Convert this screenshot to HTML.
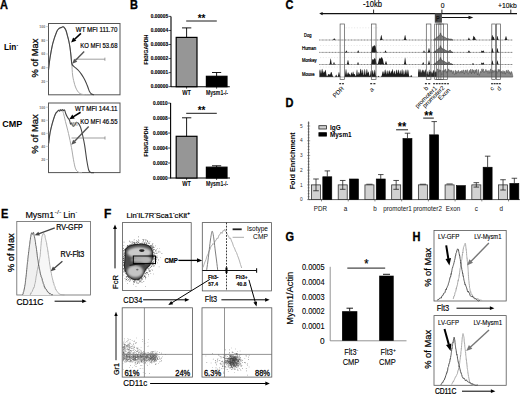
<!DOCTYPE html>
<html><head><meta charset="utf-8"><style>
html,body{margin:0;padding:0;background:#fff;width:520px;height:395px;overflow:hidden}
svg{display:block;font-family:"Liberation Sans",sans-serif}
</style></head><body>
<svg width="520" height="395" viewBox="0 0 520 395">
<rect width="520" height="395" fill="#fff"/>
<text x="0" y="9.3" font-size="11" font-weight="bold" text-anchor="start" fill="#000" transform="matrix(1,0,0,1.13,0,-1.21)" stroke="#000" stroke-width="0.3">A</text>
<rect x="48.5" y="23.5" width="71.5" height="71.3" fill="none" stroke="#555" stroke-width="1"/>
<rect x="48.5" y="103" width="71.5" height="69.6" fill="none" stroke="#555" stroke-width="1"/>
<text x="45.3" y="82.7" font-size="3.6" font-weight="bold" text-anchor="end" fill="#777" transform="matrix(1,0,0,1.13,0,-10.75)">20</text>
<line x1="46" y1="81.4" x2="48.5" y2="81.4" stroke="#999" stroke-width="0.5"/>
<text x="45.3" y="69" font-size="3.6" font-weight="bold" text-anchor="end" fill="#777" transform="matrix(1,0,0,1.13,0,-8.97)">40</text>
<line x1="46" y1="67.7" x2="48.5" y2="67.7" stroke="#999" stroke-width="0.5"/>
<text x="45.3" y="55.3" font-size="3.6" font-weight="bold" text-anchor="end" fill="#777" transform="matrix(1,0,0,1.13,0,-7.19)">60</text>
<line x1="46" y1="54" x2="48.5" y2="54" stroke="#999" stroke-width="0.5"/>
<text x="45.3" y="41.6" font-size="3.6" font-weight="bold" text-anchor="end" fill="#777" transform="matrix(1,0,0,1.13,0,-5.41)">80</text>
<line x1="46" y1="40.3" x2="48.5" y2="40.3" stroke="#999" stroke-width="0.5"/>
<text x="45.3" y="27.9" font-size="3.6" font-weight="bold" text-anchor="end" fill="#777" transform="matrix(1,0,0,1.13,0,-3.63)">100</text>
<line x1="46" y1="26.6" x2="48.5" y2="26.6" stroke="#999" stroke-width="0.5"/>
<text x="45.3" y="160.74" font-size="3.6" font-weight="bold" text-anchor="end" fill="#777" transform="matrix(1,0,0,1.13,0,-20.9)">20</text>
<line x1="46" y1="159.44" x2="48.5" y2="159.44" stroke="#999" stroke-width="0.5"/>
<text x="45.3" y="147.68" font-size="3.6" font-weight="bold" text-anchor="end" fill="#777" transform="matrix(1,0,0,1.13,0,-19.2)">40</text>
<line x1="46" y1="146.38" x2="48.5" y2="146.38" stroke="#999" stroke-width="0.5"/>
<text x="45.3" y="134.62" font-size="3.6" font-weight="bold" text-anchor="end" fill="#777" transform="matrix(1,0,0,1.13,0,-17.5)">60</text>
<line x1="46" y1="133.32" x2="48.5" y2="133.32" stroke="#999" stroke-width="0.5"/>
<text x="45.3" y="121.56" font-size="3.6" font-weight="bold" text-anchor="end" fill="#777" transform="matrix(1,0,0,1.13,0,-15.8)">80</text>
<line x1="46" y1="120.26" x2="48.5" y2="120.26" stroke="#999" stroke-width="0.5"/>
<text x="45.3" y="108.5" font-size="3.6" font-weight="bold" text-anchor="end" fill="#777" transform="matrix(1,0,0,1.13,0,-14.1)">100</text>
<line x1="46" y1="107.2" x2="48.5" y2="107.2" stroke="#999" stroke-width="0.5"/>
<text x="38.4" y="58" font-size="9.8" text-anchor="middle" fill="#000" transform="rotate(-90 38.4 58)" textLength="39" lengthAdjust="spacingAndGlyphs" stroke="#000" stroke-width="0.25">% of Max</text>
<text x="37.7" y="133.9" font-size="9.8" text-anchor="middle" fill="#000" transform="rotate(-90 37.7 133.9)" textLength="39.5" lengthAdjust="spacingAndGlyphs" stroke="#000" stroke-width="0.25">% of Max</text>
<text x="4" y="50.2" font-size="9.6" font-weight="bold" text-anchor="start" fill="#000" textLength="12.4" lengthAdjust="spacingAndGlyphs">Lin</text>
<text x="16.6" y="47" font-size="5" font-weight="bold" text-anchor="start" fill="#000" transform="matrix(1,0,0,1.13,0,-6.11)">-</text>
<text x="2.3" y="127.2" font-size="9.6" font-weight="bold" text-anchor="start" fill="#000" textLength="20" lengthAdjust="spacingAndGlyphs">CMP</text>
<path d="M48.5,70 C48.75,68 49.28,62.43 50,58 C50.72,53.57 51.68,47.78 52.8,43.4 C53.92,39.02 55.67,34.18 56.7,31.7 C57.73,29.22 58.18,29.22 59,28.5 C59.82,27.78 60.93,27.68 61.6,27.4 C62.27,27.12 62.52,26.73 63,26.8 C63.48,26.87 64,27.18 64.5,27.8 C65,28.42 65.52,29.2 66,30.5 C66.48,31.8 66.93,33.85 67.4,35.6 C67.87,37.35 68.37,39.02 68.8,41 C69.23,42.98 69.63,45 70,47.5 C70.37,50 70.7,53.25 71,56 C71.3,58.75 71.53,60.83 71.8,64 C72.07,67.17 72.23,72 72.6,75 C72.97,78 73.52,80 74,82 C74.48,84 74.92,85.5 75.5,87 C76.08,88.5 76.75,89.9 77.5,91 C78.25,92.1 78.92,93 80,93.6 C81.08,94.2 82.33,94.4 84,94.6 C85.67,94.8 89,94.77 90,94.8" fill="none" stroke="#aaa" stroke-width="1" stroke-linejoin="round"/>
<path d="M48.5,70 C48.75,68 49.28,62.43 50,58 C50.72,53.57 51.68,47.78 52.8,43.4 C53.92,39.02 55.67,34.18 56.7,31.7 C57.73,29.22 58.18,29.22 59,28.5 C59.82,27.78 60.93,27.68 61.6,27.4 C62.27,27.12 62.52,26.73 63,26.8 C63.48,26.87 64,27.18 64.5,27.8 C65,28.42 65.52,29.2 66,30.5 C66.48,31.8 66.93,33.85 67.4,35.6 C67.87,37.35 68.37,39.02 68.8,41 C69.23,42.98 69.63,45 70,47.5 C70.37,50 70.7,53.33 71,56 C71.3,58.67 71.38,61.8 71.8,63.5 C72.22,65.2 72.8,65.42 73.5,66.2 C74.2,66.98 75.17,67.48 76,68.2 C76.83,68.92 77.67,69.6 78.5,70.5 C79.33,71.4 80.17,72.43 81,73.6 C81.83,74.77 82.67,76.03 83.5,77.5 C84.33,78.97 85.25,80.73 86,82.4 C86.75,84.07 87.42,85.98 88,87.5 C88.58,89.02 88.92,90.42 89.5,91.5 C90.08,92.58 90.75,93.45 91.5,94 C92.25,94.55 93.58,94.67 94,94.8" fill="none" stroke="#444" stroke-width="1.1" stroke-linejoin="round"/>
<line x1="75.2" y1="59.2" x2="104.9" y2="59.2" stroke="#777" stroke-width="0.7"/>
<line x1="104.9" y1="57.6" x2="104.9" y2="60.8" stroke="#777" stroke-width="0.7"/>
<line x1="80.9" y1="33.3" x2="74.36" y2="39.5" stroke="#000" stroke-width="1.6"/>
<polygon points="71.1,42.6 73.14,37.49 76.31,40.83" fill="#000" stroke="none" stroke-width="0.5"/>
<line x1="84.2" y1="51.5" x2="75.34" y2="60.58" stroke="#555" stroke-width="1.4"/>
<polygon points="72.2,63.8 74.12,58.68 77.27,61.76" fill="#555" stroke="none" stroke-width="0.5"/>
<text x="75.8" y="31.8" font-size="6.6" text-anchor="start" fill="#000" transform="matrix(1,0,0,1.13,0,-4.13)" textLength="41.7" lengthAdjust="spacingAndGlyphs" stroke="#000" stroke-width="0.18">WT MFI 111.70</text>
<text x="80.2" y="48.4" font-size="6.6" text-anchor="start" fill="#000" transform="matrix(1,0,0,1.13,0,-6.29)" textLength="37.3" lengthAdjust="spacingAndGlyphs" stroke="#000" stroke-width="0.18">KO MFI 53.68</text>
<path d="M48.6,143.6 C48.92,141.5 49.77,134.77 50.5,131 C51.23,127.23 52.08,124 53,121 C53.92,118 55,114.83 56,113 C57,111.17 58,110.42 59,110 C60,109.58 61.25,109.92 62,110.5 C62.75,111.08 62.93,111.7 63.5,113.5 C64.07,115.3 64.57,117.97 65.4,121.3 C66.23,124.63 67.48,129.1 68.5,133.5 C69.52,137.9 70.67,143.32 71.5,147.7 C72.33,152.08 72.82,156.27 73.5,159.8 C74.18,163.33 74.75,166.83 75.6,168.9 C76.45,170.97 77.53,171.58 78.6,172.2 C79.67,172.82 81.43,172.53 82,172.6" fill="none" stroke="#aaa" stroke-width="1" stroke-linejoin="round"/>
<path d="M48.6,143.6 C48.83,141.83 49.38,136.37 50,133 C50.62,129.63 51.42,126.53 52.3,123.4 C53.18,120.27 54.43,116.18 55.3,114.2 C56.17,112.22 56.95,112.17 57.5,111.5 C58.05,110.83 58.25,110.23 58.6,110.2 C58.95,110.17 59.27,111.37 59.6,111.3 C59.93,111.23 60.27,109.92 60.6,109.8 C60.93,109.68 61.27,110.63 61.6,110.6 C61.93,110.57 62.27,109.6 62.6,109.6 C62.93,109.6 63.27,110.53 63.6,110.6 C63.93,110.67 64.27,109.57 64.6,110 C64.93,110.43 65.12,111.98 65.6,113.2 C66.08,114.42 66.85,116.12 67.5,117.3 C68.15,118.48 69,119.18 69.5,120.3 C70,121.42 70.17,123.52 70.5,124 C70.83,124.48 71.08,122.87 71.5,123.2 C71.92,123.53 72.48,125.63 73,126 C73.52,126.37 74.02,126.02 74.6,125.4 C75.18,124.78 75.83,122.6 76.5,122.3 C77.17,122 77.92,122.75 78.6,123.6 C79.28,124.45 79.92,125.42 80.6,127.4 C81.28,129.38 82.02,132.47 82.7,135.5 C83.38,138.53 84.03,141.55 84.7,145.6 C85.37,149.65 86.03,155.73 86.7,159.8 C87.37,163.87 88.02,167.9 88.7,170 C89.38,172.1 89.92,171.97 90.8,172.4 C91.68,172.83 93.47,172.57 94,172.6" fill="none" stroke="#444" stroke-width="1.1" stroke-linejoin="round"/>
<text x="71.3" y="125.6" font-size="4.6" font-weight="bold" text-anchor="start" fill="#888" transform="matrix(1,0,0,1.13,0,-16.33)">WT</text>
<line x1="71.5" y1="138" x2="105" y2="138" stroke="#777" stroke-width="0.7"/>
<line x1="105" y1="136.4" x2="105" y2="139.6" stroke="#777" stroke-width="0.7"/>
<line x1="80.6" y1="112.2" x2="73.13" y2="116.83" stroke="#000" stroke-width="1.6"/>
<polygon points="69.3,119.2 72.34,114.61 74.76,118.52" fill="#000" stroke="none" stroke-width="0.5"/>
<line x1="88.7" y1="126.4" x2="74.39" y2="141.53" stroke="#555" stroke-width="1.4"/>
<polygon points="71.3,144.8 73.14,139.66 76.33,142.68" fill="#555" stroke="none" stroke-width="0.5"/>
<text x="75" y="111.1" font-size="6.6" text-anchor="start" fill="#000" transform="matrix(1,0,0,1.13,0,-14.44)" textLength="42.5" lengthAdjust="spacingAndGlyphs" stroke="#000" stroke-width="0.18">WT MFI 144.11</text>
<text x="80.2" y="123.6" font-size="6.6" text-anchor="start" fill="#000" transform="matrix(1,0,0,1.13,0,-16.07)" textLength="37.3" lengthAdjust="spacingAndGlyphs" stroke="#000" stroke-width="0.18">KO MFI 46.55</text>
<text x="130" y="9" font-size="11" font-weight="bold" text-anchor="start" fill="#000" transform="matrix(1,0,0,1.13,0,-1.17)" stroke="#000" stroke-width="0.3">B</text>
<line x1="168.5" y1="86.7" x2="171" y2="86.7" stroke="#000" stroke-width="0.7"/>
<text x="168.1" y="88.4" font-size="4.8" font-weight="bold" text-anchor="end" fill="#000" transform="matrix(1,0,0,1.13,0,-11.49)" stroke="#000" stroke-width="0.12">0.00000</text>
<line x1="168.5" y1="72.64" x2="171" y2="72.64" stroke="#000" stroke-width="0.7"/>
<text x="168.1" y="74.34" font-size="4.8" font-weight="bold" text-anchor="end" fill="#000" transform="matrix(1,0,0,1.13,0,-9.66)" stroke="#000" stroke-width="0.12">0.00001</text>
<line x1="168.5" y1="58.58" x2="171" y2="58.58" stroke="#000" stroke-width="0.7"/>
<text x="168.1" y="60.28" font-size="4.8" font-weight="bold" text-anchor="end" fill="#000" transform="matrix(1,0,0,1.13,0,-7.84)" stroke="#000" stroke-width="0.12">0.00002</text>
<line x1="168.5" y1="44.52" x2="171" y2="44.52" stroke="#000" stroke-width="0.7"/>
<text x="168.1" y="46.22" font-size="4.8" font-weight="bold" text-anchor="end" fill="#000" transform="matrix(1,0,0,1.13,0,-6.01)" stroke="#000" stroke-width="0.12">0.00003</text>
<line x1="168.5" y1="30.46" x2="171" y2="30.46" stroke="#000" stroke-width="0.7"/>
<text x="168.1" y="32.16" font-size="4.8" font-weight="bold" text-anchor="end" fill="#000" transform="matrix(1,0,0,1.13,0,-4.18)" stroke="#000" stroke-width="0.12">0.00004</text>
<line x1="168.5" y1="16.4" x2="171" y2="16.4" stroke="#000" stroke-width="0.7"/>
<text x="168.1" y="18.1" font-size="4.8" font-weight="bold" text-anchor="end" fill="#000" transform="matrix(1,0,0,1.13,0,-2.35)" stroke="#000" stroke-width="0.12">0.00005</text>
<line x1="171" y1="16.4" x2="171" y2="87.1" stroke="#000" stroke-width="1.1"/>
<line x1="171" y1="86.7" x2="229.8" y2="86.7" stroke="#000" stroke-width="1.1"/>
<line x1="186.6" y1="86.7" x2="186.6" y2="88.7" stroke="#000" stroke-width="0.7"/>
<line x1="216.6" y1="86.7" x2="216.6" y2="88.7" stroke="#000" stroke-width="0.7"/>
<rect x="176.2" y="37.4" width="20.8" height="49.3" fill="#969696" stroke="#000" stroke-width="1.2"/>
<line x1="186.6" y1="37.4" x2="186.6" y2="27.9" stroke="#000" stroke-width="0.9"/>
<line x1="182" y1="27.9" x2="191.3" y2="27.9" stroke="#000" stroke-width="0.9"/>
<rect x="206.4" y="76.3" width="20.6" height="10.4" fill="#000" stroke="#000" stroke-width="1.2"/>
<line x1="216.6" y1="76.3" x2="216.6" y2="72.5" stroke="#000" stroke-width="0.9"/>
<line x1="212" y1="72.5" x2="221.2" y2="72.5" stroke="#000" stroke-width="0.9"/>
<line x1="186.2" y1="21" x2="216.8" y2="21" stroke="#000" stroke-width="0.9"/>
<text x="201.6" y="21.7" font-size="10" font-weight="bold" text-anchor="middle" fill="#000" transform="matrix(1,0,0,1.13,0,-2.82)">**</text>
<text x="186.6" y="95.1" font-size="5.6" font-weight="bold" text-anchor="middle" fill="#000" transform="matrix(1,0,0,1.13,0,-12.36)">WT</text>
<text x="217" y="95.1" font-size="5.6" font-weight="bold" text-anchor="middle" fill="#000" transform="matrix(1,0,0,1.13,0,-12.36)" textLength="22" lengthAdjust="spacingAndGlyphs">Mysm1-/-</text>
<text x="147.6" y="49.6" font-size="5.3" font-weight="bold" text-anchor="middle" fill="#000" transform="rotate(-90 147.6 49.6)" textLength="30" lengthAdjust="spacingAndGlyphs" stroke="#000" stroke-width="0.1">Flt3/GAPDH</text>
<line x1="168.1" y1="178" x2="170.6" y2="178" stroke="#000" stroke-width="0.7"/>
<text x="167.7" y="179.7" font-size="4.8" font-weight="bold" text-anchor="end" fill="#000" transform="matrix(1,0,0,1.13,0,-23.36)" stroke="#000" stroke-width="0.12">0.0000</text>
<line x1="168.1" y1="163.02" x2="170.6" y2="163.02" stroke="#000" stroke-width="0.7"/>
<text x="167.7" y="164.72" font-size="4.8" font-weight="bold" text-anchor="end" fill="#000" transform="matrix(1,0,0,1.13,0,-21.41)" stroke="#000" stroke-width="0.12">0.0002</text>
<line x1="168.1" y1="148.04" x2="170.6" y2="148.04" stroke="#000" stroke-width="0.7"/>
<text x="167.7" y="149.74" font-size="4.8" font-weight="bold" text-anchor="end" fill="#000" transform="matrix(1,0,0,1.13,0,-19.47)" stroke="#000" stroke-width="0.12">0.0004</text>
<line x1="168.1" y1="133.06" x2="170.6" y2="133.06" stroke="#000" stroke-width="0.7"/>
<text x="167.7" y="134.76" font-size="4.8" font-weight="bold" text-anchor="end" fill="#000" transform="matrix(1,0,0,1.13,0,-17.52)" stroke="#000" stroke-width="0.12">0.0006</text>
<line x1="168.1" y1="118.08" x2="170.6" y2="118.08" stroke="#000" stroke-width="0.7"/>
<text x="167.7" y="119.78" font-size="4.8" font-weight="bold" text-anchor="end" fill="#000" transform="matrix(1,0,0,1.13,0,-15.57)" stroke="#000" stroke-width="0.12">0.0008</text>
<line x1="168.1" y1="103.1" x2="170.6" y2="103.1" stroke="#000" stroke-width="0.7"/>
<text x="167.7" y="104.8" font-size="4.8" font-weight="bold" text-anchor="end" fill="#000" transform="matrix(1,0,0,1.13,0,-13.62)" stroke="#000" stroke-width="0.12">0.0010</text>
<line x1="170.6" y1="103.1" x2="170.6" y2="178.4" stroke="#000" stroke-width="1.1"/>
<line x1="170.6" y1="178" x2="230" y2="178" stroke="#000" stroke-width="1.1"/>
<line x1="186.6" y1="178" x2="186.6" y2="180" stroke="#000" stroke-width="0.7"/>
<line x1="216.6" y1="178" x2="216.6" y2="180" stroke="#000" stroke-width="0.7"/>
<rect x="176.2" y="136.3" width="20.8" height="41.7" fill="#969696" stroke="#000" stroke-width="1.2"/>
<line x1="186.6" y1="136.3" x2="186.6" y2="117.8" stroke="#000" stroke-width="0.9"/>
<line x1="182" y1="117.8" x2="191.3" y2="117.8" stroke="#000" stroke-width="0.9"/>
<rect x="206.4" y="167.2" width="20.6" height="10.8" fill="#000" stroke="#000" stroke-width="1.2"/>
<line x1="216.6" y1="167.2" x2="216.6" y2="165.8" stroke="#000" stroke-width="0.9"/>
<line x1="212" y1="165.8" x2="221.2" y2="165.8" stroke="#000" stroke-width="0.9"/>
<line x1="186.2" y1="113.3" x2="216.8" y2="113.3" stroke="#000" stroke-width="0.9"/>
<text x="201.6" y="114" font-size="10" font-weight="bold" text-anchor="middle" fill="#000" transform="matrix(1,0,0,1.13,0,-14.82)">**</text>
<text x="186.6" y="186.4" font-size="5.6" font-weight="bold" text-anchor="middle" fill="#000" transform="matrix(1,0,0,1.13,0,-24.23)">WT</text>
<text x="217" y="186.4" font-size="5.6" font-weight="bold" text-anchor="middle" fill="#000" transform="matrix(1,0,0,1.13,0,-24.23)" textLength="22" lengthAdjust="spacingAndGlyphs">Mysm1-/-</text>
<text x="147.6" y="141.5" font-size="5.3" font-weight="bold" text-anchor="middle" fill="#000" transform="rotate(-90 147.6 141.5)" textLength="30" lengthAdjust="spacingAndGlyphs" stroke="#000" stroke-width="0.1">Flt3/GAPDH</text>
<text x="285.6" y="9.2" font-size="11" font-weight="bold" text-anchor="start" fill="#000" transform="matrix(1,0,0,1.13,0,-1.2)" stroke="#000" stroke-width="0.3">C</text>
<line x1="321" y1="13.6" x2="517" y2="13.6" stroke="#111" stroke-width="1.1"/>
<polygon points="319.2,13.6 322.6,11.9 322.6,15.3" fill="#111" stroke="none" stroke-width="0.5"/>
<line x1="373.6" y1="9.6" x2="373.6" y2="13.6" stroke="#111" stroke-width="0.9"/>
<line x1="441.9" y1="9.6" x2="441.9" y2="13.6" stroke="#111" stroke-width="0.9"/>
<line x1="510.8" y1="9.6" x2="510.8" y2="13.6" stroke="#111" stroke-width="0.9"/>
<text x="372.6" y="7.3" font-size="7.4" text-anchor="middle" fill="#000" transform="matrix(1,0,0,1.13,0,-0.95)" textLength="19" lengthAdjust="spacingAndGlyphs" stroke="#000" stroke-width="0.12">-10kb</text>
<text x="442.7" y="7.9" font-size="6.8" text-anchor="middle" fill="#000" transform="matrix(1,0,0,1.13,0,-1.03)" stroke="#000" stroke-width="0.12">0</text>
<text x="507.4" y="7.9" font-size="7" text-anchor="middle" fill="#000" transform="matrix(1,0,0,1.13,0,-1.03)" textLength="18.6" lengthAdjust="spacingAndGlyphs" stroke="#000" stroke-width="0.12">+10kb</text>
<rect x="434.8" y="13.3" width="7.1" height="9.4" fill="#4a4a4a" stroke="none" stroke-width="1"/>
<text x="436" y="20.6" font-size="5.6" font-weight="bold" text-anchor="start" fill="#111" transform="matrix(1,0,0,1.13,0,-2.68)">P</text>
<line x1="441.9" y1="17.5" x2="469.5" y2="17.5" stroke="#111" stroke-width="1"/>
<polygon points="473.3,17.5 468.5,15.7 468.5,19.3" fill="#111" stroke="none" stroke-width="0.5"/>
<text x="304.1" y="37.4" font-size="4.6" text-anchor="start" fill="#000" transform="matrix(1,0,0,1.13,0,-4.86)" textLength="7.4" lengthAdjust="spacingAndGlyphs" stroke="#000" stroke-width="0.2">Dog</text>
<text x="302" y="49.8" font-size="4.6" text-anchor="start" fill="#000" transform="matrix(1,0,0,1.13,0,-6.47)" textLength="14.2" lengthAdjust="spacingAndGlyphs" stroke="#000" stroke-width="0.2">Human</text>
<text x="302" y="62.3" font-size="4.6" text-anchor="start" fill="#000" transform="matrix(1,0,0,1.13,0,-8.1)" textLength="14.6" lengthAdjust="spacingAndGlyphs" stroke="#000" stroke-width="0.2">Monkey</text>
<text x="302" y="75.6" font-size="4.6" text-anchor="start" fill="#000" transform="matrix(1,0,0,1.13,0,-9.83)" textLength="12.5" lengthAdjust="spacingAndGlyphs" stroke="#000" stroke-width="0.2">Mouse</text>
<line x1="345.6" y1="27.8" x2="378" y2="27.8" stroke="#d4d4d4" stroke-width="0.5" stroke-dasharray="1.2,1.6"/>
<line x1="320" y1="45.5" x2="512" y2="45.5" stroke="#d4d4d4" stroke-width="0.5" stroke-dasharray="1.2,1.6"/>
<line x1="320" y1="57.6" x2="512" y2="57.6" stroke="#d4d4d4" stroke-width="0.5" stroke-dasharray="1.2,1.6"/>
<line x1="320" y1="67" x2="512" y2="67" stroke="#d4d4d4" stroke-width="0.5" stroke-dasharray="1.2,1.6"/>
<line x1="319.4" y1="40" x2="512.6" y2="40" stroke="#777" stroke-width="0.5"/>
<line x1="319.4" y1="40" x2="512.6" y2="40" stroke="#333" stroke-width="0.6" stroke-dasharray="0.6,2.6"/>
<polygon points="433.5,40 433.5,39.98 433.8,39.92 434.1,39.7 434.4,39.27 434.7,38.75 435,38.48 435.3,38.65 435.6,38.89 435.9,38.65 436.2,37.88 436.5,37.2 436.8,37.22 437.1,37.61 437.4,37.51 437.7,36.78 438,36.21 438.3,36.24 438.6,36.25 438.9,35.77 439.2,35.42 439.5,35.57 439.8,35.26 440.1,33.87 440.4,32.86 440.7,33.5 441,34.59 441.3,34.92 441.6,35.19 441.9,35.96 442.2,36.46 442.5,36.21 442.8,35.99 443.1,36.53 443.4,37.31 443.7,37.41 444,36.95 444.3,36.81 444.6,37.27 444.9,37.76 445.2,37.83 445.5,37.71 445.8,37.81 446.1,38.13 446.4,38.32 446.7,38.25 447,38.22 447.3,38.5 447.6,38.89 447.9,39.02 448.2,38.87 448.5,38.68 448.8,38.7 449.1,38.9 449.4,39.05 449.7,39.05 450,38.96 450.3,38.97 450.6,39.1 450.9,39.23 451.2,39.24 451.5,39.22 451.8,39.33 452.1,39.57 452.4,39.8 452.7,39.94 453,40" fill="#888" stroke="#222" stroke-width="0.5"/>
<polygon points="319.4,40 319.4,40 319.7,40 320,40 320.3,40 320.6,40 320.9,40 321.2,40 321.5,40 321.8,40 322.1,40 322.4,40 322.7,40 323,40 323.3,40 323.6,40 323.9,40 324.2,40 324.5,40 324.8,40 325.1,40 325.4,40 325.7,40 326,40 326.3,40 326.6,40 326.9,40 327.2,40 327.5,40 327.8,40 328.1,40 328.4,40 328.7,40 329,40 329.3,40 329.6,40 329.9,40 330.2,40 330.5,40 330.8,40 331.1,40 331.4,40 331.7,40 332,40 332.3,40 332.6,39.99 332.9,39.94 333.2,39.76 333.5,39.32 333.8,38.69 334.1,38.24 334.4,38.34 334.7,38.91 335,39.5 335.3,39.84 335.6,39.96 335.9,39.99 336.2,40 336.5,40 336.8,40 337.1,40 337.4,40 337.7,40 338,40 338.3,40 338.6,40 338.9,40 339.2,40 339.5,40 339.8,40 340.1,40 340.4,40 340.7,40 341,40 341.3,40 341.6,40 341.9,40 342.2,40 342.5,40 342.8,40 343.1,40 343.4,40 343.7,40 344,40 344.3,40 344.6,40 344.9,40 345.2,40 345.5,40 345.8,40 346.1,40 346.4,40 346.7,40 347,40 347.3,40 347.6,40 347.9,40 348.2,40 348.5,40 348.8,40 349.1,40 349.4,40 349.7,40 350,40 350.3,40 350.6,40 350.9,40 351.2,40 351.5,40 351.8,40 352.1,40 352.4,40 352.7,40 353,40 353.3,40 353.6,40 353.9,40 354.2,40 354.5,40 354.8,40 355.1,40 355.4,40 355.7,40 356,40 356.3,40 356.6,40 356.9,40 357.2,40 357.5,40 357.8,40 358.1,40 358.4,40 358.7,40 359,40 359.3,40 359.6,40 359.9,40 360.2,40 360.5,40 360.8,40 361.1,40 361.4,40 361.7,40 362,40 362.3,40 362.6,40 362.9,40 363.2,40 363.5,40 363.8,40 364.1,40 364.4,40 364.7,40 365,40 365.3,40 365.6,40 365.9,40 366.2,40 366.5,40 366.8,40 367.1,40 367.4,40 367.7,40 368,40 368.3,40 368.6,40 368.9,40 369.2,40 369.5,40 369.8,40 370.1,40 370.4,40 370.7,40 371,40 371.3,40 371.6,40 371.9,40 372.2,40 372.5,40 372.8,40 373.1,40 373.4,40 373.7,40 374,40 374.3,40 374.6,40 374.9,40 375.2,40 375.5,40 375.8,40 376.1,40 376.4,40 376.7,40 377,40 377.3,40 377.6,40 377.9,40 378.2,40 378.5,40 378.8,40 379.1,40 379.4,39.99 379.7,39.92 380,39.68 380.3,39 380.6,37.69 380.9,36.01 381.2,34.89 381.5,35.13 381.8,36.56 382.1,38.19 382.4,39.3 382.7,39.8 383,39.96 383.3,39.99 383.6,40 383.9,40 384.2,40 384.5,40 384.8,40 385.1,40 385.4,40 385.7,40 386,40 386.3,40 386.6,40 386.9,40 387.2,40 387.5,40 387.8,40 388.1,40 388.4,40 388.7,40 389,40 389.3,40 389.6,40 389.9,40 390.2,40 390.5,40 390.8,40 391.1,40 391.4,40 391.7,40 392,40 392.3,40 392.6,40 392.9,40 393.2,40 393.5,40 393.8,40 394.1,40 394.4,40 394.7,40 395,40 395.3,40 395.6,40 395.9,40 396.2,40 396.5,40 396.8,40 397.1,40 397.4,40 397.7,40 398,40 398.3,40 398.6,40 398.9,40 399.2,40 399.5,40 399.8,40 400.1,40 400.4,40 400.7,40 401,40 401.3,40 401.6,40 401.9,40 402.2,40 402.5,40 402.8,40 403.1,39.99 403.4,39.96 403.7,39.8 404,39.3 404.3,38.19 404.6,36.56 404.9,35.13 405.2,34.89 405.5,36.01 405.8,37.69 406.1,39 406.4,39.68 406.7,39.92 407,39.99 407.3,40 407.6,40 407.9,40 408.2,40 408.5,40 408.8,40 409.1,40 409.4,40 409.7,40 410,40 410.3,40 410.6,40 410.9,40 411.2,40 411.5,40 411.8,40 412.1,40 412.4,40 412.7,40 413,40 413.3,40 413.6,40 413.9,40 414.2,40 414.5,40 414.8,40 415.1,40 415.4,40 415.7,40 416,40 416.3,40 416.6,40 416.9,40 417.2,40 417.5,40 417.8,40 418.1,40 418.4,40 418.7,40 419,40 419.3,40 419.6,40 419.9,40 420.2,40 420.5,40 420.8,40 421.1,40 421.4,40 421.7,40 422,40 422.3,40 422.6,40 422.9,40 423.2,40 423.5,40 423.8,40 424.1,40 424.4,40 424.7,40 425,40 425.3,40 425.6,40 425.9,40 426.2,40 426.5,40 426.8,40 427.1,40 427.4,40 427.7,40 428,40 428.3,40 428.6,40 428.9,40 429.2,40 429.5,40 429.8,40 430.1,40 430.4,40 430.7,40 431,40 431.3,40 431.6,40 431.9,40 432.2,40 432.5,40 432.8,40 433.1,40 433.4,40 433.7,40 434,40 434.3,40 434.6,40 434.9,40 435.2,40 435.5,40 435.8,40 436.1,40 436.4,40 436.7,40 437,40 437.3,40 437.6,40 437.9,40 438.2,40 438.5,40 438.8,40 439.1,40 439.4,40 439.7,40 440,40 440.3,40 440.6,40 440.9,40 441.2,40 441.5,40 441.8,40 442.1,40 442.4,40 442.7,40 443,40 443.3,40 443.6,40 443.9,40 444.2,40 444.5,40 444.8,40 445.1,40 445.4,40 445.7,40 446,40 446.3,40 446.6,40 446.9,40 447.2,40 447.5,40 447.8,40 448.1,40 448.4,40 448.7,40 449,40 449.3,40 449.6,40 449.9,40 450.2,40 450.5,40 450.8,40 451.1,40 451.4,40 451.7,40 452,40 452.3,40 452.6,40 452.9,40 453.2,40 453.5,40 453.8,40 454.1,40 454.4,40 454.7,40 455,40 455.3,40 455.6,40 455.9,40 456.2,40 456.5,40 456.8,40 457.1,40 457.4,40 457.7,40 458,40 458.3,40 458.6,40 458.9,40 459.2,40 459.5,40 459.8,40 460.1,40 460.4,40 460.7,40 461,40 461.3,40 461.6,40 461.9,40 462.2,40 462.5,40 462.8,40 463.1,40 463.4,40 463.7,40 464,40 464.3,40 464.6,40 464.9,40 465.2,40 465.5,40 465.8,40 466.1,40 466.4,40 466.7,40 467,40 467.3,39.99 467.6,39.91 467.9,39.66 468.2,39.06 468.5,38.18 468.8,37.55 469.1,37.69 469.4,38.48 469.7,39.3 470,39.78 470.3,39.95 470.6,39.99 470.9,40 471.2,40 471.5,40 471.8,39.99 472.1,39.95 472.4,39.76 472.7,39.17 473,37.95 473.3,36.46 473.6,35.66 473.9,36 474.2,36.74 474.5,37.08 474.8,37.26 475.1,37.87 475.4,38.78 475.7,39.51 476,39.86 476.3,39.97 476.6,40 476.9,40 477.2,40 477.5,40 477.8,40 478.1,40 478.4,40 478.7,40 479,40 479.3,40 479.6,40 479.9,40 480.2,40 480.5,40 480.8,40 481.1,40 481.4,40 481.7,40 482,40 482.3,40 482.6,40 482.9,40 483.2,40 483.5,40 483.8,40 484.1,40 484.4,40 484.7,40 485,40 485.3,40 485.6,40 485.9,40 486.2,40 486.5,40 486.8,40 487.1,40 487.4,40 487.7,40 488,40 488.3,40 488.6,40 488.9,40 489.2,40 489.5,40 489.8,40 490.1,40 490.4,40 490.7,39.97 491,39.83 491.3,39.32 491.6,38.12 491.9,36.36 492.2,35.04 492.5,35.12 492.8,36.13 493.1,36.79 493.4,36.79 493.7,36.96 494,37.81 494.3,38.87 494.6,39.59 494.9,39.9 495.2,39.98 495.5,39.99 495.8,39.97 496.1,39.86 496.4,39.43 496.7,38.42 497,36.95 497.3,35.88 497.6,36.12 497.9,37.45 498.2,38.83 498.5,39.63 498.8,39.92 499.1,39.99 499.4,40 499.7,40 500,40 500.3,40 500.6,40 500.9,40 501.2,40 501.5,40 501.8,40 502.1,40 502.4,40 502.7,40 503,40 503.3,40 503.6,40 503.9,39.99 504.2,39.96 504.5,39.82 504.8,39.46 505.1,38.7 505.4,37.57 505.7,36.47 506,36 506.3,36.47 506.6,37.57 506.9,38.7 507.2,39.46 507.5,39.82 507.8,39.96 508.1,39.99 508.4,40 508.7,40 509,40 509.3,40 509.6,40 509.9,40 510.2,40 510.5,40 510.8,40 511.1,40 511.4,40 511.7,40 512,40 512.3,40 512.6,40" fill="#222" stroke="none" stroke-width="0.4"/>
<line x1="319.4" y1="52.4" x2="512.6" y2="52.4" stroke="#777" stroke-width="0.5"/>
<line x1="319.4" y1="52.4" x2="512.6" y2="52.4" stroke="#333" stroke-width="0.6" stroke-dasharray="0.6,2.6"/>
<polygon points="433.5,52.4 433.5,52.38 433.8,52.32 434.1,52.12 434.4,51.71 434.7,51.21 435,50.96 435.3,51.12 435.6,51.35 435.9,51.12 436.2,50.38 436.5,49.74 436.8,49.76 437.1,50.13 437.4,50.04 437.7,49.34 438,48.8 438.3,48.82 438.6,48.84 438.9,48.39 439.2,48.05 439.5,48.19 439.8,47.9 440.1,46.58 440.4,45.62 440.7,46.22 441,47.26 441.3,47.58 441.6,47.83 441.9,48.56 442.2,49.04 442.5,48.8 442.8,48.59 443.1,49.11 443.4,49.84 443.7,49.94 444,49.51 444.3,49.37 444.6,49.8 444.9,50.27 445.2,50.34 445.5,50.22 445.8,50.32 446.1,50.62 446.4,50.8 446.7,50.73 447,50.71 447.3,50.97 447.6,51.34 447.9,51.47 448.2,51.32 448.5,51.13 448.8,51.08 449.1,51.05 449.4,50.77 449.7,50.25 450,49.92 450.3,50.17 450.6,50.81 450.9,51.37 451.2,51.6 451.5,51.64 451.8,51.76 452.1,51.99 452.4,52.21 452.7,52.34 453,52.4" fill="#777" stroke="#1a1a1a" stroke-width="0.5"/>
<polygon points="319.4,52.4 319.4,52.4 319.7,52.4 320,52.4 320.3,52.4 320.6,52.4 320.9,52.4 321.2,52.4 321.5,52.4 321.8,52.4 322.1,52.4 322.4,52.4 322.7,52.4 323,52.4 323.3,52.4 323.6,52.4 323.9,52.4 324.2,52.4 324.5,52.4 324.8,52.4 325.1,52.4 325.4,52.4 325.7,52.4 326,52.4 326.3,52.4 326.6,52.4 326.9,52.4 327.2,52.4 327.5,52.4 327.8,52.4 328.1,52.4 328.4,52.4 328.7,52.4 329,52.4 329.3,52.4 329.6,52.4 329.9,52.4 330.2,52.4 330.5,52.4 330.8,52.4 331.1,52.4 331.4,52.4 331.7,52.4 332,52.4 332.3,52.4 332.6,52.4 332.9,52.4 333.2,52.4 333.5,52.4 333.8,52.4 334.1,52.4 334.4,52.4 334.7,52.4 335,52.4 335.3,52.4 335.6,52.4 335.9,52.4 336.2,52.4 336.5,52.4 336.8,52.4 337.1,52.4 337.4,52.4 337.7,52.4 338,52.4 338.3,52.4 338.6,52.4 338.9,52.4 339.2,52.4 339.5,52.4 339.8,52.4 340.1,52.4 340.4,52.4 340.7,52.4 341,52.4 341.3,52.4 341.6,52.4 341.9,52.4 342.2,52.4 342.5,52.4 342.8,52.4 343.1,52.4 343.4,52.4 343.7,52.4 344,52.4 344.3,52.4 344.6,52.4 344.9,52.38 345.2,52.29 345.5,52 345.8,51.43 346.1,50.73 346.4,50.4 346.7,50.73 347,51.43 347.3,52 347.6,52.29 347.9,52.38 348.2,52.4 348.5,52.4 348.8,52.4 349.1,52.4 349.4,52.4 349.7,52.4 350,52.4 350.3,52.4 350.6,52.4 350.9,52.4 351.2,52.4 351.5,52.4 351.8,52.4 352.1,52.4 352.4,52.4 352.7,52.4 353,52.4 353.3,52.4 353.6,52.4 353.9,52.4 354.2,52.4 354.5,52.4 354.8,52.4 355.1,52.4 355.4,52.4 355.7,52.4 356,52.4 356.3,52.4 356.6,52.4 356.9,52.37 357.2,52.21 357.5,51.74 357.8,50.92 358.1,50.25 358.4,50.41 358.7,51.21 359,51.95 359.3,52.29 359.6,52.38 359.9,52.4 360.2,52.4 360.5,52.4 360.8,52.4 361.1,52.4 361.4,52.4 361.7,52.4 362,52.4 362.3,52.4 362.6,52.4 362.9,52.4 363.2,52.4 363.5,52.4 363.8,52.4 364.1,52.4 364.4,52.4 364.7,52.4 365,52.4 365.3,52.4 365.6,52.4 365.9,52.4 366.2,52.4 366.5,52.4 366.8,52.4 367.1,52.4 367.4,52.4 367.7,52.4 368,52.4 368.3,52.4 368.6,52.4 368.9,52.4 369.2,52.4 369.5,52.4 369.8,52.4 370.1,52.39 370.4,52.36 370.7,52.26 371,51.99 371.3,51.4 371.6,50.38 371.9,48.98 372.2,47.54 372.5,46.53 372.8,46.18 373.1,46.26 373.4,46.25 373.7,45.91 374,45.47 374.3,45.29 374.6,45.42 374.9,45.58 375.2,45.75 375.5,46.29 375.8,47.53 376.1,49.21 376.4,50.73 376.7,51.71 377,52.18 377.3,52.34 377.6,52.39 377.9,52.4 378.2,52.4 378.5,52.4 378.8,52.4 379.1,52.4 379.4,52.4 379.7,52.4 380,52.4 380.3,52.4 380.6,52.4 380.9,52.4 381.2,52.4 381.5,52.4 381.8,52.4 382.1,52.4 382.4,52.4 382.7,52.4 383,52.4 383.3,52.4 383.6,52.4 383.9,52.4 384.2,52.37 384.5,52.23 384.8,51.8 385.1,51.05 385.4,50.45 385.7,50.59 386,51.32 386.3,51.99 386.6,52.3 386.9,52.38 387.2,52.4 387.5,52.4 387.8,52.4 388.1,52.4 388.4,52.4 388.7,52.4 389,52.4 389.3,52.4 389.6,52.4 389.9,52.4 390.2,52.4 390.5,52.4 390.8,52.4 391.1,52.4 391.4,52.4 391.7,52.4 392,52.4 392.3,52.4 392.6,52.4 392.9,52.4 393.2,52.4 393.5,52.4 393.8,52.4 394.1,52.4 394.4,52.4 394.7,52.4 395,52.4 395.3,52.4 395.6,52.4 395.9,52.4 396.2,52.4 396.5,52.4 396.8,52.4 397.1,52.4 397.4,52.4 397.7,52.4 398,52.4 398.3,52.4 398.6,52.4 398.9,52.4 399.2,52.4 399.5,52.4 399.8,52.4 400.1,52.4 400.4,52.4 400.7,52.4 401,52.4 401.3,52.4 401.6,52.4 401.9,52.4 402.2,52.4 402.5,52.4 402.8,52.4 403.1,52.4 403.4,52.4 403.7,52.4 404,52.4 404.3,52.4 404.6,52.4 404.9,52.4 405.2,52.4 405.5,52.4 405.8,52.4 406.1,52.4 406.4,52.4 406.7,52.4 407,52.4 407.3,52.4 407.6,52.4 407.9,52.4 408.2,52.4 408.5,52.4 408.8,52.4 409.1,52.4 409.4,52.4 409.7,52.4 410,52.4 410.3,52.4 410.6,52.4 410.9,52.4 411.2,52.4 411.5,52.4 411.8,52.4 412.1,52.4 412.4,52.4 412.7,52.4 413,52.4 413.3,52.4 413.6,52.4 413.9,52.4 414.2,52.4 414.5,52.4 414.8,52.4 415.1,52.4 415.4,52.4 415.7,52.4 416,52.4 416.3,52.4 416.6,52.4 416.9,52.4 417.2,52.4 417.5,52.4 417.8,52.4 418.1,52.4 418.4,52.4 418.7,52.4 419,52.4 419.3,52.4 419.6,52.4 419.9,52.4 420.2,52.4 420.5,52.4 420.8,52.4 421.1,52.4 421.4,52.4 421.7,52.4 422,52.4 422.3,52.4 422.6,52.38 422.9,52.3 423.2,51.99 423.5,51.32 423.8,50.59 424.1,50.45 424.4,51.05 424.7,51.8 425,52.23 425.3,52.37 425.6,52.4 425.9,52.4 426.2,52.4 426.5,52.4 426.8,52.4 427.1,52.39 427.4,52.33 427.7,52.12 428,51.54 428.3,50.4 428.6,48.95 428.9,47.97 429.2,48.19 429.5,49.42 429.8,50.84 430.1,51.79 430.4,52.22 430.7,52.36 431,52.39 431.3,52.4 431.6,52.4 431.9,52.4 432.2,52.4 432.5,52.4 432.8,52.4 433.1,52.4 433.4,52.4 433.7,52.4 434,52.4 434.3,52.4 434.6,52.4 434.9,52.4 435.2,52.4 435.5,52.4 435.8,52.4 436.1,52.4 436.4,52.4 436.7,52.4 437,52.4 437.3,52.4 437.6,52.4 437.9,52.4 438.2,52.4 438.5,52.4 438.8,52.4 439.1,52.4 439.4,52.4 439.7,52.4 440,52.4 440.3,52.4 440.6,52.4 440.9,52.4 441.2,52.4 441.5,52.4 441.8,52.4 442.1,52.4 442.4,52.4 442.7,52.4 443,52.4 443.3,52.4 443.6,52.4 443.9,52.4 444.2,52.4 444.5,52.4 444.8,52.4 445.1,52.4 445.4,52.4 445.7,52.4 446,52.4 446.3,52.4 446.6,52.4 446.9,52.4 447.2,52.4 447.5,52.4 447.8,52.4 448.1,52.4 448.4,52.4 448.7,52.4 449,52.4 449.3,52.4 449.6,52.4 449.9,52.4 450.2,52.4 450.5,52.4 450.8,52.4 451.1,52.4 451.4,52.4 451.7,52.4 452,52.4 452.3,52.4 452.6,52.4 452.9,52.4 453.2,52.4 453.5,52.4 453.8,52.4 454.1,52.4 454.4,52.4 454.7,52.4 455,52.4 455.3,52.4 455.6,52.4 455.9,52.4 456.2,52.4 456.5,52.4 456.8,52.4 457.1,52.4 457.4,52.4 457.7,52.4 458,52.4 458.3,52.4 458.6,52.4 458.9,52.4 459.2,52.4 459.5,52.4 459.8,52.4 460.1,52.4 460.4,52.4 460.7,52.4 461,52.4 461.3,52.4 461.6,52.4 461.9,52.4 462.2,52.4 462.5,52.4 462.8,52.4 463.1,52.4 463.4,52.4 463.7,52.4 464,52.4 464.3,52.4 464.6,52.4 464.9,52.4 465.2,52.4 465.5,52.4 465.8,52.4 466.1,52.4 466.4,52.4 466.7,52.4 467,52.39 467.3,52.34 467.6,52.21 467.9,51.9 468.2,51.39 468.5,50.8 468.8,50.43 469.1,50.51 469.4,50.99 469.7,51.58 470,52.03 470.3,52.27 470.6,52.36 470.9,52.39 471.2,52.4 471.5,52.4 471.8,52.4 472.1,52.4 472.4,52.4 472.7,52.4 473,52.4 473.3,52.4 473.6,52.4 473.9,52.4 474.2,52.4 474.5,52.4 474.8,52.4 475.1,52.4 475.4,52.4 475.7,52.4 476,52.4 476.3,52.4 476.6,52.4 476.9,52.4 477.2,52.4 477.5,52.4 477.8,52.4 478.1,52.4 478.4,52.4 478.7,52.4 479,52.4 479.3,52.4 479.6,52.4 479.9,52.4 480.2,52.39 480.5,52.33 480.8,52.13 481.1,51.65 481.4,50.95 481.7,50.43 482,50.51 482.3,51.01 482.6,51.29 482.9,51.01 483.2,50.51 483.5,50.43 483.8,50.95 484.1,51.65 484.4,52.13 484.7,52.33 485,52.39 485.3,52.4 485.6,52.4 485.9,52.4 486.2,52.4 486.5,52.4 486.8,52.4 487.1,52.4 487.4,52.4 487.7,52.4 488,52.4 488.3,52.4 488.6,52.4 488.9,52.4 489.2,52.4 489.5,52.4 489.8,52.4 490.1,52.4 490.4,52.4 490.7,52.39 491,52.31 491.3,52 491.6,51.15 491.9,49.67 492.2,48.25 492.5,47.99 492.8,49.13 493.1,50.71 493.4,51.79 493.7,52.25 494,52.37 494.3,52.4 494.6,52.4 494.9,52.4 495.2,52.4 495.5,52.4 495.8,52.37 496.1,52.25 496.4,51.79 496.7,50.71 497,49.13 497.3,47.99 497.6,48.25 497.9,49.67 498.2,51.15 498.5,52 498.8,52.31 499.1,52.39 499.4,52.4 499.7,52.4 500,52.4 500.3,52.4 500.6,52.4 500.9,52.4 501.2,52.4 501.5,52.4 501.8,52.4 502.1,52.4 502.4,52.4 502.7,52.4 503,52.4 503.3,52.4 503.6,52.4 503.9,52.4 504.2,52.4 504.5,52.4 504.8,52.4 505.1,52.4 505.4,52.4 505.7,52.4 506,52.4 506.3,52.4 506.6,52.4 506.9,52.4 507.2,52.4 507.5,52.4 507.8,52.4 508.1,52.4 508.4,52.4 508.7,52.4 509,52.4 509.3,52.4 509.6,52.4 509.9,52.4 510.2,52.4 510.5,52.4 510.8,52.4 511.1,52.4 511.4,52.4 511.7,52.4 512,52.4 512.3,52.4 512.6,52.4" fill="#1a1a1a" stroke="none" stroke-width="0.4"/>
<line x1="319.4" y1="64.5" x2="512.6" y2="64.5" stroke="#777" stroke-width="0.5"/>
<line x1="319.4" y1="64.5" x2="512.6" y2="64.5" stroke="#333" stroke-width="0.6" stroke-dasharray="0.6,2.6"/>
<polygon points="433.5,64.5 433.5,64.48 433.8,64.42 434.1,64.2 434.4,63.77 434.7,63.25 435,62.98 435.3,63.15 435.6,63.39 435.9,63.15 436.2,62.38 436.5,61.7 436.8,61.72 437.1,62.11 437.4,62.01 437.7,61.28 438,60.71 438.3,60.74 438.6,60.75 438.9,60.27 439.2,59.92 439.5,60.07 439.8,59.76 440.1,58.37 440.4,57.36 440.7,58 441,59.09 441.3,59.42 441.6,59.69 441.9,60.46 442.2,60.96 442.5,60.71 442.8,60.49 443.1,61.03 443.4,61.81 443.7,61.91 444,61.45 444.3,61.31 444.6,61.77 444.9,62.26 445.2,62.33 445.5,62.21 445.8,62.31 446.1,62.63 446.4,62.82 446.7,62.75 447,62.72 447.3,62.99 447.6,63.36 447.9,63.39 448.2,62.95 448.5,62.27 448.8,61.82 449.1,61.92 449.4,62.47 449.7,62.99 450,63.26 450.3,63.42 450.6,63.59 450.9,63.73 451.2,63.74 451.5,63.72 451.8,63.83 452.1,64.07 452.4,64.3 452.7,64.44 453,64.5" fill="#777" stroke="#1a1a1a" stroke-width="0.5"/>
<polygon points="319.4,64.5 319.4,64.5 319.7,64.5 320,64.5 320.3,64.5 320.6,64.5 320.9,64.5 321.2,64.5 321.5,64.5 321.8,64.5 322.1,64.5 322.4,64.5 322.7,64.5 323,64.5 323.3,64.5 323.6,64.5 323.9,64.5 324.2,64.5 324.5,64.5 324.8,64.5 325.1,64.5 325.4,64.5 325.7,64.5 326,64.5 326.3,64.5 326.6,64.5 326.9,64.5 327.2,64.5 327.5,64.5 327.8,64.5 328.1,64.5 328.4,64.5 328.7,64.5 329,64.48 329.3,64.38 329.6,63.95 329.9,62.78 330.2,60.74 330.5,58.78 330.8,58.42 331.1,60 331.4,62.17 331.7,63.66 332,64.29 332.3,64.46 332.6,64.47 332.9,64.37 333.2,63.96 333.5,63.1 333.8,62.14 334.1,61.96 334.4,62.75 334.7,63.72 335,64.28 335.3,64.46 335.6,64.5 335.9,64.5 336.2,64.5 336.5,64.5 336.8,64.5 337.1,64.5 337.4,64.5 337.7,64.5 338,64.5 338.3,64.5 338.6,64.5 338.9,64.5 339.2,64.5 339.5,64.5 339.8,64.5 340.1,64.5 340.4,64.5 340.7,64.5 341,64.5 341.3,64.5 341.6,64.5 341.9,64.5 342.2,64.5 342.5,64.5 342.8,64.5 343.1,64.5 343.4,64.5 343.7,64.5 344,64.5 344.3,64.5 344.6,64.5 344.9,64.5 345.2,64.5 345.5,64.5 345.8,64.5 346.1,64.49 346.4,64.43 346.7,64.22 347,63.62 347.3,62.45 347.6,60.97 347.9,59.98 348.2,60.19 348.5,61.46 348.8,62.9 349.1,63.88 349.4,64.32 349.7,64.46 350,64.49 350.3,64.5 350.6,64.5 350.9,64.5 351.2,64.5 351.5,64.5 351.8,64.5 352.1,64.5 352.4,64.5 352.7,64.5 353,64.5 353.3,64.5 353.6,64.5 353.9,64.5 354.2,64.5 354.5,64.5 354.8,64.5 355.1,64.5 355.4,64.5 355.7,64.5 356,64.5 356.3,64.5 356.6,64.48 356.9,64.37 357.2,63.99 357.5,63.15 357.8,62.24 358.1,62.06 358.4,62.82 358.7,63.75 359,64.29 359.3,64.46 359.6,64.5 359.9,64.5 360.2,64.5 360.5,64.5 360.8,64.5 361.1,64.5 361.4,64.5 361.7,64.5 362,64.5 362.3,64.5 362.6,64.5 362.9,64.5 363.2,64.5 363.5,64.5 363.8,64.5 364.1,64.5 364.4,64.5 364.7,64.5 365,64.5 365.3,64.5 365.6,64.5 365.9,64.5 366.2,64.5 366.5,64.5 366.8,64.5 367.1,64.5 367.4,64.5 367.7,64.5 368,64.5 368.3,64.5 368.6,64.5 368.9,64.5 369.2,64.5 369.5,64.5 369.8,64.5 370.1,64.49 370.4,64.46 370.7,64.37 371,64.12 371.3,63.57 371.6,62.62 371.9,61.34 372.2,60.04 372.5,59.21 372.8,59.08 373.1,59.44 373.4,59.7 373.7,59.47 374,58.85 374.3,58.35 374.6,58.3 374.9,58.48 375.2,58.57 375.5,58.89 375.8,60.02 376.1,61.77 376.4,63.28 376.7,64.1 377,64.35 377.3,64.3 377.6,64.02 377.9,63.47 378.2,62.55 378.5,61.3 378.8,59.94 379.1,58.8 379.4,58.2 379.7,58.2 380,58.5 380.3,58.67 380.6,58.42 380.9,57.85 381.2,57.32 381.5,57.18 381.8,57.43 382.1,57.82 382.4,58.18 382.7,58.74 383,59.8 383.3,61.27 383.6,62.7 383.9,63.7 384.2,64.21 384.5,64.34 384.8,64.16 385.1,63.58 385.4,62.57 385.7,61.48 386,61 386.3,61.48 386.6,62.57 386.9,63.58 387.2,64.18 387.5,64.42 387.8,64.48 388.1,64.5 388.4,64.5 388.7,64.5 389,64.5 389.3,64.5 389.6,64.5 389.9,64.5 390.2,64.5 390.5,64.5 390.8,64.5 391.1,64.5 391.4,64.5 391.7,64.5 392,64.5 392.3,64.5 392.6,64.5 392.9,64.5 393.2,64.5 393.5,64.5 393.8,64.5 394.1,64.5 394.4,64.5 394.7,64.5 395,64.5 395.3,64.5 395.6,64.5 395.9,64.5 396.2,64.5 396.5,64.5 396.8,64.5 397.1,64.5 397.4,64.5 397.7,64.5 398,64.5 398.3,64.5 398.6,64.5 398.9,64.5 399.2,64.5 399.5,64.5 399.8,64.5 400.1,64.5 400.4,64.5 400.7,64.5 401,64.5 401.3,64.5 401.6,64.5 401.9,64.5 402.2,64.5 402.5,64.5 402.8,64.5 403.1,64.5 403.4,64.48 403.7,64.36 404,63.86 404.3,62.5 404.6,60.13 404.9,57.85 405.2,57.44 405.5,59.27 405.8,61.8 406.1,63.53 406.4,64.25 406.7,64.46 407,64.49 407.3,64.5 407.6,64.5 407.9,64.5 408.2,64.5 408.5,64.5 408.8,64.5 409.1,64.5 409.4,64.5 409.7,64.5 410,64.5 410.3,64.5 410.6,64.5 410.9,64.5 411.2,64.5 411.5,64.5 411.8,64.5 412.1,64.5 412.4,64.5 412.7,64.5 413,64.5 413.3,64.5 413.6,64.5 413.9,64.5 414.2,64.5 414.5,64.5 414.8,64.5 415.1,64.5 415.4,64.5 415.7,64.5 416,64.5 416.3,64.5 416.6,64.5 416.9,64.5 417.2,64.5 417.5,64.5 417.8,64.5 418.1,64.5 418.4,64.5 418.7,64.5 419,64.5 419.3,64.5 419.6,64.5 419.9,64.5 420.2,64.5 420.5,64.5 420.8,64.5 421.1,64.5 421.4,64.5 421.7,64.47 422,64.36 422.3,64.01 422.6,63.28 422.9,62.41 423.2,62 423.5,62.41 423.8,63.28 424.1,64.01 424.4,64.36 424.7,64.47 425,64.5 425.3,64.5 425.6,64.5 425.9,64.5 426.2,64.5 426.5,64.5 426.8,64.5 427.1,64.5 427.4,64.47 427.7,64.36 428,63.93 428.3,62.92 428.6,61.45 428.9,60.38 429.2,60.62 429.5,61.95 429.8,63.33 430.1,64.13 430.4,64.42 430.7,64.49 431,64.5 431.3,64.5 431.6,64.5 431.9,64.5 432.2,64.5 432.5,64.5 432.8,64.5 433.1,64.5 433.4,64.5 433.7,64.5 434,64.5 434.3,64.5 434.6,64.5 434.9,64.5 435.2,64.5 435.5,64.5 435.8,64.5 436.1,64.5 436.4,64.5 436.7,64.5 437,64.5 437.3,64.5 437.6,64.5 437.9,64.5 438.2,64.5 438.5,64.5 438.8,64.5 439.1,64.5 439.4,64.5 439.7,64.5 440,64.5 440.3,64.5 440.6,64.5 440.9,64.5 441.2,64.5 441.5,64.5 441.8,64.5 442.1,64.5 442.4,64.5 442.7,64.5 443,64.5 443.3,64.5 443.6,64.5 443.9,64.5 444.2,64.5 444.5,64.5 444.8,64.5 445.1,64.5 445.4,64.5 445.7,64.5 446,64.5 446.3,64.5 446.6,64.5 446.9,64.5 447.2,64.5 447.5,64.5 447.8,64.5 448.1,64.5 448.4,64.5 448.7,64.5 449,64.5 449.3,64.5 449.6,64.5 449.9,64.5 450.2,64.5 450.5,64.5 450.8,64.5 451.1,64.5 451.4,64.5 451.7,64.5 452,64.5 452.3,64.5 452.6,64.5 452.9,64.5 453.2,64.5 453.5,64.5 453.8,64.5 454.1,64.5 454.4,64.5 454.7,64.5 455,64.5 455.3,64.5 455.6,64.5 455.9,64.5 456.2,64.5 456.5,64.5 456.8,64.5 457.1,64.5 457.4,64.5 457.7,64.5 458,64.5 458.3,64.5 458.6,64.5 458.9,64.5 459.2,64.5 459.5,64.5 459.8,64.5 460.1,64.5 460.4,64.5 460.7,64.5 461,64.5 461.3,64.5 461.6,64.5 461.9,64.5 462.2,64.5 462.5,64.5 462.8,64.5 463.1,64.5 463.4,64.5 463.7,64.5 464,64.5 464.3,64.5 464.6,64.5 464.9,64.5 465.2,64.5 465.5,64.5 465.8,64.5 466.1,64.5 466.4,64.5 466.7,64.5 467,64.5 467.3,64.5 467.6,64.5 467.9,64.5 468.2,64.5 468.5,64.5 468.8,64.5 469.1,64.5 469.4,64.5 469.7,64.5 470,64.5 470.3,64.5 470.6,64.5 470.9,64.5 471.2,64.5 471.5,64.48 471.8,64.42 472.1,64.2 472.4,63.77 472.7,63.25 473,63 473.3,63.25 473.6,63.77 473.9,64.2 474.2,64.42 474.5,64.48 474.8,64.5 475.1,64.5 475.4,64.5 475.7,64.5 476,64.5 476.3,64.5 476.6,64.5 476.9,64.5 477.2,64.5 477.5,64.5 477.8,64.5 478.1,64.5 478.4,64.5 478.7,64.5 479,64.5 479.3,64.5 479.6,64.5 479.9,64.5 480.2,64.49 480.5,64.43 480.8,64.23 481.1,63.75 481.4,63.05 481.7,62.53 482,62.61 482.3,63.11 482.6,63.39 482.9,63.11 483.2,62.61 483.5,62.53 483.8,63.05 484.1,63.75 484.4,64.23 484.7,64.43 485,64.49 485.3,64.5 485.6,64.5 485.9,64.5 486.2,64.5 486.5,64.5 486.8,64.5 487.1,64.5 487.4,64.5 487.7,64.5 488,64.5 488.3,64.5 488.6,64.5 488.9,64.5 489.2,64.5 489.5,64.5 489.8,64.5 490.1,64.5 490.4,64.5 490.7,64.49 491,64.42 491.3,64.13 491.6,63.33 491.9,61.95 492.2,60.62 492.5,60.38 492.8,61.45 493.1,62.92 493.4,63.93 493.7,64.36 494,64.47 494.3,64.5 494.6,64.5 494.9,64.5 495.2,64.5 495.5,64.5 495.8,64.47 496.1,64.36 496.4,63.93 496.7,62.92 497,61.45 497.3,60.38 497.6,60.62 497.9,61.95 498.2,63.33 498.5,64.13 498.8,64.42 499.1,64.49 499.4,64.5 499.7,64.5 500,64.5 500.3,64.5 500.6,64.5 500.9,64.5 501.2,64.5 501.5,64.5 501.8,64.5 502.1,64.5 502.4,64.5 502.7,64.5 503,64.5 503.3,64.5 503.6,64.5 503.9,64.5 504.2,64.5 504.5,64.5 504.8,64.5 505.1,64.5 505.4,64.5 505.7,64.5 506,64.5 506.3,64.5 506.6,64.5 506.9,64.5 507.2,64.5 507.5,64.5 507.8,64.5 508.1,64.5 508.4,64.5 508.7,64.5 509,64.5 509.3,64.5 509.6,64.5 509.9,64.5 510.2,64.5 510.5,64.5 510.8,64.5 511.1,64.5 511.4,64.5 511.7,64.5 512,64.5 512.3,64.5 512.6,64.5" fill="#1a1a1a" stroke="none" stroke-width="0.4"/>
<polygon points="319.4,77 319.4,71.55 319.7,69.92 320,69.27 320.3,69.92 320.6,71.55 320.9,73.48 321.2,73.18 321.5,71.22 321.8,69.53 322.1,68.75 322.4,69.2 322.7,70.69 323,72.63 323.3,72.92 323.6,71.8 323.9,71.2 324.2,71.35 324.5,72.19 324.8,72.29 325.1,70.59 325.4,69.79 325.7,70.28 326,71.82 326.3,73.69 326.6,75.25 326.9,76.23 327.2,76.29 327.5,75.72 327.8,75.03 328.1,74.4 328.4,74.05 328.7,74.12 329,74.59 329.3,74.83 329.6,74.28 329.9,74.13 330.2,74.46 330.5,73.57 330.8,72.57 331.1,71.97 331.4,71.96 331.7,72.55 332,73.54 332.3,74.63 332.6,75.4 332.9,76.13 333.2,76.64 333.5,76.85 333.8,76.95 334.1,76.98 334.4,77 334.7,76.97 335,76.86 335.3,76.51 335.6,75.78 335.9,74.91 336.2,74.5 336.5,74.91 336.8,75.78 337.1,76.51 337.4,76.86 337.7,76.52 338,75.75 338.3,74.47 338.6,73 338.9,72.07 339.2,72.27 339.5,73.47 339.8,74.94 340.1,76.07 340.4,76.67 340.7,76.91 341,76.98 341.3,77 341.6,77 341.9,77 342.2,77 342.5,77 342.8,77 343.1,77 343.4,77 343.7,77 344,76.98 344.3,76.9 344.6,76.59 344.9,75.72 345.2,73.93 345.5,71.42 345.8,69.31 346.1,68.95 346.4,70.6 346.7,73.14 347,75.23 347.3,74.37 347.6,73.36 347.9,72.6 348.2,72.36 348.5,72.73 348.8,73.57 349.1,74.53 349.4,73.74 349.7,73.79 350,74.66 350.3,75.73 350.6,75.01 350.9,73.65 351.2,72.56 351.5,72.34 351.8,73.14 352.1,74.47 352.4,74.03 352.7,72.4 353,71.42 353.3,71.67 353.6,73.01 353.9,74.29 354.2,73.92 354.5,73.92 354.8,74.29 355.1,74.9 355.4,75.57 355.7,76.14 356,75.9 356.3,74.02 356.6,71.32 356.9,69.39 357.2,69.83 357.5,72.24 357.8,74.77 358.1,74.92 358.4,73.11 358.7,71.9 359,72.31 359.3,73.98 359.6,73.77 359.9,72.02 360.2,70.27 360.5,69.03 360.8,68.73 361.1,69.48 361.4,71.01 361.7,72.82 362,73.81 362.3,71.3 362.6,69.54 362.9,69.84 363.2,71.97 363.5,74.41 363.8,75.61 364.1,73.46 364.4,70.59 364.7,68.77 365,69.49 365.3,72.13 365.6,74.76 365.9,74.69 366.2,72.56 366.5,70.23 366.8,68.85 367.1,69.24 367.4,71.15 367.7,73.52 368,72.46 368.3,71.45 368.6,71.67 368.9,72.98 369.2,74.61 369.5,75.39 369.8,76.21 370.1,75.22 370.4,73.31 370.7,71.29 371,70.4 371.3,71.29 371.6,73.31 371.9,74 372.2,72.06 372.5,70.47 372.8,70.06 373.1,71.07 373.4,72.93 373.7,74.75 374,73.22 374.3,71.24 374.6,69.87 374.9,69.82 375.2,71.12 375.5,73.09 375.8,74.88 376.1,76.07 376.4,76.57 376.7,76.84 377,76.96 377.3,76.93 377.6,76.76 377.9,76.42 378.2,76 378.5,75.8 378.8,76 379.1,76.42 379.4,76.76 379.7,76.93 380,76.99 380.3,76.98 380.6,76.94 380.9,76.82 381.2,76.55 381.5,76.02 381.8,75.14 382.1,73.92 382.4,72.6 382.7,71.55 383,71.15 383.3,71.55 383.6,72.6 383.9,73.92 384.2,73.8 384.5,71.92 384.8,70.22 385.1,69.39 385.4,69.82 385.7,71.3 386,73.2 386.3,74.76 386.6,72.86 386.9,71.03 387.2,70.28 387.5,71.09 387.8,72.94 388.1,74.34 388.4,72.95 388.7,71.55 389,70.56 389.3,70.29 389.6,70.84 389.9,72.02 390.2,73.46 390.5,73.24 390.8,71.64 391.1,70.76 391.4,71.06 391.7,72.38 392,71.2 392.3,69.32 392.6,68.89 392.9,70.16 393.2,72.4 393.5,74.1 393.8,72.4 394.1,71.01 394.4,70.6 394.7,71.39 395,72.97 395.3,74.62 395.6,73.74 395.9,71.58 396.2,69.82 396.5,69.44 396.8,70.68 397.1,72.79 397.4,73.52 397.7,71.67 398,70.1 398.3,69.45 398.6,70.01 398.9,71.53 399.2,73.38 399.5,73.67 399.8,71.65 400.1,70.32 400.4,70.5 400.7,72.09 401,74.11 401.3,73.71 401.6,71.35 401.9,69.41 402.2,69.04 402.5,70.49 402.8,72.84 403.1,74.93 403.4,72.63 403.7,70.49 404,70.19 404.3,72.01 404.6,74.43 404.9,74.06 405.2,72.22 405.5,70.44 405.8,69.43 406.1,69.62 406.4,70.93 406.7,72.8 407,74.47 407.3,72.36 407.6,70.26 407.9,69.23 408.2,69.91 408.5,71.87 408.8,74.05 409.1,75.66 409.4,76.52 409.7,76.86 410,76.89 410.3,76.6 410.6,76.03 410.9,75.33 411.2,75 411.5,75.33 411.8,76.03 412.1,76.6 412.4,76.89 412.7,76.98 413,77 413.3,77 413.6,77 413.9,77 414.2,77 414.5,77 414.8,77 415.1,77 415.4,77 415.7,77 416,77 416.3,77 416.6,77 416.9,77 417.2,77 417.5,77 417.8,77 418,77" fill="#1c1c1c" stroke="none" stroke-width="0.4"/>
<polygon points="418,77 418,72.92 418.3,71.15 418.6,69.61 418.9,68.78 419.2,68.96 419.5,70.06 419.8,71.73 420.1,72.8 420.4,70.34 420.7,69.08 421,69.95 421.3,72.3 421.6,72.8 421.9,70.99 422.2,69.7 422.5,69.47 422.8,70.41 423.1,72.1 423.4,70.63 423.7,69.85 424,70.1 424.3,71.28 424.6,72.83 424.9,70.92 425.2,69.55 425.5,69.33 425.8,70.37 426.1,72.19 426.4,74.07 426.7,74.15 427,72.1 427.3,71.04 427.6,71.87 427.9,73.88 428.2,75.18 428.5,73.18 428.8,70.9 429.1,69.57 429.4,70.08 429.7,72.09 430,71.92 430.3,70.93 430.6,71.09 430.9,72.3 431.2,73.75 431.5,72.1 431.8,71.4 432.1,72.16 432.4,73.84 432.7,72.38 433,70.71 433.3,69.83 433.6,70.14 433.9,71.51 434.2,73.31 434.5,72.15 434.8,70.6 435.1,70.45 435.4,71.78 435.7,72.54 436,71.48 436.3,71.27 436.6,72.01 436.9,73.35 437,77" fill="#2a2a2a" stroke="none" stroke-width="0.4"/>
<polygon points="437,77 437,72.34 437.3,70.28 437.6,68.92 437.9,68.9 438.2,70.23 438.5,72.28 438.8,71.36 439.1,70.07 439.4,69.64 439.7,70.25 440,71.65 440.3,70.99 440.6,69.96 440.9,70.1 441.2,71.35 441.5,73.13 441.8,74.79 442.1,73.44 442.4,71.82 442.7,70.69 443,70.57 443.3,71.5 443.6,72.24 443.9,70.27 444.2,70.02 444.5,71.7 444.8,71.45 445.1,69.7 445.4,68.92 445.7,69.48 446,71.12 446.3,73.13 446.6,72.35 446.9,70.88 447.2,70.85 447.5,72.27 447.8,72.06 448.1,70.37 448.4,69.17 448.7,68.87 449,69.58 449.3,71.05 449.6,71.16 449.9,70.25 450.2,70.11 450.5,70.81 450.8,72.1 451.1,71.25 451.4,70.3 451.7,70.11 452,70.76 452.3,72.01 452.6,73.49 452.9,72.46 453.2,71.05 453.5,70.68 453.8,71.55 454.1,73.19 454.4,74.84 454.7,74.76 455,72.38 455.3,70.32 455.6,70.21 455.9,72.15 456.2,74.09 456.5,72.31 456.8,71.15 457.1,71.35 457.4,72.77 457.7,72.77 458,71.14 458.3,70.19 458.6,70.38 458.9,71.61 459.2,73.32 459.5,73.21 459.8,71.94 460.1,71.21 460.4,71.34 460.7,72.27 461,73.19 461.3,71.57 461.6,70.6 461.9,70.77 462.2,71.99 462.5,72.67 462.8,71.03 463.1,69.96 463.4,69.89 463.7,70.86 464,72.46 464.3,74.11 464.6,72.57 464.9,71.08 465.2,70.1 465.5,69.99 465.8,70.79 466.1,72.2 466.4,72.63 466.7,70.93 467,69.83 467.3,69.79 467.6,70.83 467.9,72.5 468.2,74.21 468.5,73.83 468.8,71.97 469.1,70.6 469.4,70.5 469.7,71.71 470,72.72 470.3,70.44 470.6,69.14 470.9,69.65 471.2,71.63 471.5,73.82 471.8,71.52 472.1,69.66 472.4,69.34 472.7,70.77 473,72.55 473.3,70.79 473.6,69.92 473.9,70.41 474.2,71.98 474.5,73.58 474.8,71.28 475.1,69.87 475.4,70.37 475.7,72.41 476,71.12 476.3,69.36 476.6,69.4 476.9,71.22 477.2,73.63 477.5,74.84 477.8,72.38 478.1,70.01 478.4,69.53 478.7,71.36 479,73.99 479.3,75.47 479.6,74.3 479.9,72.94 480.2,71.81 480.5,71.36 480.8,71.78 481.1,72.67 481.4,70.64 481.7,69.12 482,68.78 482.3,69.77 482.6,71.64 482.9,70.17 483.2,68.88 483.5,69.46 483.8,71.54 484.1,72.67 484.4,71.63 484.7,71.41 485,72.11 485.3,71.55 485.6,69.93 485.9,69.35 486.2,70.11 486.5,71.84 486.8,71.75 487.1,70.68 487.4,70.85 487.7,72.16 488,73.36 488.3,71.94 488.6,70.84 488.9,70.41 489.2,70.83 489.5,71.93 489.8,73.34 490.1,71.74 490.4,69.79 490.7,68.87 491,69.47 491.3,71.27 491.6,73.41 491.9,73.14 492.2,71.06 492.5,69.93 492.8,70.49 493.1,72.36 493.4,72.37 493.7,70.76 494,70.54 494.3,71.88 494.6,72.02 494.9,70.44 495.2,69.63 495.5,69.95 495.8,71.25 496.1,72.14 496.4,71.03 496.7,70.88 497,71.76 497.3,73.24 497.6,72.72 497.9,70.51 498.2,69.24 498.5,69.71 498.8,71.61 499.1,70.86 499.4,69.79 499.7,69.56 500,70.25 500.3,71.62 500.6,73.24 500.9,72.53 501.2,71.48 501.5,71.1 501.8,71.54 502.1,72.63 502.4,73.48 502.7,71.56 503,70.55 503.3,71.13 503.6,72.91 503.9,73.74 504.2,72.12 504.5,71.17 504.8,71.41 505.1,72.72 505.4,74.21 505.7,72.68 506,71.23 506.3,70.35 506.6,70.38 506.9,71.32 507.2,72.79 507.5,72.35 507.8,70.69 508.1,69.86 508.4,70.25 508.7,71.67 509,73.48 509.3,73.09 509.6,71.63 509.9,71.61 510.2,73.06 510.5,74.32 510.8,73.09 511.1,72 511.4,71.5 511.7,71.82 512,72.82 512.3,74.1 512.6,75.27 512.8,77" fill="#8a8a8a" stroke="#444" stroke-width="0.5"/>
<line x1="319.4" y1="77" x2="512.6" y2="77" stroke="#777" stroke-width="0.5"/>
<rect x="340.1" y="24" width="4.3" height="55.5" fill="none" stroke="#555" stroke-width="0.7"/>
<rect x="371.5" y="24" width="4.5" height="55.5" fill="none" stroke="#555" stroke-width="0.7"/>
<rect x="426.3" y="24" width="4.6" height="55.5" fill="none" stroke="#555" stroke-width="0.7"/>
<rect x="434.7" y="24" width="6.2" height="55.5" fill="none" stroke="#555" stroke-width="0.7"/>
<rect x="438.8" y="24" width="4.7" height="55.5" fill="none" stroke="#555" stroke-width="0.7"/>
<rect x="436.4" y="24" width="11.2" height="55.5" fill="none" stroke="#555" stroke-width="0.7"/>
<rect x="491.8" y="24" width="3.8" height="55.5" fill="none" stroke="#555" stroke-width="0.7"/>
<rect x="496.6" y="24" width="4" height="55.5" fill="none" stroke="#555" stroke-width="0.7"/>
<line x1="339.2" y1="83.7" x2="341.2" y2="83.7" stroke="#111" stroke-width="1.1"/>
<line x1="342" y1="83.7" x2="344" y2="83.7" stroke="#111" stroke-width="1.1"/>
<line x1="370.2" y1="83.7" x2="372.2" y2="83.7" stroke="#111" stroke-width="1.1"/>
<line x1="373.4" y1="83.7" x2="375.4" y2="83.7" stroke="#111" stroke-width="1.1"/>
<line x1="424.9" y1="83.7" x2="426.9" y2="83.7" stroke="#111" stroke-width="1.1"/>
<line x1="428.2" y1="83.7" x2="430.2" y2="83.7" stroke="#111" stroke-width="1.1"/>
<line x1="433" y1="83.7" x2="435" y2="83.7" stroke="#111" stroke-width="1.1"/>
<line x1="435.8" y1="83.7" x2="437.8" y2="83.7" stroke="#111" stroke-width="1.1"/>
<line x1="438.6" y1="83.7" x2="440.6" y2="83.7" stroke="#111" stroke-width="1.1"/>
<line x1="441.4" y1="83.7" x2="443.4" y2="83.7" stroke="#111" stroke-width="1.1"/>
<line x1="444.2" y1="83.7" x2="446.2" y2="83.7" stroke="#111" stroke-width="1.1"/>
<line x1="447" y1="83.7" x2="449" y2="83.7" stroke="#111" stroke-width="1.1"/>
<line x1="491" y1="83.7" x2="493" y2="83.7" stroke="#111" stroke-width="1.1"/>
<line x1="493.6" y1="83.7" x2="495.6" y2="83.7" stroke="#111" stroke-width="1.1"/>
<line x1="496.2" y1="83.7" x2="498.2" y2="83.7" stroke="#111" stroke-width="1.1"/>
<line x1="498.8" y1="83.7" x2="500.8" y2="83.7" stroke="#111" stroke-width="1.1"/>
<text x="344.4" y="88.8" font-size="6.2" text-anchor="end" fill="#000" transform="rotate(-45 344.4 88.8)">PDR</text>
<text x="374.2" y="89.8" font-size="6.2" text-anchor="end" fill="#000" transform="rotate(-45 374.2 89.8)">a</text>
<text x="428.6" y="88.6" font-size="6.2" text-anchor="end" fill="#000" transform="rotate(-45 428.6 88.6)">b</text>
<text x="437.4" y="88.6" font-size="6.2" text-anchor="end" fill="#000" transform="rotate(-45 437.4 88.6)">promoter1</text>
<text x="445" y="88.2" font-size="6.2" text-anchor="end" fill="#000" transform="rotate(-45 445 88.2)">promoter2</text>
<text x="450.6" y="90.6" font-size="6.2" text-anchor="end" fill="#000" transform="rotate(-45 450.6 90.6)">Exon</text>
<text x="494.4" y="88.8" font-size="6.2" text-anchor="end" fill="#000" transform="rotate(-45 494.4 88.8)">c</text>
<text x="501.6" y="88.8" font-size="6.2" text-anchor="end" fill="#000" transform="rotate(-45 501.6 88.8)">d</text>
<text x="285.6" y="107.3" font-size="11" font-weight="bold" text-anchor="start" fill="#000" transform="matrix(1,0,0,1.13,0,-13.95)" stroke="#000" stroke-width="0.3">D</text>
<line x1="308.6" y1="121.5" x2="308.6" y2="199.6" stroke="#333" stroke-width="0.8"/>
<line x1="307" y1="199.6" x2="310.2" y2="199.6" stroke="#444" stroke-width="0.5"/>
<line x1="307.6" y1="196.66" x2="309.6" y2="196.66" stroke="#444" stroke-width="0.5"/>
<line x1="307.6" y1="193.71" x2="309.6" y2="193.71" stroke="#444" stroke-width="0.5"/>
<line x1="307.6" y1="190.77" x2="309.6" y2="190.77" stroke="#444" stroke-width="0.5"/>
<line x1="307.6" y1="187.82" x2="309.6" y2="187.82" stroke="#444" stroke-width="0.5"/>
<line x1="307" y1="184.88" x2="310.2" y2="184.88" stroke="#444" stroke-width="0.5"/>
<line x1="307.6" y1="181.94" x2="309.6" y2="181.94" stroke="#444" stroke-width="0.5"/>
<line x1="307.6" y1="178.99" x2="309.6" y2="178.99" stroke="#444" stroke-width="0.5"/>
<line x1="307.6" y1="176.05" x2="309.6" y2="176.05" stroke="#444" stroke-width="0.5"/>
<line x1="307.6" y1="173.1" x2="309.6" y2="173.1" stroke="#444" stroke-width="0.5"/>
<line x1="307" y1="170.16" x2="310.2" y2="170.16" stroke="#444" stroke-width="0.5"/>
<line x1="307.6" y1="167.22" x2="309.6" y2="167.22" stroke="#444" stroke-width="0.5"/>
<line x1="307.6" y1="164.27" x2="309.6" y2="164.27" stroke="#444" stroke-width="0.5"/>
<line x1="307.6" y1="161.33" x2="309.6" y2="161.33" stroke="#444" stroke-width="0.5"/>
<line x1="307.6" y1="158.38" x2="309.6" y2="158.38" stroke="#444" stroke-width="0.5"/>
<line x1="307" y1="155.44" x2="310.2" y2="155.44" stroke="#444" stroke-width="0.5"/>
<line x1="307.6" y1="152.5" x2="309.6" y2="152.5" stroke="#444" stroke-width="0.5"/>
<line x1="307.6" y1="149.55" x2="309.6" y2="149.55" stroke="#444" stroke-width="0.5"/>
<line x1="307.6" y1="146.61" x2="309.6" y2="146.61" stroke="#444" stroke-width="0.5"/>
<line x1="307.6" y1="143.66" x2="309.6" y2="143.66" stroke="#444" stroke-width="0.5"/>
<line x1="307" y1="140.72" x2="310.2" y2="140.72" stroke="#444" stroke-width="0.5"/>
<line x1="307.6" y1="137.78" x2="309.6" y2="137.78" stroke="#444" stroke-width="0.5"/>
<line x1="307.6" y1="134.83" x2="309.6" y2="134.83" stroke="#444" stroke-width="0.5"/>
<line x1="307.6" y1="131.89" x2="309.6" y2="131.89" stroke="#444" stroke-width="0.5"/>
<line x1="307.6" y1="128.94" x2="309.6" y2="128.94" stroke="#444" stroke-width="0.5"/>
<line x1="307" y1="126" x2="310.2" y2="126" stroke="#444" stroke-width="0.5"/>
<line x1="307.6" y1="123.06" x2="309.6" y2="123.06" stroke="#444" stroke-width="0.5"/>
<text x="301.3" y="201.3" font-size="4.8" text-anchor="middle" fill="#333" transform="matrix(1,0,0,1.13,0,-26.17)">0</text>
<text x="301.3" y="186.58" font-size="4.8" text-anchor="middle" fill="#333" transform="matrix(1,0,0,1.13,0,-24.26)">1</text>
<text x="301.3" y="171.86" font-size="4.8" text-anchor="middle" fill="#333" transform="matrix(1,0,0,1.13,0,-22.34)">2</text>
<text x="301.3" y="157.14" font-size="4.8" text-anchor="middle" fill="#333" transform="matrix(1,0,0,1.13,0,-20.43)">3</text>
<text x="301.3" y="142.42" font-size="4.8" text-anchor="middle" fill="#333" transform="matrix(1,0,0,1.13,0,-18.51)">4</text>
<text x="301.3" y="127.7" font-size="4.8" text-anchor="middle" fill="#333" transform="matrix(1,0,0,1.13,0,-16.6)">5</text>
<line x1="308.6" y1="199.6" x2="520" y2="199.6" stroke="#333" stroke-width="0.8"/>
<text x="294.6" y="160.8" font-size="7.7" font-weight="bold" text-anchor="middle" fill="#000" transform="rotate(-90 294.6 160.8)" textLength="57" lengthAdjust="spacingAndGlyphs">Fold Enrichment</text>
<rect x="318.9" y="125.7" width="7.6" height="3.3" fill="#d0d0d0" stroke="#222" stroke-width="0.8"/>
<rect x="318.9" y="132.7" width="7.6" height="3.4" fill="#000" stroke="#000" stroke-width="0.8"/>
<text x="330" y="129.5" font-size="6.2" font-weight="bold" text-anchor="start" fill="#000" transform="matrix(1,0,0,1.13,0,-16.83)" textLength="10.8" lengthAdjust="spacingAndGlyphs">IgG</text>
<text x="330" y="136.8" font-size="6.2" font-weight="bold" text-anchor="start" fill="#000" transform="matrix(1,0,0,1.13,0,-17.78)" textLength="21.6" lengthAdjust="spacingAndGlyphs">Mysm1</text>
<rect x="311.5" y="184.88" width="9" height="14.72" fill="#d2d2d2" stroke="#333" stroke-width="0.8"/>
<line x1="316" y1="178.99" x2="316" y2="190.77" stroke="#222" stroke-width="0.8"/>
<line x1="313.2" y1="178.99" x2="318.8" y2="178.99" stroke="#222" stroke-width="0.8"/>
<line x1="313.2" y1="190.77" x2="318.8" y2="190.77" stroke="#222" stroke-width="0.8"/>
<rect x="322.8" y="176.78" width="9" height="22.82" fill="#000" stroke="#000" stroke-width="0.6"/>
<line x1="327.3" y1="176.78" x2="327.3" y2="170.9" stroke="#222" stroke-width="0.8"/>
<line x1="324.6" y1="170.9" x2="330.1" y2="170.9" stroke="#222" stroke-width="0.8"/>
<line x1="321.5" y1="199.6" x2="321.5" y2="201.4" stroke="#333" stroke-width="0.6"/>
<rect x="338.22" y="184.88" width="9" height="14.72" fill="#d2d2d2" stroke="#333" stroke-width="0.8"/>
<line x1="342.72" y1="180.46" x2="342.72" y2="189.3" stroke="#222" stroke-width="0.8"/>
<line x1="339.92" y1="180.46" x2="345.52" y2="180.46" stroke="#222" stroke-width="0.8"/>
<line x1="339.92" y1="189.3" x2="345.52" y2="189.3" stroke="#222" stroke-width="0.8"/>
<rect x="349.52" y="178.99" width="9" height="20.61" fill="#000" stroke="#000" stroke-width="0.6"/>
<line x1="348.22" y1="199.6" x2="348.22" y2="201.4" stroke="#333" stroke-width="0.6"/>
<rect x="364.94" y="184.88" width="9" height="14.72" fill="#d2d2d2" stroke="#333" stroke-width="0.8"/>
<line x1="366.34" y1="184.24" x2="372.54" y2="184.24" stroke="#222" stroke-width="0.8"/>
<rect x="376.24" y="178.99" width="9" height="20.61" fill="#000" stroke="#000" stroke-width="0.6"/>
<line x1="380.74" y1="178.99" x2="380.74" y2="174.58" stroke="#222" stroke-width="0.8"/>
<line x1="378.04" y1="174.58" x2="383.54" y2="174.58" stroke="#222" stroke-width="0.8"/>
<line x1="374.94" y1="199.6" x2="374.94" y2="201.4" stroke="#333" stroke-width="0.6"/>
<rect x="391.66" y="184.88" width="9" height="14.72" fill="#d2d2d2" stroke="#333" stroke-width="0.8"/>
<line x1="396.16" y1="180.46" x2="396.16" y2="189.3" stroke="#222" stroke-width="0.8"/>
<line x1="393.36" y1="180.46" x2="398.96" y2="180.46" stroke="#222" stroke-width="0.8"/>
<line x1="393.36" y1="189.3" x2="398.96" y2="189.3" stroke="#222" stroke-width="0.8"/>
<rect x="402.96" y="138.51" width="9" height="61.09" fill="#000" stroke="#000" stroke-width="0.6"/>
<line x1="407.46" y1="138.51" x2="407.46" y2="133.21" stroke="#222" stroke-width="0.8"/>
<line x1="404.76" y1="133.21" x2="410.26" y2="133.21" stroke="#222" stroke-width="0.8"/>
<line x1="401.66" y1="199.6" x2="401.66" y2="201.4" stroke="#333" stroke-width="0.6"/>
<rect x="418.38" y="184.88" width="9" height="14.72" fill="#d2d2d2" stroke="#333" stroke-width="0.8"/>
<line x1="419.78" y1="184.24" x2="425.98" y2="184.24" stroke="#222" stroke-width="0.8"/>
<rect x="429.68" y="134.83" width="9" height="64.77" fill="#000" stroke="#000" stroke-width="0.6"/>
<line x1="434.18" y1="134.83" x2="434.18" y2="121.58" stroke="#222" stroke-width="0.8"/>
<line x1="431.48" y1="121.58" x2="436.98" y2="121.58" stroke="#222" stroke-width="0.8"/>
<line x1="428.38" y1="199.6" x2="428.38" y2="201.4" stroke="#333" stroke-width="0.6"/>
<rect x="445.1" y="184.88" width="9" height="14.72" fill="#d2d2d2" stroke="#333" stroke-width="0.8"/>
<line x1="446.5" y1="183.94" x2="452.7" y2="183.94" stroke="#222" stroke-width="0.8"/>
<rect x="456.4" y="185.62" width="9" height="13.98" fill="#000" stroke="#000" stroke-width="0.6"/>
<line x1="455.1" y1="199.6" x2="455.1" y2="201.4" stroke="#333" stroke-width="0.6"/>
<rect x="471.82" y="184.88" width="9" height="14.72" fill="#d2d2d2" stroke="#333" stroke-width="0.8"/>
<line x1="476.32" y1="182.67" x2="476.32" y2="187.09" stroke="#222" stroke-width="0.8"/>
<line x1="473.52" y1="182.67" x2="479.12" y2="182.67" stroke="#222" stroke-width="0.8"/>
<line x1="473.52" y1="187.09" x2="479.12" y2="187.09" stroke="#222" stroke-width="0.8"/>
<rect x="483.12" y="167.22" width="9" height="32.38" fill="#000" stroke="#000" stroke-width="0.6"/>
<line x1="487.62" y1="167.22" x2="487.62" y2="156.18" stroke="#222" stroke-width="0.8"/>
<line x1="484.92" y1="156.18" x2="490.42" y2="156.18" stroke="#222" stroke-width="0.8"/>
<line x1="481.82" y1="199.6" x2="481.82" y2="201.4" stroke="#333" stroke-width="0.6"/>
<rect x="498.54" y="184.88" width="9" height="14.72" fill="#d2d2d2" stroke="#333" stroke-width="0.8"/>
<line x1="503.04" y1="179.73" x2="503.04" y2="190.03" stroke="#222" stroke-width="0.8"/>
<line x1="500.24" y1="179.73" x2="505.84" y2="179.73" stroke="#222" stroke-width="0.8"/>
<line x1="500.24" y1="190.03" x2="505.84" y2="190.03" stroke="#222" stroke-width="0.8"/>
<rect x="509.84" y="183.41" width="9" height="16.19" fill="#000" stroke="#000" stroke-width="0.6"/>
<line x1="514.34" y1="183.41" x2="514.34" y2="178.26" stroke="#222" stroke-width="0.8"/>
<line x1="511.64" y1="178.26" x2="517.14" y2="178.26" stroke="#222" stroke-width="0.8"/>
<line x1="508.54" y1="199.6" x2="508.54" y2="201.4" stroke="#333" stroke-width="0.6"/>
<line x1="396.1" y1="129.8" x2="408" y2="129.8" stroke="#000" stroke-width="0.9"/>
<text x="402" y="131.2" font-size="11" font-weight="bold" text-anchor="middle" fill="#000" transform="matrix(1,0,0,1.13,0,-17.06)">**</text>
<line x1="423.2" y1="118.1" x2="433.8" y2="118.1" stroke="#000" stroke-width="0.9"/>
<text x="428.5" y="119.5" font-size="11" font-weight="bold" text-anchor="middle" fill="#000" transform="matrix(1,0,0,1.13,0,-15.53)">**</text>
<text x="320.5" y="211.2" font-size="6.3" text-anchor="middle" fill="#111" transform="matrix(1,0,0,1.13,0,-27.46)">PDR</text>
<text x="345.6" y="211.2" font-size="6.3" text-anchor="middle" fill="#111" transform="matrix(1,0,0,1.13,0,-27.46)">a</text>
<text x="374.9" y="211.2" font-size="6.3" text-anchor="middle" fill="#111" transform="matrix(1,0,0,1.13,0,-27.46)">b</text>
<text x="397.5" y="211.2" font-size="6.3" text-anchor="middle" fill="#111" transform="matrix(1,0,0,1.13,0,-27.46)">promoter1</text>
<text x="427.6" y="211.2" font-size="6.3" text-anchor="middle" fill="#111" transform="matrix(1,0,0,1.13,0,-27.46)">promoter2</text>
<text x="453" y="211.2" font-size="6.3" text-anchor="middle" fill="#111" transform="matrix(1,0,0,1.13,0,-27.46)">Exon</text>
<text x="476.4" y="211.2" font-size="6.3" text-anchor="middle" fill="#111" transform="matrix(1,0,0,1.13,0,-27.46)">c</text>
<text x="501.2" y="211.2" font-size="6.3" text-anchor="middle" fill="#111" transform="matrix(1,0,0,1.13,0,-27.46)">d</text>
<text x="1" y="217.6" font-size="11" font-weight="bold" text-anchor="start" fill="#000" transform="matrix(1,0,0,1.13,0,-28.29)" stroke="#000" stroke-width="0.3">E</text>
<text x="25.4" y="217.8" font-size="9" text-anchor="start" fill="#000" textLength="28.9" lengthAdjust="spacingAndGlyphs" stroke="#000" stroke-width="0.15">Mysm1</text>
<text x="54.6" y="214" font-size="5.2" text-anchor="start" fill="#000" textLength="6.8" lengthAdjust="spacingAndGlyphs">-/-</text>
<text x="63.3" y="217.8" font-size="9" text-anchor="start" fill="#000" textLength="11.9" lengthAdjust="spacingAndGlyphs" stroke="#000" stroke-width="0.15">Lin</text>
<text x="75.4" y="214" font-size="5.2" text-anchor="start" fill="#000">-</text>
<rect x="16.8" y="221.4" width="73.7" height="73.6" fill="none" stroke="#666" stroke-width="0.8"/>
<text x="13.7" y="252.7" font-size="9.4" text-anchor="middle" fill="#000" transform="rotate(-90 13.7 252.7)" textLength="38.8" lengthAdjust="spacingAndGlyphs" stroke="#000" stroke-width="0.25">% of Max</text>
<polyline points="22.6,295 22.73,294.52 22.88,294.1 23.07,293.89 23.27,292.56 23.49,291.84 23.73,291.53 23.98,290.29 24.24,289.03 24.49,287.86 24.75,286.35 25,284.53 25.09,284.54 25.18,284.22 25.28,283.21 25.38,282.36 25.48,281.14 25.58,280.44 25.68,279.16 25.78,279.08 25.88,277.56 25.99,276.6 26.09,276.61 26.2,274.73 26.31,274.63 26.41,273.12 26.52,272.32 26.62,271.12 26.73,269.47 26.84,269.21 26.94,267.57 27.04,266.77 27.15,265.4 27.25,264.32 27.35,263.8 27.45,262.36 27.55,261.97 27.64,261.73 27.73,261.08 27.82,259.44 27.91,258.21 28,257.78 28.13,256.24 28.26,255.32 28.39,254.79 28.52,253.7 28.65,251.83 28.77,251.44 28.89,250.35 29.01,249.34 29.12,248.03 29.24,247.47 29.35,246.18 29.45,246.14 29.56,245.26 29.66,244.44 29.75,243.37 29.85,243.41 29.93,241.9 30.02,241.01 30.1,240.62 30.32,239.71 30.49,237.42 30.63,237.36 30.75,236.89 30.87,236.14 31,234.95 31.27,233.64 31.54,233.3 31.8,232.69 32.21,234.03 32.6,234.35 32.93,233.53 33.3,232.53 33.54,232.3 33.79,233.18 34.08,235.38 34.4,236.6 34.54,237.1 34.69,238.01 34.84,238.55 35,239.45 35.17,240.22 35.34,241.63 35.5,242.31 35.67,244.41 35.84,245.56 36,246.13 36.12,246.28 36.25,247.88 36.37,248.18 36.5,249.43 36.62,250.05 36.75,251.54 36.87,251.92 37,253.18 37.12,254.07 37.24,255.34 37.36,256.9 37.48,257.28 37.6,258.4 37.75,259.34 37.88,260.05 38.02,260.34 38.15,261.24 38.28,262.23 38.41,263.62 38.55,264.23 38.69,265.9 38.84,265.73 39,266.48 39.19,268.15 39.38,269.05 39.59,269.22 39.8,270.56 40.01,271.62 40.23,273.05 40.45,273.88 40.68,274.88 40.9,275.25 41.19,276.86 41.48,277.22 41.78,277.95 42.08,278.7 42.39,280.61 42.69,281.29 43,282.16 43.29,283.58 43.56,284 43.83,284.43 44.1,285.84 44.42,287.02 44.77,286.82 45.2,288.72 45.71,288.82 46.3,289.27 46.94,290.68 47.6,291.89 48.27,292.25 48.91,292.62 49.5,293.87 50.51,293.63 51.52,294.83 52.39,294.63 53,295" fill="#f0f0f0" stroke="none" stroke-width="0" stroke-linejoin="round"/>
<polyline points="30,295 30.24,295 30.56,293.52 30.93,293.99 31.35,292.23 31.8,291.75 32.27,291.49 32.75,289.82 33.21,289.07 33.65,287.59 34.05,287.69 34.4,286.68 34.63,284.75 34.84,283.86 35.03,283.48 35.22,282.65 35.39,282.09 35.56,280.54 35.72,279.92 35.88,278.35 36.03,277.44 36.19,276.26 36.34,275.93 36.5,274.97 36.66,274.07 36.82,273.55 37,271.73 37.18,270.84 37.38,270.07 37.57,269.81 37.77,267.97 37.98,267 38.18,266.25 38.39,265.67 38.59,264.16 38.79,263.07 38.98,262.92 39.16,261.77 39.34,260.85 39.51,259.14 39.66,258.55 39.8,257.44 39.94,256.84 40.06,256.62 40.17,255.75 40.27,254.57 40.35,252.92 40.44,252.21 40.51,251.71 40.58,249.98 40.65,249.13 40.72,248.66 40.78,247.25 40.85,246.58 40.92,245.59 41,245.45 41.12,243.85 41.24,242.12 41.35,240.92 41.46,240.76 41.57,239.05 41.67,238.93 41.78,237.48 41.89,237.18 42,236.28 42.49,235.17 43,233.89 44.1,233.67 44.48,234.38 45,235.66 45.14,237.28 45.29,237.93 45.46,238.6 45.63,239.32 45.81,240.16 46.01,240.54 46.21,241.88 46.41,242.31 46.63,242.94 46.85,245.32 47.07,246.56 47.3,246.96 47.42,247.83 47.53,248.38 47.66,249.84 47.78,249.9 47.91,251.66 48.03,251.46 48.16,252.88 48.3,254.35 48.43,254.88 48.56,255.36 48.7,256.18 48.84,258.07 48.98,258.21 49.11,259.48 49.25,260.91 49.39,261.47 49.53,262.05 49.67,264.06 49.81,264.88 49.95,265.63 50.09,265.79 50.23,267.18 50.36,268.67 50.5,268.82 50.69,269.52 50.88,271.51 51.06,271.7 51.25,272.94 51.44,273.41 51.62,275.34 51.81,276.01 51.99,276.71 52.18,277.54 52.37,278.18 52.56,279.18 52.76,280.07 52.96,280.18 53.16,281.92 53.37,282.72 53.58,282.43 53.8,283.29 54.17,285.24 54.55,285.81 54.92,286.54 55.3,288.27 55.7,289.55 56.11,289.49 56.54,290.59 57,291.24 57.48,291.89 58,292.53 58.86,293.69 59.88,294.16 60.97,294.61 62.05,294.65 63.05,294.99 63.89,295 64.5,295" fill="#f4f4f4" stroke="none" stroke-width="0" stroke-linejoin="round" fill-opacity="0.7"/>
<polyline points="30,295 30.24,295 30.56,293.52 30.93,293.99 31.35,292.23 31.8,291.75 32.27,291.49 32.75,289.82 33.21,289.07 33.65,287.59 34.05,287.69 34.4,286.68 34.63,284.75 34.84,283.86 35.03,283.48 35.22,282.65 35.39,282.09 35.56,280.54 35.72,279.92 35.88,278.35 36.03,277.44 36.19,276.26 36.34,275.93 36.5,274.97 36.66,274.07 36.82,273.55 37,271.73 37.18,270.84 37.38,270.07 37.57,269.81 37.77,267.97 37.98,267 38.18,266.25 38.39,265.67 38.59,264.16 38.79,263.07 38.98,262.92 39.16,261.77 39.34,260.85 39.51,259.14 39.66,258.55 39.8,257.44 39.94,256.84 40.06,256.62 40.17,255.75 40.27,254.57 40.35,252.92 40.44,252.21 40.51,251.71 40.58,249.98 40.65,249.13 40.72,248.66 40.78,247.25 40.85,246.58 40.92,245.59 41,245.45 41.12,243.85 41.24,242.12 41.35,240.92 41.46,240.76 41.57,239.05 41.67,238.93 41.78,237.48 41.89,237.18 42,236.28 42.49,235.17 43,233.89 44.1,233.67 44.48,234.38 45,235.66 45.14,237.28 45.29,237.93 45.46,238.6 45.63,239.32 45.81,240.16 46.01,240.54 46.21,241.88 46.41,242.31 46.63,242.94 46.85,245.32 47.07,246.56 47.3,246.96 47.42,247.83 47.53,248.38 47.66,249.84 47.78,249.9 47.91,251.66 48.03,251.46 48.16,252.88 48.3,254.35 48.43,254.88 48.56,255.36 48.7,256.18 48.84,258.07 48.98,258.21 49.11,259.48 49.25,260.91 49.39,261.47 49.53,262.05 49.67,264.06 49.81,264.88 49.95,265.63 50.09,265.79 50.23,267.18 50.36,268.67 50.5,268.82 50.69,269.52 50.88,271.51 51.06,271.7 51.25,272.94 51.44,273.41 51.62,275.34 51.81,276.01 51.99,276.71 52.18,277.54 52.37,278.18 52.56,279.18 52.76,280.07 52.96,280.18 53.16,281.92 53.37,282.72 53.58,282.43 53.8,283.29 54.17,285.24 54.55,285.81 54.92,286.54 55.3,288.27 55.7,289.55 56.11,289.49 56.54,290.59 57,291.24 57.48,291.89 58,292.53 58.86,293.69 59.88,294.16 60.97,294.61 62.05,294.65 63.05,294.99 63.89,295 64.5,295" fill="none" stroke="#a8a8a8" stroke-width="0.9" stroke-linejoin="round"/>
<polyline points="22.6,295 22.73,294.52 22.88,294.1 23.07,293.89 23.27,292.56 23.49,291.84 23.73,291.53 23.98,290.29 24.24,289.03 24.49,287.86 24.75,286.35 25,284.53 25.09,284.54 25.18,284.22 25.28,283.21 25.38,282.36 25.48,281.14 25.58,280.44 25.68,279.16 25.78,279.08 25.88,277.56 25.99,276.6 26.09,276.61 26.2,274.73 26.31,274.63 26.41,273.12 26.52,272.32 26.62,271.12 26.73,269.47 26.84,269.21 26.94,267.57 27.04,266.77 27.15,265.4 27.25,264.32 27.35,263.8 27.45,262.36 27.55,261.97 27.64,261.73 27.73,261.08 27.82,259.44 27.91,258.21 28,257.78 28.13,256.24 28.26,255.32 28.39,254.79 28.52,253.7 28.65,251.83 28.77,251.44 28.89,250.35 29.01,249.34 29.12,248.03 29.24,247.47 29.35,246.18 29.45,246.14 29.56,245.26 29.66,244.44 29.75,243.37 29.85,243.41 29.93,241.9 30.02,241.01 30.1,240.62 30.32,239.71 30.49,237.42 30.63,237.36 30.75,236.89 30.87,236.14 31,234.95 31.27,233.64 31.54,233.3 31.8,232.69 32.21,234.03 32.6,234.35 32.93,233.53 33.3,232.53 33.54,232.3 33.79,233.18 34.08,235.38 34.4,236.6 34.54,237.1 34.69,238.01 34.84,238.55 35,239.45 35.17,240.22 35.34,241.63 35.5,242.31 35.67,244.41 35.84,245.56 36,246.13 36.12,246.28 36.25,247.88 36.37,248.18 36.5,249.43 36.62,250.05 36.75,251.54 36.87,251.92 37,253.18 37.12,254.07 37.24,255.34 37.36,256.9 37.48,257.28 37.6,258.4 37.75,259.34 37.88,260.05 38.02,260.34 38.15,261.24 38.28,262.23 38.41,263.62 38.55,264.23 38.69,265.9 38.84,265.73 39,266.48 39.19,268.15 39.38,269.05 39.59,269.22 39.8,270.56 40.01,271.62 40.23,273.05 40.45,273.88 40.68,274.88 40.9,275.25 41.19,276.86 41.48,277.22 41.78,277.95 42.08,278.7 42.39,280.61 42.69,281.29 43,282.16 43.29,283.58 43.56,284 43.83,284.43 44.1,285.84 44.42,287.02 44.77,286.82 45.2,288.72 45.71,288.82 46.3,289.27 46.94,290.68 47.6,291.89 48.27,292.25 48.91,292.62 49.5,293.87 50.51,293.63 51.52,294.83 52.39,294.63 53,295" fill="none" stroke="#555" stroke-width="0.9" stroke-linejoin="round"/>
<line x1="54.8" y1="227.9" x2="38.64" y2="233.82" stroke="#444" stroke-width="1.3"/>
<polygon points="34.6,235.3 38.38,231.68 39.83,235.62" fill="#444" stroke="none" stroke-width="0.5"/>
<line x1="62.4" y1="261.2" x2="53.97" y2="268.41" stroke="#444" stroke-width="1.3"/>
<polygon points="50.7,271.2 52.98,266.48 55.71,269.68" fill="#444" stroke="none" stroke-width="0.5"/>
<text x="56.3" y="230" font-size="7.4" text-anchor="start" fill="#000" transform="matrix(1,0,0,1.13,0,-29.9)" textLength="26.5" lengthAdjust="spacingAndGlyphs" stroke="#000" stroke-width="0.2">RV-GFP</text>
<text x="60.6" y="257.5" font-size="7.4" text-anchor="start" fill="#000" transform="matrix(1,0,0,1.13,0,-33.47)" textLength="23.7" lengthAdjust="spacingAndGlyphs" stroke="#000" stroke-width="0.2">RV-Flt3</text>
<text x="16.5" y="304.7" font-size="8.2" text-anchor="start" fill="#000" transform="matrix(1,0,0,1.13,0,-39.61)" textLength="26.9" lengthAdjust="spacingAndGlyphs" stroke="#000" stroke-width="0.2">CD11C</text>
<line x1="54.6" y1="301.2" x2="82.6" y2="301.2" stroke="#000" stroke-width="1"/>
<polygon points="86.6,301.2 82.1,303.1 82.1,299.3" fill="#000" stroke="none" stroke-width="0.5"/>
<text x="103.9" y="217.8" font-size="12" font-weight="bold" text-anchor="start" fill="#000" transform="matrix(1,0,0,1.13,0,-28.31)" stroke="#000" stroke-width="0.3">F</text>
<text x="126.5" y="217.6" font-size="7.2" fill="#000" stroke="#000" stroke-width="0.2" textLength="63.5" lengthAdjust="spacingAndGlyphs">Lin<tspan dy="-2.2" font-size="4.5">-</tspan><tspan dy="2.2">IL7R</tspan><tspan dy="-2.2" font-size="4.5">-</tspan><tspan dy="2.2">Sca1</tspan><tspan dy="-2.2" font-size="4.5">-</tspan><tspan dy="2.2">cKit</tspan><tspan dy="-2.2" font-size="4.5">+</tspan></text>
<rect x="122.5" y="222.6" width="68.7" height="67.9" fill="none" stroke="#555" stroke-width="0.8"/>
<line x1="115" y1="268.4" x2="115" y2="228.6" stroke="#000" stroke-width="1"/>
<polygon points="115,224.6 116.9,229.1 113.1,229.1" fill="#000" stroke="none" stroke-width="0.5"/>
<text x="117.6" y="282" font-size="7.4" text-anchor="middle" fill="#000" transform="rotate(-90 117.6 282)" textLength="13.9" lengthAdjust="spacingAndGlyphs" stroke="#000" stroke-width="0.25">FcR</text>
<defs><filter id="b1" x="-20%" y="-20%" width="140%" height="140%"><feGaussianBlur stdDeviation="0.9"/></filter><filter id="b2" x="-20%" y="-20%" width="140%" height="140%"><feGaussianBlur stdDeviation="0.6"/></filter><clipPath id="cf1"><rect x="122.9" y="223" width="67.9" height="67"/></clipPath></defs>
<g clip-path="url(#cf1)">
<path d="M146.53 262.56h.6v.6h-.6zM142.51 243.52h.6v.6h-.6zM133.77 244.72h.6v.6h-.6zM125.08 250.87h.6v.6h-.6zM140.22 244.26h.6v.6h-.6zM128.73 247.92h.6v.6h-.6zM145.82 269.26h.6v.6h-.6zM121.15 249.79h.6v.6h-.6zM151.6 249.71h.6v.6h-.6zM126.79 253.77h.6v.6h-.6zM129.96 259.69h.6v.6h-.6zM124.9 272.7h.6v.6h-.6zM123.91 253.34h.6v.6h-.6zM124.51 270.92h.6v.6h-.6zM137.56 241.32h.6v.6h-.6zM146.77 244.89h.6v.6h-.6zM146.81 240.43h.6v.6h-.6zM133.8 243.11h.6v.6h-.6zM155.91 249.57h.6v.6h-.6zM155.79 258.19h.6v.6h-.6zM144.17 276.11h.6v.6h-.6zM151.06 245.6h.6v.6h-.6zM119.76 261.37h.6v.6h-.6zM127 245.36h.6v.6h-.6zM143.52 281.36h.6v.6h-.6zM131.44 244.59h.6v.6h-.6zM122.51 257.53h.6v.6h-.6zM142.05 243.42h.6v.6h-.6zM156.29 257.32h.6v.6h-.6zM138.12 236.53h.6v.6h-.6zM129.08 251.15h.6v.6h-.6zM153.55 252.24h.6v.6h-.6zM131.03 272.06h.6v.6h-.6zM150.63 255.17h.6v.6h-.6zM122.26 263.07h.6v.6h-.6zM141.6 277.27h.6v.6h-.6zM128.74 275.86h.6v.6h-.6zM150.77 265.5h.6v.6h-.6zM147.61 267.85h.6v.6h-.6zM151.38 245.9h.6v.6h-.6zM122.61 259.26h.6v.6h-.6zM152.12 253.69h.6v.6h-.6zM127.95 261.76h.6v.6h-.6zM138.1 247.27h.6v.6h-.6zM153.08 246.89h.6v.6h-.6zM139.55 281.98h.6v.6h-.6zM125.15 251.28h.6v.6h-.6zM131 277.01h.6v.6h-.6zM149.67 266.68h.6v.6h-.6zM138.3 279.89h.6v.6h-.6zM123.72 269.62h.6v.6h-.6zM125.54 248.41h.6v.6h-.6zM132.7 276.22h.6v.6h-.6zM119.76 258.84h.6v.6h-.6zM139.27 281.32h.6v.6h-.6zM122.06 261.59h.6v.6h-.6zM129.46 275.68h.6v.6h-.6zM146.19 239.68h.6v.6h-.6zM152.31 252.46h.6v.6h-.6zM133.16 246.86h.6v.6h-.6zM124.34 268.81h.6v.6h-.6zM138.06 239.22h.6v.6h-.6zM127.54 255.21h.6v.6h-.6zM146.31 245.95h.6v.6h-.6zM125.72 265.94h.6v.6h-.6zM122.9 265.73h.6v.6h-.6zM145.61 277.45h.6v.6h-.6zM124.62 253.07h.6v.6h-.6zM142.55 274.71h.6v.6h-.6zM123.5 254.3h.6v.6h-.6zM122.69 269.06h.6v.6h-.6zM144.78 239.33h.6v.6h-.6zM144.67 243.39h.6v.6h-.6zM134.42 242.53h.6v.6h-.6zM150.69 245.32h.6v.6h-.6zM146.13 272.05h.6v.6h-.6zM126.1 264.57h.6v.6h-.6zM125.89 276.37h.6v.6h-.6zM147.42 240.69h.6v.6h-.6zM149.17 242.77h.6v.6h-.6zM124.32 271.73h.6v.6h-.6zM132.79 279.59h.6v.6h-.6zM145.73 269.98h.6v.6h-.6zM133.72 240.7h.6v.6h-.6zM143.12 239.08h.6v.6h-.6zM129.78 245.85h.6v.6h-.6zM150.87 253.62h.6v.6h-.6zM131.02 278.68h.6v.6h-.6zM127.3 276.22h.6v.6h-.6zM122.84 260.07h.6v.6h-.6zM140.75 276.94h.6v.6h-.6zM151.84 245.13h.6v.6h-.6zM125.94 259.51h.6v.6h-.6zM123.55 274.63h.6v.6h-.6zM127.37 249.69h.6v.6h-.6zM133.39 283.78h.6v.6h-.6zM140.4 268.98h.6v.6h-.6zM120.76 251.7h.6v.6h-.6zM129.19 245.11h.6v.6h-.6zM147.97 275.69h.6v.6h-.6zM120.01 249.81h.6v.6h-.6zM127.69 245.44h.6v.6h-.6zM141.47 280.6h.6v.6h-.6zM152.15 256.9h.6v.6h-.6zM153.58 247.32h.6v.6h-.6zM139.61 243.73h.6v.6h-.6zM126.23 251.04h.6v.6h-.6zM150.68 263.89h.6v.6h-.6zM132.84 272.96h.6v.6h-.6zM138.53 279.32h.6v.6h-.6zM146.52 272.29h.6v.6h-.6zM142.69 276.41h.6v.6h-.6zM124.38 250.36h.6v.6h-.6zM126.43 270.91h.6v.6h-.6zM140.19 275.59h.6v.6h-.6zM152.62 243.39h.6v.6h-.6zM151.01 247.46h.6v.6h-.6zM144.96 272.89h.6v.6h-.6zM152.02 258.4h.6v.6h-.6zM127.24 275.23h.6v.6h-.6zM126.02 273.35h.6v.6h-.6zM135.54 278.65h.6v.6h-.6zM125.92 277.2h.6v.6h-.6zM131.02 241.76h.6v.6h-.6zM125.84 272.89h.6v.6h-.6zM128.32 277.52h.6v.6h-.6zM155.51 256.4h.6v.6h-.6zM120.43 257.46h.6v.6h-.6zM152.07 252.27h.6v.6h-.6zM148.9 246.38h.6v.6h-.6zM144.46 242.56h.6v.6h-.6zM125.05 266.52h.6v.6h-.6zM126.91 248.18h.6v.6h-.6zM119.73 252.95h.6v.6h-.6zM132.17 242.63h.6v.6h-.6zM138.47 242.24h.6v.6h-.6zM146.18 244.23h.6v.6h-.6zM123.37 252.84h.6v.6h-.6zM129.11 276.48h.6v.6h-.6zM127.07 263.88h.6v.6h-.6zM126.07 253.93h.6v.6h-.6zM150.05 262.72h.6v.6h-.6zM144.91 244.6h.6v.6h-.6zM130.34 245.77h.6v.6h-.6zM129.92 246.02h.6v.6h-.6zM127.31 246.6h.6v.6h-.6zM141.64 278.32h.6v.6h-.6zM155.64 250.78h.6v.6h-.6zM152.17 243.84h.6v.6h-.6zM152.95 273.63h.6v.6h-.6zM143.26 272.12h.6v.6h-.6zM135.2 279.36h.6v.6h-.6zM128.24 279.53h.6v.6h-.6zM153.46 251.96h.6v.6h-.6zM147.67 250.86h.6v.6h-.6zM123.35 248.04h.6v.6h-.6zM127.34 280.24h.6v.6h-.6zM124.97 263.71h.6v.6h-.6zM121.22 257.51h.6v.6h-.6zM139.77 243.28h.6v.6h-.6zM148.7 268.04h.6v.6h-.6zM135.39 246.08h.6v.6h-.6zM127.49 249.74h.6v.6h-.6zM142.93 275.02h.6v.6h-.6zM138.42 278.51h.6v.6h-.6zM151.78 250.54h.6v.6h-.6zM128.05 277.02h.6v.6h-.6zM125.62 280.67h.6v.6h-.6zM132.89 279.53h.6v.6h-.6zM133.21 244.09h.6v.6h-.6zM123.68 257.48h.6v.6h-.6zM124.99 273.45h.6v.6h-.6zM152.9 261h.6v.6h-.6zM134.86 279.19h.6v.6h-.6zM133.46 241.9h.6v.6h-.6zM124.72 267.72h.6v.6h-.6zM152.06 256.37h.6v.6h-.6zM127.79 251.07h.6v.6h-.6zM139.75 280.62h.6v.6h-.6zM151.4 254.09h.6v.6h-.6zM136.59 242.44h.6v.6h-.6zM143.81 273.74h.6v.6h-.6zM124.95 267.87h.6v.6h-.6zM149.65 241.14h.6v.6h-.6zM144.73 273.44h.6v.6h-.6zM135.75 278.43h.6v.6h-.6zM124.66 270.12h.6v.6h-.6zM144.7 276.25h.6v.6h-.6zM136.52 280.9h.6v.6h-.6zM147.48 266.33h.6v.6h-.6zM125.94 274.51h.6v.6h-.6zM147.98 260.28h.6v.6h-.6zM143.27 270.61h.6v.6h-.6zM128.41 276.57h.6v.6h-.6zM124.59 277.93h.6v.6h-.6zM145.91 269.05h.6v.6h-.6zM152.36 251.37h.6v.6h-.6zM121.7 257.58h.6v.6h-.6zM146.32 242.82h.6v.6h-.6zM133.72 244.14h.6v.6h-.6zM149.13 245.73h.6v.6h-.6zM123.26 260.05h.6v.6h-.6zM127.42 247.59h.6v.6h-.6zM124.59 257.08h.6v.6h-.6zM123.9 259.72h.6v.6h-.6zM124.27 262.31h.6v.6h-.6zM143.7 243.57h.6v.6h-.6zM120.7 258.37h.6v.6h-.6zM151.16 266.24h.6v.6h-.6zM142.62 240.93h.6v.6h-.6zM122.37 261.52h.6v.6h-.6zM125.21 257.98h.6v.6h-.6zM153.11 265.85h.6v.6h-.6zM140.97 278.18h.6v.6h-.6zM126.81 274.71h.6v.6h-.6zM119.95 250.3h.6v.6h-.6zM149.78 271.04h.6v.6h-.6zM122.75 272.38h.6v.6h-.6zM132.4 279.73h.6v.6h-.6zM140.71 278.97h.6v.6h-.6zM147.53 248.8h.6v.6h-.6zM148.73 269.79h.6v.6h-.6zM143.39 240.03h.6v.6h-.6zM151.89 246.92h.6v.6h-.6zM144.05 276.29h.6v.6h-.6zM129.45 246.89h.6v.6h-.6zM132.48 242.47h.6v.6h-.6zM139.7 245.46h.6v.6h-.6zM153.26 256.63h.6v.6h-.6zM120.09 251.43h.6v.6h-.6zM122.87 260.48h.6v.6h-.6zM127.46 245.81h.6v.6h-.6zM147.5 241.43h.6v.6h-.6zM151.08 257.27h.6v.6h-.6zM136.13 282.65h.6v.6h-.6zM125.65 261.68h.6v.6h-.6zM152.65 259.19h.6v.6h-.6zM141.18 243.33h.6v.6h-.6zM123.08 250.08h.6v.6h-.6zM155.51 259.44h.6v.6h-.6zM142.14 244.07h.6v.6h-.6zM128.15 279.23h.6v.6h-.6zM119.47 276.06h.6v.6h-.6zM131.9 243.44h.6v.6h-.6zM153.6 260.79h.6v.6h-.6zM152.21 251.78h.6v.6h-.6zM131.07 278.04h.6v.6h-.6zM152.09 247.98h.6v.6h-.6zM124.32 263.2h.6v.6h-.6zM125.86 246.69h.6v.6h-.6zM126.31 252.12h.6v.6h-.6zM134.04 282.31h.6v.6h-.6zM137.69 282.22h.6v.6h-.6zM153.63 253.49h.6v.6h-.6zM150.96 260.77h.6v.6h-.6zM154.29 255.48h.6v.6h-.6zM129.58 279.49h.6v.6h-.6zM130.65 245.43h.6v.6h-.6zM152.23 253.38h.6v.6h-.6zM125.6 260.79h.6v.6h-.6zM140.41 281.08h.6v.6h-.6zM123.99 254.95h.6v.6h-.6zM152.44 247.15h.6v.6h-.6zM123.6 258.44h.6v.6h-.6zM124.87 251.77h.6v.6h-.6zM125.68 250.11h.6v.6h-.6zM145.24 267.21h.6v.6h-.6zM125.79 253.35h.6v.6h-.6zM151.5 252.74h.6v.6h-.6zM139.83 244.6h.6v.6h-.6zM152.76 257.72h.6v.6h-.6zM154.11 252.98h.6v.6h-.6zM134.61 244.3h.6v.6h-.6zM127.01 272.43h.6v.6h-.6zM149.64 246.28h.6v.6h-.6zM130.25 277h.6v.6h-.6zM120.95 265.25h.6v.6h-.6zM131.5 276.4h.6v.6h-.6zM134.05 278.49h.6v.6h-.6zM123.74 252.32h.6v.6h-.6zM126.8 256.6h.6v.6h-.6zM136.11 242.67h.6v.6h-.6zM156.13 252.72h.6v.6h-.6zM123.75 270.77h.6v.6h-.6zM138.56 279.5h.6v.6h-.6zM124.97 270.35h.6v.6h-.6zM146.89 268.13h.6v.6h-.6zM138.56 279.83h.6v.6h-.6zM153.65 257.25h.6v.6h-.6zM132.17 244.27h.6v.6h-.6zM150 270.49h.6v.6h-.6zM130.4 247.83h.6v.6h-.6zM119.09 263.35h.6v.6h-.6zM128.94 276.93h.6v.6h-.6zM152.63 256.97h.6v.6h-.6zM119.16 254.1h.6v.6h-.6zM149.64 259.17h.6v.6h-.6zM121.69 251.03h.6v.6h-.6zM122.79 258.21h.6v.6h-.6zM134.67 281.43h.6v.6h-.6zM153.11 256.41h.6v.6h-.6zM127.45 275.15h.6v.6h-.6zM134.64 243.12h.6v.6h-.6zM151.1 261.09h.6v.6h-.6zM145.06 244.1h.6v.6h-.6zM154.28 265.54h.6v.6h-.6zM130.16 278.88h.6v.6h-.6zM143.01 244.4h.6v.6h-.6zM136.46 282.45h.6v.6h-.6zM125.38 264.83h.6v.6h-.6zM129.7 280.57h.6v.6h-.6zM153.48 259.25h.6v.6h-.6zM138.11 279.51h.6v.6h-.6zM123.92 256.28h.6v.6h-.6zM128.5 275.17h.6v.6h-.6zM137.27 243.79h.6v.6h-.6zM122.61 255.79h.6v.6h-.6zM124.27 263.49h.6v.6h-.6zM150.12 267.36h.6v.6h-.6zM132.05 248.11h.6v.6h-.6zM119.94 263.86h.6v.6h-.6zM123.43 271.15h.6v.6h-.6zM122.71 263.75h.6v.6h-.6zM139.7 279.84h.6v.6h-.6zM121.9 262.52h.6v.6h-.6zM152.53 264.3h.6v.6h-.6zM140 277.65h.6v.6h-.6zM131.91 278.57h.6v.6h-.6zM156.21 256.76h.6v.6h-.6zM151.24 252.37h.6v.6h-.6zM151.52 262.66h.6v.6h-.6zM152.96 255.92h.6v.6h-.6zM152.54 247.88h.6v.6h-.6zM126.65 255.89h.6v.6h-.6zM151.39 266.07h.6v.6h-.6zM153.86 249.25h.6v.6h-.6zM154.78 262.74h.6v.6h-.6zM123.03 268.06h.6v.6h-.6zM133.8 243.27h.6v.6h-.6zM134.45 281.23h.6v.6h-.6zM127.4 248.2h.6v.6h-.6zM134.82 279.81h.6v.6h-.6zM128.11 249.75h.6v.6h-.6zM131.92 251.64h.6v.6h-.6zM146.64 243.66h.6v.6h-.6zM126.84 276.48h.6v.6h-.6zM148.1 247.06h.6v.6h-.6zM136.26 245.1h.6v.6h-.6zM127.29 248.32h.6v.6h-.6zM134.81 244.04h.6v.6h-.6zM137.12 241.66h.6v.6h-.6zM152.13 261.93h.6v.6h-.6zM123.36 265.2h.6v.6h-.6zM152.1 260.63h.6v.6h-.6zM152.59 262.57h.6v.6h-.6zM140.34 246.81h.6v.6h-.6zM154.96 250.52h.6v.6h-.6zM132.51 244.94h.6v.6h-.6zM150.34 254.46h.6v.6h-.6zM145.38 269.24h.6v.6h-.6zM128.29 275.28h.6v.6h-.6zM151.87 264.19h.6v.6h-.6zM130.83 247.65h.6v.6h-.6zM153.34 258.15h.6v.6h-.6zM127.26 274.87h.6v.6h-.6zM141 278.13h.6v.6h-.6zM152.52 257.43h.6v.6h-.6zM147.5 271.88h.6v.6h-.6zM150.13 246.75h.6v.6h-.6zM151.87 250.41h.6v.6h-.6zM125.12 266.9h.6v.6h-.6zM131.03 248.19h.6v.6h-.6zM145.76 274.49h.6v.6h-.6zM145.11 277.49h.6v.6h-.6zM124.06 257.95h.6v.6h-.6zM148.98 264.54h.6v.6h-.6zM127.69 276.41h.6v.6h-.6zM136.37 240.56h.6v.6h-.6zM144.58 245.89h.6v.6h-.6zM136.15 241.89h.6v.6h-.6zM132.96 281.05h.6v.6h-.6zM134.37 242.6h.6v.6h-.6zM144.83 244.54h.6v.6h-.6zM151.55 259.08h.6v.6h-.6zM137.67 274.19h.6v.6h-.6zM149.1 247.65h.6v.6h-.6zM130 243.95h.6v.6h-.6zM144.69 274.94h.6v.6h-.6zM150.49 272.9h.6v.6h-.6zM127.72 247.13h.6v.6h-.6zM124.12 254.21h.6v.6h-.6zM125.54 271.5h.6v.6h-.6zM127.49 272.68h.6v.6h-.6zM134.43 276.8h.6v.6h-.6zM126.29 279.32h.6v.6h-.6zM144.79 272.96h.6v.6h-.6zM152.27 247.25h.6v.6h-.6zM122.93 261.89h.6v.6h-.6zM128.8 274.24h.6v.6h-.6zM125.99 271.95h.6v.6h-.6zM148.03 243.02h.6v.6h-.6zM127.34 255.59h.6v.6h-.6zM133.89 239.48h.6v.6h-.6zM122.71 259.24h.6v.6h-.6zM123.42 262.58h.6v.6h-.6zM125.63 251.07h.6v.6h-.6zM147.22 272.81h.6v.6h-.6zM130.24 278.15h.6v.6h-.6zM143.42 265.25h.6v.6h-.6zM155.34 253.5h.6v.6h-.6zM121.3 254.67h.6v.6h-.6zM141.35 277.46h.6v.6h-.6zM123.1 256.25h.6v.6h-.6zM124.16 262.88h.6v.6h-.6zM124.44 266.98h.6v.6h-.6zM122.67 247.71h.6v.6h-.6zM152.17 254.51h.6v.6h-.6zM148.67 248.12h.6v.6h-.6zM147.7 247.07h.6v.6h-.6zM147.43 248.52h.6v.6h-.6zM152.37 245.88h.6v.6h-.6zM143.39 243.65h.6v.6h-.6zM128.53 270.33h.6v.6h-.6zM149.95 245.11h.6v.6h-.6zM123.1 258.54h.6v.6h-.6zM124.63 270.91h.6v.6h-.6zM141.3 278.73h.6v.6h-.6zM126.64 248.43h.6v.6h-.6zM145.19 240.49h.6v.6h-.6zM138.57 240.1h.6v.6h-.6zM137.2 246.02h.6v.6h-.6zM154.3 258.36h.6v.6h-.6zM153.5 255.91h.6v.6h-.6zM145.77 273.27h.6v.6h-.6zM124.1 255.42h.6v.6h-.6zM125.81 257.02h.6v.6h-.6zM125.3 270.64h.6v.6h-.6zM125.37 265.39h.6v.6h-.6zM126.54 273.69h.6v.6h-.6zM141.75 242.61h.6v.6h-.6zM149.04 270.62h.6v.6h-.6zM128.86 245.8h.6v.6h-.6zM153.62 251.83h.6v.6h-.6zM149.41 262.06h.6v.6h-.6zM125.72 255.92h.6v.6h-.6zM145.62 269.7h.6v.6h-.6zM145.21 278.54h.6v.6h-.6zM153.83 255.7h.6v.6h-.6zM145.62 270.52h.6v.6h-.6zM137.82 282.88h.6v.6h-.6zM144.46 265.64h.6v.6h-.6zM122.08 270.82h.6v.6h-.6zM148.84 271.43h.6v.6h-.6zM145.85 267.17h.6v.6h-.6zM144.16 242.55h.6v.6h-.6zM132.24 278.18h.6v.6h-.6zM124.1 270.47h.6v.6h-.6zM123.53 244.9h.6v.6h-.6zM141.71 282.36h.6v.6h-.6zM135.01 242.77h.6v.6h-.6zM142.28 244.87h.6v.6h-.6zM125.93 279.29h.6v.6h-.6zM139.3 273.35h.6v.6h-.6zM152.71 259.02h.6v.6h-.6zM134.87 280.22h.6v.6h-.6zM143.23 241.75h.6v.6h-.6zM156.34 253.45h.6v.6h-.6zM125.58 253.62h.6v.6h-.6zM144.81 270.67h.6v.6h-.6zM127.37 275.99h.6v.6h-.6zM131.01 243.7h.6v.6h-.6zM150.76 262.46h.6v.6h-.6zM123.81 253.82h.6v.6h-.6zM137.39 277.49h.6v.6h-.6zM143.84 272.62h.6v.6h-.6zM139.33 245.21h.6v.6h-.6zM127.54 272.24h.6v.6h-.6zM152.68 264.78h.6v.6h-.6zM131.2 245.09h.6v.6h-.6zM137.4 245.66h.6v.6h-.6zM133.12 281.25h.6v.6h-.6zM137.46 243.36h.6v.6h-.6zM151.67 269.26h.6v.6h-.6zM153.21 252.31h.6v.6h-.6zM146.64 242.6h.6v.6h-.6zM151.79 244.69h.6v.6h-.6zM151.12 256.87h.6v.6h-.6zM150.74 251.3h.6v.6h-.6zM126.18 262.59h.6v.6h-.6zM151.53 260.57h.6v.6h-.6zM127 278.18h.6v.6h-.6zM146.33 243.52h.6v.6h-.6zM153 254.96h.6v.6h-.6zM145.45 285.98h.6v.6h-.6zM129.45 240.86h.6v.6h-.6zM149.71 259.16h.6v.6h-.6zM147.36 247.62h.6v.6h-.6zM123.22 250.79h.6v.6h-.6zM147.29 250.88h.6v.6h-.6zM140.61 246.4h.6v.6h-.6zM153.31 262.56h.6v.6h-.6zM141.52 275.56h.6v.6h-.6zM132.49 246.04h.6v.6h-.6zM149.86 248.95h.6v.6h-.6zM151.97 258.86h.6v.6h-.6zM150.09 245.9h.6v.6h-.6zM148.27 249.04h.6v.6h-.6zM123.3 268.38h.6v.6h-.6zM121.96 261.1h.6v.6h-.6zM144.23 276.17h.6v.6h-.6zM146.51 245.32h.6v.6h-.6zM152.99 264.25h.6v.6h-.6zM141.96 239.45h.6v.6h-.6zM147.24 246.34h.6v.6h-.6zM129.69 244.34h.6v.6h-.6zM133.32 242.17h.6v.6h-.6zM129.29 240.85h.6v.6h-.6zM133.8 281.45h.6v.6h-.6zM150.48 249.76h.6v.6h-.6zM151.71 246.15h.6v.6h-.6zM122.84 265.16h.6v.6h-.6zM123.72 260.85h.6v.6h-.6zM149.17 261.41h.6v.6h-.6zM141.93 270.3h.6v.6h-.6zM152.72 250.44h.6v.6h-.6zM122.79 262.29h.6v.6h-.6zM128.82 274.92h.6v.6h-.6zM128.87 258.5h.6v.6h-.6zM126.99 252.72h.6v.6h-.6zM124.86 250.75h.6v.6h-.6zM135.67 286.45h.6v.6h-.6zM142.47 279.09h.6v.6h-.6zM124.79 259.35h.6v.6h-.6zM142.34 276.1h.6v.6h-.6zM135.36 279.5h.6v.6h-.6zM144.21 275.41h.6v.6h-.6zM121.38 276.1h.6v.6h-.6zM122.09 240.83h.6v.6h-.6zM121 267.05h.6v.6h-.6zM143.13 274.6h.6v.6h-.6zM129.49 278.09h.6v.6h-.6zM123.34 257.82h.6v.6h-.6zM148.83 246.59h.6v.6h-.6zM138.23 279.13h.6v.6h-.6zM130.53 247.31h.6v.6h-.6zM124.63 251.49h.6v.6h-.6zM141.94 277.85h.6v.6h-.6zM144.99 276.57h.6v.6h-.6zM123.73 241.79h.6v.6h-.6zM129.04 273.3h.6v.6h-.6zM139.37 243.33h.6v.6h-.6zM132.11 241.38h.6v.6h-.6zM135.58 244.44h.6v.6h-.6zM144.47 243.18h.6v.6h-.6zM139.19 245.77h.6v.6h-.6zM139.43 279.21h.6v.6h-.6zM151.04 259.52h.6v.6h-.6zM151.79 259.23h.6v.6h-.6zM151.69 248.25h.6v.6h-.6zM129.97 279.72h.6v.6h-.6zM135.58 245.78h.6v.6h-.6zM148.53 255.82h.6v.6h-.6zM126.1 248.71h.6v.6h-.6zM138.63 241.75h.6v.6h-.6zM138.63 279.83h.6v.6h-.6zM122.22 264.36h.6v.6h-.6zM126.99 282.97h.6v.6h-.6zM125.01 248.69h.6v.6h-.6zM136.89 279.41h.6v.6h-.6zM123.51 264.29h.6v.6h-.6zM151.66 260.17h.6v.6h-.6zM126.66 271.88h.6v.6h-.6zM140.5 243.05h.6v.6h-.6zM133.9 279.34h.6v.6h-.6zM124.54 267.2h.6v.6h-.6zM136.93 279.64h.6v.6h-.6zM148.31 274.35h.6v.6h-.6zM134.03 280.1h.6v.6h-.6zM143.44 277.42h.6v.6h-.6zM137.69 283.37h.6v.6h-.6zM148.84 248.49h.6v.6h-.6zM141.19 278.84h.6v.6h-.6zM150.26 249.24h.6v.6h-.6zM148.8 270.17h.6v.6h-.6zM124.29 249.37h.6v.6h-.6zM139.6 245.8h.6v.6h-.6zM153.38 257.73h.6v.6h-.6zM125.25 260.75h.6v.6h-.6zM130.49 245.74h.6v.6h-.6zM125.63 256.63h.6v.6h-.6zM134.48 242.08h.6v.6h-.6zM145.5 241.65h.6v.6h-.6zM147.12 240.94h.6v.6h-.6zM125.96 255.41h.6v.6h-.6zM129.73 248.1h.6v.6h-.6zM123.82 254.36h.6v.6h-.6zM126.57 276.53h.6v.6h-.6zM129.01 281.25h.6v.6h-.6zM126.74 267.23h.6v.6h-.6zM124.47 252.61h.6v.6h-.6zM139.09 276.81h.6v.6h-.6zM148.25 260.57h.6v.6h-.6zM151.5 257.71h.6v.6h-.6zM133.19 277.18h.6v.6h-.6zM149.6 246.68h.6v.6h-.6zM155.66 259.1h.6v.6h-.6zM149.67 247.56h.6v.6h-.6zM151.81 255.63h.6v.6h-.6zM125.69 278.84h.6v.6h-.6zM135.69 243.76h.6v.6h-.6zM141.47 278.34h.6v.6h-.6zM154.7 256.71h.6v.6h-.6zM137.39 246.04h.6v.6h-.6zM134.03 243.05h.6v.6h-.6zM121.14 259.14h.6v.6h-.6zM133.47 281.96h.6v.6h-.6zM132.16 278.38h.6v.6h-.6zM133.63 244.2h.6v.6h-.6zM148.47 263.84h.6v.6h-.6zM126.29 265.37h.6v.6h-.6zM133.2 244.06h.6v.6h-.6zM134.26 277.17h.6v.6h-.6zM152.34 270.22h.6v.6h-.6zM144.58 272.42h.6v.6h-.6zM140.56 245.34h.6v.6h-.6zM120.18 276.79h.6v.6h-.6zM147.93 241.95h.6v.6h-.6zM148.84 243.28h.6v.6h-.6zM148.87 263.13h.6v.6h-.6zM129.18 278.18h.6v.6h-.6zM127.81 245.01h.6v.6h-.6zM124.57 255.09h.6v.6h-.6zM138.16 242.35h.6v.6h-.6zM142.3 243.55h.6v.6h-.6zM125.09 271.18h.6v.6h-.6zM149.2 251.77h.6v.6h-.6zM126.14 269.75h.6v.6h-.6zM123.11 255.67h.6v.6h-.6zM151.93 250.48h.6v.6h-.6zM145.14 241.69h.6v.6h-.6zM153.29 249.5h.6v.6h-.6zM123.19 268.42h.6v.6h-.6zM129.92 241.84h.6v.6h-.6zM152.79 249.08h.6v.6h-.6zM151.46 247.53h.6v.6h-.6zM148.57 268.83h.6v.6h-.6zM126.1 246.76h.6v.6h-.6zM127.1 274.2h.6v.6h-.6zM124.22 259.84h.6v.6h-.6zM144.73 271.24h.6v.6h-.6z" fill="#3c3c3c"/>
<path d="M154.05 249.08h0.55v0.55h-0.55zM148.66 249.67h0.55v0.55h-0.55zM157.24 257.74h0.55v0.55h-0.55zM148.82 264.59h0.55v0.55h-0.55zM155.97 261.53h0.55v0.55h-0.55zM157.1 262.59h0.55v0.55h-0.55zM149.12 256.56h0.55v0.55h-0.55zM151.82 265.71h0.55v0.55h-0.55zM156.14 256.16h0.55v0.55h-0.55zM153.36 245.78h0.55v0.55h-0.55zM154.41 252.05h0.55v0.55h-0.55zM158.12 259.83h0.55v0.55h-0.55zM153.88 254.24h0.55v0.55h-0.55zM157.37 253.56h0.55v0.55h-0.55zM157.35 257.19h0.55v0.55h-0.55zM153.26 258h0.55v0.55h-0.55zM159.27 248.3h0.55v0.55h-0.55zM156.32 259.82h0.55v0.55h-0.55zM153.34 263.39h0.55v0.55h-0.55zM156.08 258.87h0.55v0.55h-0.55zM151.13 259.02h0.55v0.55h-0.55zM150.29 258.67h0.55v0.55h-0.55zM160.46 251.75h0.55v0.55h-0.55zM158.71 250.84h0.55v0.55h-0.55zM154.3 259.71h0.55v0.55h-0.55zM149.83 257.8h0.55v0.55h-0.55zM151.82 253.13h0.55v0.55h-0.55zM156.59 255.78h0.55v0.55h-0.55zM155.3 256.27h0.55v0.55h-0.55zM155.23 263.84h0.55v0.55h-0.55zM154.47 254.77h0.55v0.55h-0.55zM154.18 259.71h0.55v0.55h-0.55zM155.46 245.6h0.55v0.55h-0.55zM153.88 258.32h0.55v0.55h-0.55zM161.83 253.24h0.55v0.55h-0.55zM153.29 250.47h0.55v0.55h-0.55zM153.9 247.46h0.55v0.55h-0.55zM151.62 255.77h0.55v0.55h-0.55zM149.63 254.84h0.55v0.55h-0.55zM152.07 262.38h0.55v0.55h-0.55zM158.82 266.59h0.55v0.55h-0.55zM154.52 259.48h0.55v0.55h-0.55zM161.12 252.98h0.55v0.55h-0.55zM159.13 251.66h0.55v0.55h-0.55zM157.23 248.45h0.55v0.55h-0.55zM152.92 255.2h0.55v0.55h-0.55zM153.35 246.56h0.55v0.55h-0.55zM154.47 254.73h0.55v0.55h-0.55zM158.5 259.04h0.55v0.55h-0.55zM147.67 256.8h0.55v0.55h-0.55zM157.26 255.68h0.55v0.55h-0.55zM152 249.4h0.55v0.55h-0.55zM153 251.51h0.55v0.55h-0.55zM153.28 254.56h0.55v0.55h-0.55zM157.89 251.29h0.55v0.55h-0.55zM155.08 250.73h0.55v0.55h-0.55zM154.91 261.26h0.55v0.55h-0.55zM152.4 250.29h0.55v0.55h-0.55zM154.2 256.27h0.55v0.55h-0.55zM152.2 258.24h0.55v0.55h-0.55zM154.31 259.5h0.55v0.55h-0.55zM150.01 259.89h0.55v0.55h-0.55zM157.85 252.1h0.55v0.55h-0.55zM159.98 257.3h0.55v0.55h-0.55zM150.23 250.87h0.55v0.55h-0.55zM151.88 252.94h0.55v0.55h-0.55zM153.39 257.63h0.55v0.55h-0.55zM153.49 254.57h0.55v0.55h-0.55zM151.23 246.02h0.55v0.55h-0.55zM151.98 250.06h0.55v0.55h-0.55z" fill="#666"/>
<path d="M125.4,249.5 C126,248.97 127.32,247.12 129,246.3 C130.68,245.48 133.33,244.93 135.5,244.6 C137.67,244.27 139.82,244.1 142,244.3 C144.18,244.5 147,244.97 148.6,245.8 C150.2,246.63 150.93,247.85 151.6,249.3 C152.27,250.75 152.53,252.8 152.6,254.5 C152.67,256.2 152.47,257.75 152,259.5 C151.53,261.25 150.77,263.5 149.8,265 C148.83,266.5 147.23,267.17 146.2,268.5 C145.17,269.83 144.4,271.58 143.6,273 C142.8,274.42 142.35,275.9 141.4,277 C140.45,278.1 139.47,279.3 137.9,279.6 C136.33,279.9 133.8,279.7 132,278.8 C130.2,277.9 128.33,276.12 127.1,274.2 C125.87,272.28 124.95,269.67 124.6,267.3 C124.25,264.93 124.83,262.13 125,260 C125.17,257.87 125.53,256.25 125.6,254.5 C125.67,252.75 125.43,250.33 125.4,249.5 Z" fill="#4a4a4a" stroke="#262626" stroke-width="1.1" filter="url(#b2)"/>
<ellipse cx="139.2" cy="252.6" rx="12.0" ry="5.6" fill="#cacaca" filter="url(#b1)"/>
<ellipse cx="141" cy="259.8" rx="10" ry="3.0" fill="#b0b0b0" filter="url(#b1)"/>
<ellipse cx="135.2" cy="271.4" rx="8.0" ry="6.2" fill="#c4c4c4" filter="url(#b1)"/>
<ellipse cx="146" cy="259.8" rx="5" ry="3.2" fill="#b5b5b5" filter="url(#b1)"/>
<ellipse cx="141.8" cy="250.6" rx="2.7" ry="1.3" fill="#222" filter="url(#b2)"/>
<ellipse cx="137.3" cy="269.6" rx="1.2" ry="0.9" fill="#666" filter="url(#b2)"/>
<path d="M129.5,265.4 Q137,263.2 144.8,264.0" stroke="#222" stroke-width="1.2" fill="none" filter="url(#b2)"/>
</g>
<rect x="133.3" y="256" width="22.2" height="7.6" fill="none" stroke="#000" stroke-width="1"/>
<text x="164.4" y="262.5" font-size="6" font-weight="bold" text-anchor="start" fill="#000" transform="matrix(1,0,0,1.13,0,-34.12)" textLength="13.4" lengthAdjust="spacingAndGlyphs" stroke="#000" stroke-width="0.15">CMP</text>
<line x1="178.4" y1="260.4" x2="197.5" y2="260.4" stroke="#000" stroke-width="1.3"/>
<polygon points="202.2,260.4 197,262.6 197,258.2" fill="#000" stroke="none" stroke-width="0.5"/>
<rect x="202.3" y="222.6" width="69.1" height="68.3" fill="none" stroke="#555" stroke-width="0.8"/>
<polyline points="203,267.5 204.5,263 206,259.5 207,256 208.2,253.8 209,251 210,249.5 211,246 212,245.5 213,243.5 214,244.5 215,241 216,240.5 217,238 218,238.5 219,235 220,234.5 221,232 222,233.5 223,230.5 224,231 224.8,229.2 225.5,231.5 226.5,232.5 227.5,235 228.5,236 229.5,238.5 230.5,238 231.5,241 232.5,243 233.5,246.5 234.5,248 235.5,251 236.5,252.5 237.5,255.5 238.5,258 239.5,261 240.5,264.5 241.7,268" fill="none" stroke="#aaa" stroke-width="0.9" stroke-linejoin="round"/>
<path d="M206.5,271 C206.72,269.5 207.38,265.17 207.8,262 C208.22,258.83 208.58,255.5 209,252 C209.42,248.5 209.92,243.92 210.3,241 C210.68,238.08 211,236.13 211.3,234.5 C211.6,232.87 211.82,231.37 212.1,231.2 C212.38,231.03 212.68,232.03 213,233.5 C213.32,234.97 213.62,237.08 214,240 C214.38,242.92 214.87,247.5 215.3,251 C215.73,254.5 216.18,257.67 216.6,261 C217.02,264.33 217.6,269.33 217.8,271" fill="none" stroke="#707070" stroke-width="0.9" stroke-linejoin="round"/>
<line x1="226.5" y1="222.6" x2="226.5" y2="290.9" stroke="#222" stroke-width="0.9" stroke-dasharray="1.8,1.3"/>
<line x1="202.3" y1="270.5" x2="256.6" y2="270.5" stroke="#111" stroke-width="1.1"/>
<line x1="256.6" y1="268.2" x2="256.6" y2="272.8" stroke="#111" stroke-width="1.1"/>
<polygon points="225.5,267.6 227.5,267.6 227.5,272.6 226.5,274.6 225.5,272.6" fill="#000" stroke="none" stroke-width="0.5"/>
<line x1="232.6" y1="229.3" x2="241.7" y2="229.3" stroke="#222" stroke-width="1.8"/>
<line x1="232.6" y1="237.3" x2="244" y2="237.3" stroke="#aaa" stroke-width="1"/>
<text x="247" y="230.9" font-size="6.5" text-anchor="start" fill="#000" transform="matrix(1,0,0,1.13,0,-30.02)" textLength="21" lengthAdjust="spacingAndGlyphs">Isotype</text>
<text x="253.1" y="239.2" font-size="6.7" text-anchor="start" fill="#000" transform="matrix(1,0,0,1.13,0,-31.1)" textLength="14.9" lengthAdjust="spacingAndGlyphs">CMP</text>
<text x="213.2" y="279" font-size="5" font-weight="bold" text-anchor="middle" fill="#000" transform="matrix(1,0,0,1.13,0,-36.27)" stroke="#000" stroke-width="0.12">Flt3-</text>
<text x="213.2" y="285.9" font-size="5" font-weight="bold" text-anchor="middle" fill="#000" transform="matrix(1,0,0,1.13,0,-37.17)" stroke="#000" stroke-width="0.12">57.4</text>
<text x="241.7" y="279" font-size="5" font-weight="bold" text-anchor="middle" fill="#000" transform="matrix(1,0,0,1.13,0,-36.27)" stroke="#000" stroke-width="0.12">Flt3+</text>
<text x="241.7" y="285.9" font-size="5" font-weight="bold" text-anchor="middle" fill="#000" transform="matrix(1,0,0,1.13,0,-37.17)" stroke="#000" stroke-width="0.12">40.8</text>
<text x="123.3" y="302.6" font-size="7.8" text-anchor="start" fill="#000" transform="matrix(1,0,0,1.13,0,-39.34)" textLength="19" lengthAdjust="spacingAndGlyphs" stroke="#000" stroke-width="0.15">CD34</text>
<line x1="143.1" y1="299.8" x2="185.4" y2="299.8" stroke="#000" stroke-width="1"/>
<polygon points="189.4,299.8 184.9,301.7 184.9,297.9" fill="#000" stroke="none" stroke-width="0.5"/>
<text x="204.8" y="302.5" font-size="7.4" text-anchor="start" fill="#000" transform="matrix(1,0,0,1.13,0,-39.32)" textLength="12.2" lengthAdjust="spacingAndGlyphs" stroke="#000" stroke-width="0.15">Flt3</text>
<line x1="221.4" y1="299.8" x2="265.6" y2="299.8" stroke="#000" stroke-width="1"/>
<polygon points="269.6,299.8 265.1,301.7 265.1,297.9" fill="#000" stroke="none" stroke-width="0.5"/>
<line x1="209.8" y1="279.4" x2="171.7" y2="302.9" stroke="#000" stroke-width="1"/>
<polygon points="168.3,305 171.13,301.02 173.13,304.25" fill="#000" stroke="none" stroke-width="0.5"/>
<line x1="248.9" y1="279.8" x2="255.4" y2="302.55" stroke="#000" stroke-width="1"/>
<polygon points="256.5,306.4 253.44,302.6 257.09,301.55" fill="#000" stroke="none" stroke-width="0.5"/>
<defs><clipPath id="cf2"><rect x="122.3" y="308" width="70.2" height="69.5"/></clipPath><clipPath id="cf3"><rect x="202.3" y="308" width="69.4" height="69.5"/></clipPath></defs>
<g clip-path="url(#cf2)">
<path d="M137.89 357.39h0.6v0.6h-0.6zM150.16 352.44h0.6v0.6h-0.6zM139.23 359.41h0.6v0.6h-0.6zM150.77 355.64h0.6v0.6h-0.6zM129.31 356.41h0.6v0.6h-0.6zM146.12 357.87h0.6v0.6h-0.6zM123.7 350.99h0.6v0.6h-0.6zM122.62 360.95h0.6v0.6h-0.6zM145.79 361.2h0.6v0.6h-0.6zM149.97 359.13h0.6v0.6h-0.6zM137.44 358.82h0.6v0.6h-0.6zM123.26 355.21h0.6v0.6h-0.6zM145.57 359.79h0.6v0.6h-0.6zM140.36 356.22h0.6v0.6h-0.6zM147.44 361.77h0.6v0.6h-0.6zM123.33 352.29h0.6v0.6h-0.6zM135.41 357.44h0.6v0.6h-0.6zM125.97 354.96h0.6v0.6h-0.6zM133.85 345.75h0.6v0.6h-0.6zM145.53 356.05h0.6v0.6h-0.6zM141.35 356.71h0.6v0.6h-0.6zM136.19 337.68h0.6v0.6h-0.6zM123.41 349.33h0.6v0.6h-0.6zM153.57 358.33h0.6v0.6h-0.6zM138.12 349.98h0.6v0.6h-0.6zM124.41 354.36h0.6v0.6h-0.6zM134.82 354.42h0.6v0.6h-0.6zM126.78 355.56h0.6v0.6h-0.6zM156.45 356.77h0.6v0.6h-0.6zM125.58 355.9h0.6v0.6h-0.6zM139.72 355.02h0.6v0.6h-0.6zM137.57 359.2h0.6v0.6h-0.6zM148.67 353.58h0.6v0.6h-0.6zM135.09 356.41h0.6v0.6h-0.6zM153.6 354.99h0.6v0.6h-0.6zM146.1 360.09h0.6v0.6h-0.6zM127.19 344.02h0.6v0.6h-0.6zM133.2 350.12h0.6v0.6h-0.6zM123.88 342.79h0.6v0.6h-0.6zM130.02 354.99h0.6v0.6h-0.6zM138.42 361.23h0.6v0.6h-0.6zM127.33 356.33h0.6v0.6h-0.6zM134.08 347.36h0.6v0.6h-0.6zM142.88 358.33h0.6v0.6h-0.6zM136.51 356.79h0.6v0.6h-0.6zM154.11 354.63h0.6v0.6h-0.6zM147.66 354.04h0.6v0.6h-0.6zM126.93 352.15h0.6v0.6h-0.6zM152.2 355.76h0.6v0.6h-0.6zM146.64 355.41h0.6v0.6h-0.6zM157.08 358.38h0.6v0.6h-0.6zM141.46 356.41h0.6v0.6h-0.6zM138.73 359.44h0.6v0.6h-0.6zM128.21 352.07h0.6v0.6h-0.6zM153 360.88h0.6v0.6h-0.6zM140.36 354.63h0.6v0.6h-0.6zM123.02 357.14h0.6v0.6h-0.6zM125.6 349.64h0.6v0.6h-0.6zM134.75 362.7h0.6v0.6h-0.6zM153.6 361.71h0.6v0.6h-0.6zM128.81 348.63h0.6v0.6h-0.6zM154.21 358h0.6v0.6h-0.6zM126.59 358.91h0.6v0.6h-0.6zM123.45 358.46h0.6v0.6h-0.6zM150.38 353.04h0.6v0.6h-0.6zM155.85 357.54h0.6v0.6h-0.6zM140.06 355.43h0.6v0.6h-0.6zM134.94 354.67h0.6v0.6h-0.6zM129.26 357.43h0.6v0.6h-0.6zM153.88 357.88h0.6v0.6h-0.6zM130.58 355.94h0.6v0.6h-0.6zM125.51 354.76h0.6v0.6h-0.6zM133.79 355.16h0.6v0.6h-0.6zM147.12 356.17h0.6v0.6h-0.6zM142.26 355.15h0.6v0.6h-0.6zM153.43 359.11h0.6v0.6h-0.6zM149.93 358.28h0.6v0.6h-0.6zM147.99 357.04h0.6v0.6h-0.6zM129.43 356.43h0.6v0.6h-0.6zM151.15 356.89h0.6v0.6h-0.6zM130.06 357.13h0.6v0.6h-0.6zM131.75 353.98h0.6v0.6h-0.6zM150.42 355.45h0.6v0.6h-0.6zM144.04 358.25h0.6v0.6h-0.6zM123.48 354.95h0.6v0.6h-0.6zM125.98 346.55h0.6v0.6h-0.6zM131.14 347.82h0.6v0.6h-0.6zM131.84 358.19h0.6v0.6h-0.6zM144.78 359h0.6v0.6h-0.6zM131.59 358.59h0.6v0.6h-0.6zM131.96 350.41h0.6v0.6h-0.6zM132.35 355.72h0.6v0.6h-0.6zM123.68 359.38h0.6v0.6h-0.6zM136.53 356.17h0.6v0.6h-0.6zM152.25 357.72h0.6v0.6h-0.6zM137.42 350.09h0.6v0.6h-0.6zM135.33 358.6h0.6v0.6h-0.6zM153.53 356.09h0.6v0.6h-0.6zM145.79 357.27h0.6v0.6h-0.6zM126.71 345.86h0.6v0.6h-0.6zM155.42 357.26h0.6v0.6h-0.6zM133.01 354.1h0.6v0.6h-0.6zM154.55 358.79h0.6v0.6h-0.6zM155.48 360.69h0.6v0.6h-0.6zM135.18 361.98h0.6v0.6h-0.6zM142.68 352.61h0.6v0.6h-0.6zM141.33 360.89h0.6v0.6h-0.6zM152.9 353.96h0.6v0.6h-0.6zM150.74 360h0.6v0.6h-0.6zM130.79 353.76h0.6v0.6h-0.6zM145.54 357.66h0.6v0.6h-0.6zM146.04 360.78h0.6v0.6h-0.6zM148.99 354.15h0.6v0.6h-0.6zM150.5 359.29h0.6v0.6h-0.6zM144.57 353.37h0.6v0.6h-0.6zM155.61 358.85h0.6v0.6h-0.6zM155.79 356.73h0.6v0.6h-0.6zM155.33 363.8h0.6v0.6h-0.6zM126.35 341.39h0.6v0.6h-0.6zM134.04 354.85h0.6v0.6h-0.6zM136.73 356.45h0.6v0.6h-0.6zM128.73 354.89h0.6v0.6h-0.6zM124.51 347.73h0.6v0.6h-0.6zM155.31 357.34h0.6v0.6h-0.6zM133.14 356.86h0.6v0.6h-0.6zM153.92 359.28h0.6v0.6h-0.6zM126.74 357.12h0.6v0.6h-0.6zM152.87 359.21h0.6v0.6h-0.6zM144.78 356.69h0.6v0.6h-0.6zM141.43 361.57h0.6v0.6h-0.6zM133.67 356.73h0.6v0.6h-0.6zM128.88 356.56h0.6v0.6h-0.6zM145.14 361.65h0.6v0.6h-0.6zM140.02 361.19h0.6v0.6h-0.6zM151.21 361.31h0.6v0.6h-0.6zM128.2 356.35h0.6v0.6h-0.6zM138.85 356.4h0.6v0.6h-0.6zM139.17 362.97h0.6v0.6h-0.6zM122.68 363.24h0.6v0.6h-0.6zM145.18 357.23h0.6v0.6h-0.6zM125.71 349.62h0.6v0.6h-0.6zM122.61 347.27h0.6v0.6h-0.6zM134.35 357.02h0.6v0.6h-0.6zM136.77 354.07h0.6v0.6h-0.6zM150.04 355.49h0.6v0.6h-0.6zM132.39 358.78h0.6v0.6h-0.6zM126.6 353.66h0.6v0.6h-0.6zM126.72 359.88h0.6v0.6h-0.6zM150.12 359.05h0.6v0.6h-0.6zM153.91 361.97h0.6v0.6h-0.6zM147.6 357.74h0.6v0.6h-0.6zM145.87 356.64h0.6v0.6h-0.6zM136.13 357.12h0.6v0.6h-0.6zM130.39 365.07h0.6v0.6h-0.6zM146.81 354.31h0.6v0.6h-0.6zM124.8 354.82h0.6v0.6h-0.6zM128.87 348.78h0.6v0.6h-0.6zM129.13 348.83h0.6v0.6h-0.6zM154.96 357.53h0.6v0.6h-0.6zM145.78 358.02h0.6v0.6h-0.6zM123.99 355.8h0.6v0.6h-0.6zM144.03 356.13h0.6v0.6h-0.6zM155.49 357.18h0.6v0.6h-0.6zM129.1 354.51h0.6v0.6h-0.6zM134.79 359.17h0.6v0.6h-0.6zM161.53 357.23h0.6v0.6h-0.6zM126.34 355.46h0.6v0.6h-0.6zM130.85 353.99h0.6v0.6h-0.6zM128.7 339.18h0.6v0.6h-0.6zM125.02 344.18h0.6v0.6h-0.6zM133.97 358.29h0.6v0.6h-0.6zM155.79 356.17h0.6v0.6h-0.6zM132.02 356.86h0.6v0.6h-0.6zM154.75 361.48h0.6v0.6h-0.6zM122.86 346.37h0.6v0.6h-0.6zM149.16 359.69h0.6v0.6h-0.6zM142.53 357.57h0.6v0.6h-0.6zM154.55 354.81h0.6v0.6h-0.6zM145.34 357.45h0.6v0.6h-0.6zM129.32 359.71h0.6v0.6h-0.6zM151.19 355.01h0.6v0.6h-0.6zM135.72 354.14h0.6v0.6h-0.6zM132.19 359.21h0.6v0.6h-0.6zM124.06 340.65h0.6v0.6h-0.6zM131.14 346.06h0.6v0.6h-0.6zM127.46 355.96h0.6v0.6h-0.6zM130.7 356.01h0.6v0.6h-0.6zM151.86 359.86h0.6v0.6h-0.6zM124.93 353.89h0.6v0.6h-0.6zM143.4 360.64h0.6v0.6h-0.6zM144.44 360.32h0.6v0.6h-0.6zM148.78 357.69h0.6v0.6h-0.6zM152.78 357.51h0.6v0.6h-0.6zM129.72 361.81h0.6v0.6h-0.6zM123.23 356.24h0.6v0.6h-0.6zM155.34 364.33h0.6v0.6h-0.6zM130.33 357.57h0.6v0.6h-0.6zM153.85 360.42h0.6v0.6h-0.6zM142.19 357.74h0.6v0.6h-0.6zM149.53 358.09h0.6v0.6h-0.6zM129.64 356.7h0.6v0.6h-0.6zM128.73 355.81h0.6v0.6h-0.6zM150.07 356.16h0.6v0.6h-0.6zM127.16 345.72h0.6v0.6h-0.6zM153.73 353.98h0.6v0.6h-0.6zM147.2 353.78h0.6v0.6h-0.6zM128 352.07h0.6v0.6h-0.6zM137 355.13h0.6v0.6h-0.6zM150.33 355.85h0.6v0.6h-0.6zM138.5 358.08h0.6v0.6h-0.6zM153.08 355h0.6v0.6h-0.6zM125.75 356.05h0.6v0.6h-0.6zM135.98 352.91h0.6v0.6h-0.6zM124.08 346.33h0.6v0.6h-0.6zM138.05 356.2h0.6v0.6h-0.6zM124.97 346.38h0.6v0.6h-0.6zM153.26 357.98h0.6v0.6h-0.6zM131.47 360.86h0.6v0.6h-0.6zM137.85 359.66h0.6v0.6h-0.6zM123.94 352.12h0.6v0.6h-0.6zM124.43 347.23h0.6v0.6h-0.6zM132.48 361.81h0.6v0.6h-0.6zM127.77 357.57h0.6v0.6h-0.6zM150.36 356.62h0.6v0.6h-0.6zM152.09 360.32h0.6v0.6h-0.6zM151.59 359.86h0.6v0.6h-0.6zM143.84 354.28h0.6v0.6h-0.6zM127.78 351.68h0.6v0.6h-0.6zM134.59 359.69h0.6v0.6h-0.6zM147.47 357.04h0.6v0.6h-0.6zM122.85 355.84h0.6v0.6h-0.6zM123.42 348.09h0.6v0.6h-0.6zM140.45 357.06h0.6v0.6h-0.6zM125.62 356.15h0.6v0.6h-0.6zM154.98 354.22h0.6v0.6h-0.6zM146.39 356.64h0.6v0.6h-0.6zM153.36 353.73h0.6v0.6h-0.6zM135.87 360.74h0.6v0.6h-0.6zM137.68 354.45h0.6v0.6h-0.6zM143.57 355.9h0.6v0.6h-0.6zM124.06 350.06h0.6v0.6h-0.6zM156.77 353.13h0.6v0.6h-0.6zM127 360.62h0.6v0.6h-0.6zM142.65 359.89h0.6v0.6h-0.6zM149.36 359.73h0.6v0.6h-0.6zM123.31 353.36h0.6v0.6h-0.6zM128.89 349.72h0.6v0.6h-0.6zM134.9 342.8h0.6v0.6h-0.6zM151.09 354.64h0.6v0.6h-0.6zM140.04 356.46h0.6v0.6h-0.6zM133.47 359.49h0.6v0.6h-0.6zM132.15 354.15h0.6v0.6h-0.6zM140.97 355.96h0.6v0.6h-0.6zM137.32 357h0.6v0.6h-0.6zM133.85 349.11h0.6v0.6h-0.6zM126.55 361.41h0.6v0.6h-0.6zM152.49 359.35h0.6v0.6h-0.6zM138.68 352.84h0.6v0.6h-0.6zM153.59 351.33h0.6v0.6h-0.6zM124.48 345.43h0.6v0.6h-0.6zM128.84 351.3h0.6v0.6h-0.6zM137.77 356.67h0.6v0.6h-0.6zM142.85 358.28h0.6v0.6h-0.6zM134.84 363.66h0.6v0.6h-0.6zM124.97 357.08h0.6v0.6h-0.6zM157.45 358.01h0.6v0.6h-0.6zM141.16 357.09h0.6v0.6h-0.6zM133.29 344.19h0.6v0.6h-0.6zM143.61 355.99h0.6v0.6h-0.6zM122.67 347.3h0.6v0.6h-0.6zM143.58 357.63h0.6v0.6h-0.6zM147.12 356.97h0.6v0.6h-0.6zM123.09 352.04h0.6v0.6h-0.6zM138.4 357.55h0.6v0.6h-0.6zM140.32 353.45h0.6v0.6h-0.6zM153.37 361.68h0.6v0.6h-0.6zM157.43 351.23h0.6v0.6h-0.6zM124.21 344.87h0.6v0.6h-0.6zM142.6 368.18h0.6v0.6h-0.6zM140.74 350.04h0.6v0.6h-0.6zM145.11 360.21h0.6v0.6h-0.6zM135.04 357.67h0.6v0.6h-0.6zM141.15 355.44h0.6v0.6h-0.6zM124.59 358.47h0.6v0.6h-0.6zM124.63 360.69h0.6v0.6h-0.6zM155.21 359.45h0.6v0.6h-0.6zM142.88 371.88h0.6v0.6h-0.6zM128.46 356.46h0.6v0.6h-0.6zM147.54 356.15h0.6v0.6h-0.6zM127.78 359.14h0.6v0.6h-0.6zM153.15 359.95h0.6v0.6h-0.6zM132.26 358.99h0.6v0.6h-0.6zM155.74 353.44h0.6v0.6h-0.6zM156.52 360.87h0.6v0.6h-0.6zM144.2 354.5h0.6v0.6h-0.6zM152.77 356.11h0.6v0.6h-0.6zM131.61 356.4h0.6v0.6h-0.6zM124.68 347.55h0.6v0.6h-0.6zM125.14 361.44h0.6v0.6h-0.6zM134.94 358.66h0.6v0.6h-0.6zM151.29 353.27h0.6v0.6h-0.6zM133.15 355.67h0.6v0.6h-0.6zM127.3 348.15h0.6v0.6h-0.6zM150.68 356.14h0.6v0.6h-0.6zM140.83 353.38h0.6v0.6h-0.6zM137.05 348.37h0.6v0.6h-0.6zM135.61 343.13h0.6v0.6h-0.6zM140.14 358.6h0.6v0.6h-0.6zM157.1 358.83h0.6v0.6h-0.6zM138.86 357.54h0.6v0.6h-0.6zM151.69 356.07h0.6v0.6h-0.6zM127.55 359.66h0.6v0.6h-0.6zM133.13 343.59h0.6v0.6h-0.6zM134.9 357.52h0.6v0.6h-0.6zM153.82 357.84h0.6v0.6h-0.6zM140.14 356.32h0.6v0.6h-0.6zM133.49 346.75h0.6v0.6h-0.6zM158.35 355.94h0.6v0.6h-0.6zM151.1 355.77h0.6v0.6h-0.6zM153.48 356.73h0.6v0.6h-0.6zM137.38 355.26h0.6v0.6h-0.6zM139.4 361.72h0.6v0.6h-0.6zM141.85 358.79h0.6v0.6h-0.6zM143.76 356.31h0.6v0.6h-0.6zM125.2 358.83h0.6v0.6h-0.6zM146.25 356.71h0.6v0.6h-0.6zM151.29 354h0.6v0.6h-0.6zM136.24 355.42h0.6v0.6h-0.6zM153.89 359.5h0.6v0.6h-0.6zM148.22 359.59h0.6v0.6h-0.6zM126.21 345.45h0.6v0.6h-0.6zM151.3 355.83h0.6v0.6h-0.6zM122.85 343.16h0.6v0.6h-0.6zM130.92 356.26h0.6v0.6h-0.6zM151.85 357.29h0.6v0.6h-0.6zM129.63 361.46h0.6v0.6h-0.6zM128.82 342.74h0.6v0.6h-0.6zM139.1 357.31h0.6v0.6h-0.6zM126.32 354.74h0.6v0.6h-0.6zM141.16 359.99h0.6v0.6h-0.6zM154.05 355.19h0.6v0.6h-0.6zM136.66 371.82h0.6v0.6h-0.6zM127.76 355.34h0.6v0.6h-0.6zM154.93 359.66h0.6v0.6h-0.6zM146.89 354.05h0.6v0.6h-0.6zM126.05 361.53h0.6v0.6h-0.6zM133.46 341.21h0.6v0.6h-0.6zM124.31 348.29h0.6v0.6h-0.6zM154.16 360.98h0.6v0.6h-0.6zM151.3 358.38h0.6v0.6h-0.6zM128.34 349.67h0.6v0.6h-0.6zM140.65 359.79h0.6v0.6h-0.6zM129.57 347.8h0.6v0.6h-0.6zM152.96 356.33h0.6v0.6h-0.6zM125.68 356.37h0.6v0.6h-0.6zM155.81 357.08h0.6v0.6h-0.6zM126.7 356.17h0.6v0.6h-0.6zM133.03 353.45h0.6v0.6h-0.6zM152.65 357.17h0.6v0.6h-0.6zM122.67 360.09h0.6v0.6h-0.6zM123.66 359.29h0.6v0.6h-0.6zM127.58 347.72h0.6v0.6h-0.6zM126.41 355.65h0.6v0.6h-0.6zM126.31 360.67h0.6v0.6h-0.6zM150.23 356.56h0.6v0.6h-0.6zM143.09 356.61h0.6v0.6h-0.6zM149.98 356.25h0.6v0.6h-0.6zM141.9 353.75h0.6v0.6h-0.6zM136.98 355.84h0.6v0.6h-0.6zM127.84 353.14h0.6v0.6h-0.6zM123.45 357.9h0.6v0.6h-0.6zM144.1 358.5h0.6v0.6h-0.6zM142.57 356.68h0.6v0.6h-0.6zM126.98 355.77h0.6v0.6h-0.6zM138.62 362.77h0.6v0.6h-0.6zM125.93 357.83h0.6v0.6h-0.6zM151.6 357.88h0.6v0.6h-0.6zM148.11 358.93h0.6v0.6h-0.6zM126.68 358.28h0.6v0.6h-0.6zM150.29 360.99h0.6v0.6h-0.6zM150.56 358.03h0.6v0.6h-0.6zM151.84 358.06h0.6v0.6h-0.6zM146.9 356.11h0.6v0.6h-0.6zM152.56 355.5h0.6v0.6h-0.6zM130.23 343.35h0.6v0.6h-0.6zM149.08 357.03h0.6v0.6h-0.6zM160.38 359.25h0.6v0.6h-0.6zM133.79 358.25h0.6v0.6h-0.6zM155.93 353.9h0.6v0.6h-0.6zM129.91 349.89h0.6v0.6h-0.6zM135.53 361.91h0.6v0.6h-0.6zM139.16 359.49h0.6v0.6h-0.6zM141.79 352.07h0.6v0.6h-0.6zM137.8 356.48h0.6v0.6h-0.6zM150.49 354.54h0.6v0.6h-0.6zM154.37 354.02h0.6v0.6h-0.6zM127 340.26h0.6v0.6h-0.6zM135.6 357.28h0.6v0.6h-0.6zM142.84 354.24h0.6v0.6h-0.6zM131.19 351.35h0.6v0.6h-0.6zM124.22 361.55h0.6v0.6h-0.6zM133.74 359.03h0.6v0.6h-0.6zM123.86 356.58h0.6v0.6h-0.6zM128.11 356.43h0.6v0.6h-0.6zM135.54 357.11h0.6v0.6h-0.6zM124.91 357.53h0.6v0.6h-0.6zM135.31 349.96h0.6v0.6h-0.6zM125.91 359.21h0.6v0.6h-0.6zM141.56 365.04h0.6v0.6h-0.6zM148.01 353.91h0.6v0.6h-0.6zM141.11 361.63h0.6v0.6h-0.6zM127.01 355.66h0.6v0.6h-0.6zM150.33 360.92h0.6v0.6h-0.6zM159.41 357.97h0.6v0.6h-0.6zM133.61 348.85h0.6v0.6h-0.6zM129.51 356.09h0.6v0.6h-0.6zM150.62 357.52h0.6v0.6h-0.6zM125.71 348.91h0.6v0.6h-0.6zM138.62 357.83h0.6v0.6h-0.6zM135.93 363.8h0.6v0.6h-0.6zM126.5 357.68h0.6v0.6h-0.6zM131.6 358.17h0.6v0.6h-0.6zM152.35 353.73h0.6v0.6h-0.6zM127.88 351.89h0.6v0.6h-0.6zM127.11 353.44h0.6v0.6h-0.6zM155.36 357.98h0.6v0.6h-0.6z" fill="#555" fill-opacity="0.8"/>
<path d="M145.18 362.47h0.6v0.6h-0.6zM154.97 357.02h0.6v0.6h-0.6zM137.2 351.1h0.6v0.6h-0.6zM145.99 356.99h0.6v0.6h-0.6zM152.63 357.9h0.6v0.6h-0.6zM134.37 355.7h0.6v0.6h-0.6zM138.65 358.72h0.6v0.6h-0.6zM151.95 357.36h0.6v0.6h-0.6zM133.14 355.81h0.6v0.6h-0.6zM149.5 363.73h0.6v0.6h-0.6zM140.16 355.91h0.6v0.6h-0.6zM154.82 350.64h0.6v0.6h-0.6zM148.68 361.16h0.6v0.6h-0.6zM133.26 361.19h0.6v0.6h-0.6zM138.32 356.54h0.6v0.6h-0.6zM152.46 359.37h0.6v0.6h-0.6zM141.74 355.76h0.6v0.6h-0.6zM133.96 340.85h0.6v0.6h-0.6zM151.07 360.91h0.6v0.6h-0.6zM142.45 359.04h0.6v0.6h-0.6zM133.16 357.81h0.6v0.6h-0.6zM124.14 345.91h0.6v0.6h-0.6zM134.57 359.89h0.6v0.6h-0.6zM154.46 360.58h0.6v0.6h-0.6zM144.85 356.24h0.6v0.6h-0.6zM144.54 359.29h0.6v0.6h-0.6zM125.37 351.42h0.6v0.6h-0.6zM142.59 355.45h0.6v0.6h-0.6zM123.84 358.31h0.6v0.6h-0.6zM155.77 352.8h0.6v0.6h-0.6zM150.94 361.66h0.6v0.6h-0.6zM140.54 368.49h0.6v0.6h-0.6zM140.12 355.11h0.6v0.6h-0.6zM126.72 355.78h0.6v0.6h-0.6zM138.77 354.19h0.6v0.6h-0.6zM135.29 366.13h0.6v0.6h-0.6zM142.18 339.05h0.6v0.6h-0.6zM151.29 354.45h0.6v0.6h-0.6zM139.44 355.42h0.6v0.6h-0.6zM141.61 356.45h0.6v0.6h-0.6zM124.11 344.36h0.6v0.6h-0.6zM128.23 356.57h0.6v0.6h-0.6zM146.18 356.57h0.6v0.6h-0.6zM137.44 362.29h0.6v0.6h-0.6zM149.89 354.53h0.6v0.6h-0.6zM147.65 355.03h0.6v0.6h-0.6zM134.21 355.82h0.6v0.6h-0.6zM131.19 358.55h0.6v0.6h-0.6zM140.76 356.82h0.6v0.6h-0.6zM128.59 352.27h0.6v0.6h-0.6zM135.06 356.12h0.6v0.6h-0.6zM156.14 354.34h0.6v0.6h-0.6zM123.59 353.58h0.6v0.6h-0.6zM154.94 353.28h0.6v0.6h-0.6zM150.97 359.15h0.6v0.6h-0.6zM155.78 355.07h0.6v0.6h-0.6zM132.94 358.15h0.6v0.6h-0.6zM150.64 356.37h0.6v0.6h-0.6zM132.02 355.14h0.6v0.6h-0.6zM132.09 348.34h0.6v0.6h-0.6zM133.79 354.16h0.6v0.6h-0.6zM130.3 360.28h0.6v0.6h-0.6zM134.37 340.81h0.6v0.6h-0.6zM153.4 353.69h0.6v0.6h-0.6zM149.11 355.37h0.6v0.6h-0.6zM159.41 361.61h0.6v0.6h-0.6zM153.08 355.8h0.6v0.6h-0.6zM141.15 356.06h0.6v0.6h-0.6zM150.87 358.16h0.6v0.6h-0.6zM155.48 358.94h0.6v0.6h-0.6zM136.03 359.32h0.6v0.6h-0.6zM149.02 358.76h0.6v0.6h-0.6zM145.87 360.8h0.6v0.6h-0.6zM137.11 362.82h0.6v0.6h-0.6zM129.69 346.14h0.6v0.6h-0.6zM144.61 359.23h0.6v0.6h-0.6zM155.71 355.22h0.6v0.6h-0.6zM122.97 352.21h0.6v0.6h-0.6zM150.22 355.63h0.6v0.6h-0.6zM128.83 357.34h0.6v0.6h-0.6zM139.8 350.54h0.6v0.6h-0.6zM142.57 360.03h0.6v0.6h-0.6zM142 356.82h0.6v0.6h-0.6zM127.71 347.66h0.6v0.6h-0.6zM134.13 357.13h0.6v0.6h-0.6zM138.62 355.6h0.6v0.6h-0.6zM128.35 354.46h0.6v0.6h-0.6zM128.25 348.9h0.6v0.6h-0.6zM125.28 350.37h0.6v0.6h-0.6zM124.01 355.11h0.6v0.6h-0.6zM135.81 357.52h0.6v0.6h-0.6zM147.84 354.66h0.6v0.6h-0.6zM140.97 361.79h0.6v0.6h-0.6zM153.42 356.25h0.6v0.6h-0.6zM133.65 356.55h0.6v0.6h-0.6zM145.64 354.96h0.6v0.6h-0.6zM131.19 361.71h0.6v0.6h-0.6zM133 358.36h0.6v0.6h-0.6zM155.84 356.05h0.6v0.6h-0.6zM155.66 360h0.6v0.6h-0.6zM143.23 355.35h0.6v0.6h-0.6zM152.56 357.87h0.6v0.6h-0.6zM155.01 356.33h0.6v0.6h-0.6zM150.77 359.45h0.6v0.6h-0.6zM153.11 355.39h0.6v0.6h-0.6zM146.58 357.41h0.6v0.6h-0.6zM142.79 355.1h0.6v0.6h-0.6zM152.37 351.57h0.6v0.6h-0.6zM123.35 357.15h0.6v0.6h-0.6zM154.71 353.71h0.6v0.6h-0.6zM140.73 358.08h0.6v0.6h-0.6zM133.89 356.69h0.6v0.6h-0.6zM156.71 352.68h0.6v0.6h-0.6zM154.56 360.01h0.6v0.6h-0.6zM152.77 356.19h0.6v0.6h-0.6zM144.62 343.39h0.6v0.6h-0.6zM127.74 343.87h0.6v0.6h-0.6zM136.38 353.68h0.6v0.6h-0.6zM143.5 350.94h0.6v0.6h-0.6zM141.03 352.07h0.6v0.6h-0.6zM132.4 367.02h0.6v0.6h-0.6zM130.86 359.94h0.6v0.6h-0.6zM157.57 354.81h0.6v0.6h-0.6zM137.08 353.92h0.6v0.6h-0.6zM127.19 355.25h0.6v0.6h-0.6zM128.94 354.79h0.6v0.6h-0.6zM123.54 353.29h0.6v0.6h-0.6zM145.27 356.72h0.6v0.6h-0.6zM154.76 357.92h0.6v0.6h-0.6zM125.57 348.68h0.6v0.6h-0.6zM143.24 357.53h0.6v0.6h-0.6zM137.54 360.62h0.6v0.6h-0.6zM143.07 353.98h0.6v0.6h-0.6zM157.59 357.11h0.6v0.6h-0.6zM155.31 356.83h0.6v0.6h-0.6zM135.5 355.06h0.6v0.6h-0.6zM155.06 355.71h0.6v0.6h-0.6zM146.04 355.67h0.6v0.6h-0.6zM126.25 354.24h0.6v0.6h-0.6zM135.14 357.1h0.6v0.6h-0.6zM150.64 360.29h0.6v0.6h-0.6zM136.3 346.99h0.6v0.6h-0.6zM132.81 346.79h0.6v0.6h-0.6zM138.44 357.43h0.6v0.6h-0.6zM145.56 356.2h0.6v0.6h-0.6zM136.97 354.74h0.6v0.6h-0.6zM130.07 352.68h0.6v0.6h-0.6zM135.39 358.82h0.6v0.6h-0.6zM145.07 354.82h0.6v0.6h-0.6zM144.34 353.41h0.6v0.6h-0.6zM141.68 355.52h0.6v0.6h-0.6zM146.12 355.97h0.6v0.6h-0.6zM128.85 350.06h0.6v0.6h-0.6zM126.32 358.13h0.6v0.6h-0.6zM147.35 359.19h0.6v0.6h-0.6zM124.22 358.63h0.6v0.6h-0.6zM126.92 360.15h0.6v0.6h-0.6zM143.76 354.99h0.6v0.6h-0.6zM150.08 356.84h0.6v0.6h-0.6zM141.16 351.63h0.6v0.6h-0.6zM154.51 358.62h0.6v0.6h-0.6zM155.85 363.53h0.6v0.6h-0.6zM145.34 356.09h0.6v0.6h-0.6zM151.73 360.95h0.6v0.6h-0.6zM122.84 355.49h0.6v0.6h-0.6zM148.14 355.63h0.6v0.6h-0.6zM140.76 347.25h0.6v0.6h-0.6zM133.26 359.19h0.6v0.6h-0.6zM154.81 353.31h0.6v0.6h-0.6zM152.21 354.28h0.6v0.6h-0.6zM135.67 356.97h0.6v0.6h-0.6zM130.23 350.17h0.6v0.6h-0.6zM125.1 342.2h0.6v0.6h-0.6zM151.82 354.74h0.6v0.6h-0.6zM144.61 358.92h0.6v0.6h-0.6zM130.83 350.39h0.6v0.6h-0.6zM140.59 355.18h0.6v0.6h-0.6zM149.86 361.97h0.6v0.6h-0.6zM146.62 358.65h0.6v0.6h-0.6zM159.09 355.95h0.6v0.6h-0.6zM154.46 359.88h0.6v0.6h-0.6zM152.36 353.29h0.6v0.6h-0.6zM142.99 355.55h0.6v0.6h-0.6zM133.03 359.33h0.6v0.6h-0.6zM126.22 357.46h0.6v0.6h-0.6zM142.63 354.63h0.6v0.6h-0.6zM128.57 355.81h0.6v0.6h-0.6zM145.05 356.71h0.6v0.6h-0.6zM153.94 357.46h0.6v0.6h-0.6zM124.9 358.35h0.6v0.6h-0.6zM143.64 363.12h0.6v0.6h-0.6zM139.06 352.17h0.6v0.6h-0.6zM123.99 356.56h0.6v0.6h-0.6zM128.41 361.17h0.6v0.6h-0.6zM128.59 346.26h0.6v0.6h-0.6zM142.06 355.88h0.6v0.6h-0.6zM132.3 357.19h0.6v0.6h-0.6zM150.2 357.5h0.6v0.6h-0.6zM155.92 359.99h0.6v0.6h-0.6zM155.51 358.87h0.6v0.6h-0.6zM123.41 355.5h0.6v0.6h-0.6zM154.61 354.11h0.6v0.6h-0.6zM129.94 360.72h0.6v0.6h-0.6zM157.6 359.08h0.6v0.6h-0.6zM128.17 356.77h0.6v0.6h-0.6zM134.96 363.75h0.6v0.6h-0.6zM137.04 358.65h0.6v0.6h-0.6zM131.41 356.06h0.6v0.6h-0.6zM151.25 358.6h0.6v0.6h-0.6zM160.67 358.2h0.6v0.6h-0.6zM151.83 358.14h0.6v0.6h-0.6zM143.12 353.99h0.6v0.6h-0.6zM124.82 344.35h0.6v0.6h-0.6zM123.01 353.99h0.6v0.6h-0.6zM154.75 357.93h0.6v0.6h-0.6zM123.42 369.48h0.6v0.6h-0.6zM140.43 360.71h0.6v0.6h-0.6zM154.11 356.64h0.6v0.6h-0.6zM152.8 361.45h0.6v0.6h-0.6zM154.02 355.74h0.6v0.6h-0.6zM124.99 358.48h0.6v0.6h-0.6zM139.89 356.88h0.6v0.6h-0.6zM154.47 359.63h0.6v0.6h-0.6zM159.11 357.38h0.6v0.6h-0.6zM122.93 351.96h0.6v0.6h-0.6zM158.73 353.99h0.6v0.6h-0.6zM123.89 349.16h0.6v0.6h-0.6zM133.25 347.92h0.6v0.6h-0.6zM128.69 344.86h0.6v0.6h-0.6zM133.89 359.83h0.6v0.6h-0.6zM139.32 352.24h0.6v0.6h-0.6zM126.31 358.8h0.6v0.6h-0.6zM127.29 349.6h0.6v0.6h-0.6zM122.89 357.61h0.6v0.6h-0.6zM145.86 358.4h0.6v0.6h-0.6zM144.21 357.82h0.6v0.6h-0.6zM151.92 356.6h0.6v0.6h-0.6zM148.87 356.71h0.6v0.6h-0.6zM153.49 351.64h0.6v0.6h-0.6zM143.07 354.26h0.6v0.6h-0.6zM140.86 358.64h0.6v0.6h-0.6zM154 360.49h0.6v0.6h-0.6zM142.28 355.32h0.6v0.6h-0.6zM147.95 360.63h0.6v0.6h-0.6zM139.29 357.88h0.6v0.6h-0.6zM126.07 358.9h0.6v0.6h-0.6zM146.5 357.1h0.6v0.6h-0.6zM135.12 356.99h0.6v0.6h-0.6zM150.51 356.13h0.6v0.6h-0.6zM131.78 361.11h0.6v0.6h-0.6zM133.85 352.02h0.6v0.6h-0.6zM146.77 355.97h0.6v0.6h-0.6zM126.21 345.67h0.6v0.6h-0.6zM129.42 352.48h0.6v0.6h-0.6zM148.42 358.21h0.6v0.6h-0.6zM141.27 359.6h0.6v0.6h-0.6zM126.27 344.94h0.6v0.6h-0.6zM150.93 358.65h0.6v0.6h-0.6zM139.7 367.91h0.6v0.6h-0.6zM136.31 360.15h0.6v0.6h-0.6zM137.22 355.57h0.6v0.6h-0.6zM131.16 355.16h0.6v0.6h-0.6zM124.1 353.38h0.6v0.6h-0.6zM141.25 361.19h0.6v0.6h-0.6zM125.98 359.47h0.6v0.6h-0.6zM128.47 349.67h0.6v0.6h-0.6zM147.15 360.31h0.6v0.6h-0.6zM129.66 341.87h0.6v0.6h-0.6zM123.83 344.44h0.6v0.6h-0.6zM152.43 355.66h0.6v0.6h-0.6zM128.6 358.85h0.6v0.6h-0.6zM134.49 360.58h0.6v0.6h-0.6zM129.17 348.75h0.6v0.6h-0.6zM147.05 359.69h0.6v0.6h-0.6zM153.27 359.22h0.6v0.6h-0.6zM126.46 357.03h0.6v0.6h-0.6zM128.47 351.87h0.6v0.6h-0.6zM154.79 357.3h0.6v0.6h-0.6zM127.72 358.86h0.6v0.6h-0.6zM126.95 357.21h0.6v0.6h-0.6zM135.69 342.22h0.6v0.6h-0.6zM141.17 356.47h0.6v0.6h-0.6zM134.55 356.49h0.6v0.6h-0.6zM129.74 346.56h0.6v0.6h-0.6zM162.08 356.21h0.6v0.6h-0.6zM152.98 353.79h0.6v0.6h-0.6zM131.65 357.99h0.6v0.6h-0.6zM143.45 358.1h0.6v0.6h-0.6zM155.61 359.25h0.6v0.6h-0.6zM138.34 353.62h0.6v0.6h-0.6zM126.32 358.23h0.6v0.6h-0.6zM141.02 355.29h0.6v0.6h-0.6zM135.58 352.28h0.6v0.6h-0.6zM133.35 358.14h0.6v0.6h-0.6zM126.94 346.16h0.6v0.6h-0.6zM137.22 356.69h0.6v0.6h-0.6zM145.14 353.13h0.6v0.6h-0.6zM152.27 352.03h0.6v0.6h-0.6zM148.11 355.27h0.6v0.6h-0.6zM125.66 356.39h0.6v0.6h-0.6zM134.23 365.43h0.6v0.6h-0.6zM151.45 351.16h0.6v0.6h-0.6zM148.92 357.09h0.6v0.6h-0.6zM150.4 356.13h0.6v0.6h-0.6zM151.91 355.78h0.6v0.6h-0.6zM124.32 358.58h0.6v0.6h-0.6zM144.75 359.1h0.6v0.6h-0.6zM144.48 340.76h0.6v0.6h-0.6zM131.56 357.32h0.6v0.6h-0.6zM148.4 345.65h0.6v0.6h-0.6zM129.89 361.07h0.6v0.6h-0.6zM130.07 360.38h0.6v0.6h-0.6zM128.29 339.8h0.6v0.6h-0.6zM153.51 357.95h0.6v0.6h-0.6zM151.05 357.53h0.6v0.6h-0.6zM123.43 359.54h0.6v0.6h-0.6zM123.16 347.24h0.6v0.6h-0.6zM123.53 346.63h0.6v0.6h-0.6zM131.02 356.52h0.6v0.6h-0.6zM139.5 359.16h0.6v0.6h-0.6zM153.59 356.6h0.6v0.6h-0.6zM136.09 359.41h0.6v0.6h-0.6zM149.11 361.15h0.6v0.6h-0.6zM142.72 358.16h0.6v0.6h-0.6zM123.16 359.26h0.6v0.6h-0.6zM125.47 351.73h0.6v0.6h-0.6zM136.56 359.57h0.6v0.6h-0.6zM144.91 359.64h0.6v0.6h-0.6zM150.53 357.56h0.6v0.6h-0.6zM146.53 353.54h0.6v0.6h-0.6zM123.93 338.58h0.6v0.6h-0.6zM144.1 358.65h0.6v0.6h-0.6zM125.57 348.08h0.6v0.6h-0.6zM123.33 341.79h0.6v0.6h-0.6zM127.46 345.34h0.6v0.6h-0.6zM133.23 356.69h0.6v0.6h-0.6zM124.16 347.68h0.6v0.6h-0.6zM148.24 356.97h0.6v0.6h-0.6zM124.24 355.34h0.6v0.6h-0.6zM132.28 359.21h0.6v0.6h-0.6zM148.35 338.96h0.6v0.6h-0.6zM141.32 356.37h0.6v0.6h-0.6zM130.14 355.62h0.6v0.6h-0.6zM130.13 359.75h0.6v0.6h-0.6zM154.66 359.21h0.6v0.6h-0.6zM145.65 359.77h0.6v0.6h-0.6zM147.61 342.27h0.6v0.6h-0.6zM128.51 346.89h0.6v0.6h-0.6zM138.25 357.98h0.6v0.6h-0.6zM124.23 353.47h0.6v0.6h-0.6zM128.69 358.59h0.6v0.6h-0.6zM142.01 354.52h0.6v0.6h-0.6zM147.84 356.03h0.6v0.6h-0.6zM136.52 351.2h0.6v0.6h-0.6zM150.72 351.51h0.6v0.6h-0.6zM143.43 351.31h0.6v0.6h-0.6zM145.92 359.23h0.6v0.6h-0.6zM151.7 360.23h0.6v0.6h-0.6zM132.3 353.38h0.6v0.6h-0.6zM148.33 358.56h0.6v0.6h-0.6zM128.24 344.25h0.6v0.6h-0.6zM123.99 346.28h0.6v0.6h-0.6zM147.88 354.33h0.6v0.6h-0.6zM137.19 355.38h0.6v0.6h-0.6zM155.83 356.52h0.6v0.6h-0.6zM156.59 354.2h0.6v0.6h-0.6zM146.75 353.47h0.6v0.6h-0.6zM128.96 352.86h0.6v0.6h-0.6zM127.9 343.67h0.6v0.6h-0.6zM138.78 355.9h0.6v0.6h-0.6zM134.53 353.59h0.6v0.6h-0.6zM147.2 357.28h0.6v0.6h-0.6zM146.42 356.08h0.6v0.6h-0.6zM143.71 362.24h0.6v0.6h-0.6zM131.71 356.49h0.6v0.6h-0.6zM157.37 358.08h0.6v0.6h-0.6zM140.32 358.29h0.6v0.6h-0.6zM151.26 356.76h0.6v0.6h-0.6zM148.39 353.87h0.6v0.6h-0.6zM123.95 351.4h0.6v0.6h-0.6zM145.44 356.05h0.6v0.6h-0.6zM143.26 360.79h0.6v0.6h-0.6zM125.66 350.94h0.6v0.6h-0.6zM129.67 352.74h0.6v0.6h-0.6zM141.77 360.74h0.6v0.6h-0.6zM153.49 358.75h0.6v0.6h-0.6zM146.97 365.33h0.6v0.6h-0.6zM134.73 354.95h0.6v0.6h-0.6zM144.63 360.48h0.6v0.6h-0.6zM149.85 356.66h0.6v0.6h-0.6zM137.93 361.19h0.6v0.6h-0.6zM146.66 363.67h0.6v0.6h-0.6zM150.01 356.03h0.6v0.6h-0.6zM132.07 356.03h0.6v0.6h-0.6zM150.15 353.92h0.6v0.6h-0.6zM147.4 358.25h0.6v0.6h-0.6zM142.78 354.21h0.6v0.6h-0.6zM123.84 358.99h0.6v0.6h-0.6zM129.21 356.99h0.6v0.6h-0.6zM146.57 355.2h0.6v0.6h-0.6zM144.79 358.89h0.6v0.6h-0.6zM153.61 356.26h0.6v0.6h-0.6zM147.92 352.54h0.6v0.6h-0.6zM131.51 344.15h0.6v0.6h-0.6zM150.55 359.46h0.6v0.6h-0.6zM152.57 355.1h0.6v0.6h-0.6zM150.55 358.02h0.6v0.6h-0.6zM149.16 360.04h0.6v0.6h-0.6zM128.52 373.7h0.6v0.6h-0.6zM138.93 355.92h0.6v0.6h-0.6zM144.61 358.38h0.6v0.6h-0.6zM151.75 356.21h0.6v0.6h-0.6zM151.2 357.9h0.6v0.6h-0.6zM142.54 356.03h0.6v0.6h-0.6zM140.56 359.17h0.6v0.6h-0.6zM140.94 357.87h0.6v0.6h-0.6zM137.21 356.42h0.6v0.6h-0.6zM155.73 351.67h0.6v0.6h-0.6zM127.44 349.04h0.6v0.6h-0.6zM124.22 357.24h0.6v0.6h-0.6zM135.47 350.2h0.6v0.6h-0.6zM124 355.22h0.6v0.6h-0.6zM125.29 356.66h0.6v0.6h-0.6zM128.47 356.3h0.6v0.6h-0.6zM159.53 358.16h0.6v0.6h-0.6zM123.55 351.54h0.6v0.6h-0.6z" fill="#666" fill-opacity="0.8"/>
<path d="M125.8 354.7h0.6v0.6h-0.6zM126.58 355.14h0.6v0.6h-0.6zM132.91 359.14h0.6v0.6h-0.6zM155.75 358.25h0.6v0.6h-0.6zM145.32 352.85h0.6v0.6h-0.6zM123.79 358.59h0.6v0.6h-0.6zM132.79 355.2h0.6v0.6h-0.6zM150.18 355.41h0.6v0.6h-0.6zM151.5 354.37h0.6v0.6h-0.6zM139.22 356.56h0.6v0.6h-0.6zM126.24 345.01h0.6v0.6h-0.6zM129.53 351.62h0.6v0.6h-0.6zM128.57 344.17h0.6v0.6h-0.6zM145.25 357.79h0.6v0.6h-0.6zM151.22 357.04h0.6v0.6h-0.6zM154.4 359.79h0.6v0.6h-0.6zM128.98 353.43h0.6v0.6h-0.6zM138.39 355.19h0.6v0.6h-0.6zM143.17 352.93h0.6v0.6h-0.6zM150.28 358.51h0.6v0.6h-0.6zM128.68 354.08h0.6v0.6h-0.6zM156.72 355.06h0.6v0.6h-0.6zM126.28 355.89h0.6v0.6h-0.6zM129.76 357.81h0.6v0.6h-0.6zM133.1 351.89h0.6v0.6h-0.6zM137.58 347.39h0.6v0.6h-0.6zM155.82 356.3h0.6v0.6h-0.6zM130.55 352.76h0.6v0.6h-0.6zM141.36 351h0.6v0.6h-0.6zM147.7 360.25h0.6v0.6h-0.6zM146.33 355.17h0.6v0.6h-0.6zM150.91 357.84h0.6v0.6h-0.6zM127.99 357.5h0.6v0.6h-0.6zM126.31 359.26h0.6v0.6h-0.6zM136.5 355.65h0.6v0.6h-0.6zM151.85 352.58h0.6v0.6h-0.6zM132.48 345.26h0.6v0.6h-0.6zM126.84 341.57h0.6v0.6h-0.6zM138.09 352.28h0.6v0.6h-0.6zM149.3 353.28h0.6v0.6h-0.6zM127.78 359.07h0.6v0.6h-0.6zM125.4 358.63h0.6v0.6h-0.6zM129.8 358.66h0.6v0.6h-0.6zM129.28 355.22h0.6v0.6h-0.6zM143.49 355.99h0.6v0.6h-0.6zM154.72 354.8h0.6v0.6h-0.6zM127.49 345.62h0.6v0.6h-0.6zM135.19 356.44h0.6v0.6h-0.6zM150.48 358.3h0.6v0.6h-0.6zM153.59 358.98h0.6v0.6h-0.6zM134.75 358.01h0.6v0.6h-0.6zM134.99 356.94h0.6v0.6h-0.6zM136.61 357.49h0.6v0.6h-0.6zM137.81 354.44h0.6v0.6h-0.6zM147.54 346.49h0.6v0.6h-0.6zM128.57 345.27h0.6v0.6h-0.6zM134.49 352.25h0.6v0.6h-0.6zM123.25 351.62h0.6v0.6h-0.6zM145.75 352.66h0.6v0.6h-0.6zM133.62 359.99h0.6v0.6h-0.6zM128.89 357.69h0.6v0.6h-0.6zM149.81 359.5h0.6v0.6h-0.6zM137.07 363.32h0.6v0.6h-0.6zM129.74 359.44h0.6v0.6h-0.6zM154.27 360.07h0.6v0.6h-0.6zM129.28 342.88h0.6v0.6h-0.6zM158.58 359.29h0.6v0.6h-0.6zM137.51 362.76h0.6v0.6h-0.6zM123.51 353.52h0.6v0.6h-0.6zM143.72 359.16h0.6v0.6h-0.6zM141.42 356.65h0.6v0.6h-0.6zM149.34 358.29h0.6v0.6h-0.6zM139.54 355.14h0.6v0.6h-0.6zM123.33 346.87h0.6v0.6h-0.6zM125.22 352.94h0.6v0.6h-0.6zM136.14 366.2h0.6v0.6h-0.6zM124.31 344.42h0.6v0.6h-0.6zM125.24 359.76h0.6v0.6h-0.6zM123.35 358.7h0.6v0.6h-0.6zM153.48 357.81h0.6v0.6h-0.6zM145.51 357.8h0.6v0.6h-0.6zM127.27 359.54h0.6v0.6h-0.6zM133.33 352.64h0.6v0.6h-0.6zM147.24 356.76h0.6v0.6h-0.6zM152.82 357.65h0.6v0.6h-0.6zM142.65 359.28h0.6v0.6h-0.6zM131.91 357.05h0.6v0.6h-0.6zM123 349.13h0.6v0.6h-0.6zM148.42 356.36h0.6v0.6h-0.6zM141.09 353.02h0.6v0.6h-0.6zM124.31 356.69h0.6v0.6h-0.6zM134.78 362.22h0.6v0.6h-0.6zM152.92 354.39h0.6v0.6h-0.6zM155.08 355.18h0.6v0.6h-0.6zM128.28 353.42h0.6v0.6h-0.6zM153.08 358.63h0.6v0.6h-0.6zM149.06 373.05h0.6v0.6h-0.6zM127.02 352.71h0.6v0.6h-0.6zM154.27 357.56h0.6v0.6h-0.6zM155.84 360.52h0.6v0.6h-0.6zM133.26 359.31h0.6v0.6h-0.6zM130 347.26h0.6v0.6h-0.6zM152.11 356.93h0.6v0.6h-0.6zM140.31 354.93h0.6v0.6h-0.6zM155.78 359.88h0.6v0.6h-0.6zM132.84 356.37h0.6v0.6h-0.6zM127.66 358.96h0.6v0.6h-0.6zM128.2 354.11h0.6v0.6h-0.6zM127.56 337.98h0.6v0.6h-0.6zM141.15 359.49h0.6v0.6h-0.6zM131.83 340.2h0.6v0.6h-0.6zM145.36 362.44h0.6v0.6h-0.6zM133.58 355.37h0.6v0.6h-0.6zM126.74 356.29h0.6v0.6h-0.6zM129.9 351.84h0.6v0.6h-0.6zM137.61 348.51h0.6v0.6h-0.6zM153.69 355.7h0.6v0.6h-0.6zM139.57 351.43h0.6v0.6h-0.6zM126.9 357.97h0.6v0.6h-0.6zM138.21 357.65h0.6v0.6h-0.6zM155.77 356.63h0.6v0.6h-0.6zM155.88 355.81h0.6v0.6h-0.6zM124.83 356.42h0.6v0.6h-0.6zM135.11 359.35h0.6v0.6h-0.6zM124.24 353.23h0.6v0.6h-0.6zM135.47 353.93h0.6v0.6h-0.6zM130.85 348.36h0.6v0.6h-0.6zM142.26 359.89h0.6v0.6h-0.6zM136.36 342.38h0.6v0.6h-0.6zM138.98 356.23h0.6v0.6h-0.6zM155.62 357.7h0.6v0.6h-0.6zM157.16 358.98h0.6v0.6h-0.6zM141.86 354.39h0.6v0.6h-0.6zM144.61 359.22h0.6v0.6h-0.6zM154.33 355.13h0.6v0.6h-0.6zM129.93 352.93h0.6v0.6h-0.6zM141.12 360.36h0.6v0.6h-0.6zM124.04 349.23h0.6v0.6h-0.6zM154.05 357.12h0.6v0.6h-0.6zM152.88 355.82h0.6v0.6h-0.6zM138.9 356.65h0.6v0.6h-0.6zM129.65 358.03h0.6v0.6h-0.6zM154.18 356.91h0.6v0.6h-0.6zM160.66 361.34h0.6v0.6h-0.6zM153.65 358.72h0.6v0.6h-0.6zM146.55 358.58h0.6v0.6h-0.6zM132.42 355.17h0.6v0.6h-0.6zM135.45 355.53h0.6v0.6h-0.6zM142.55 362.04h0.6v0.6h-0.6zM126.08 354.81h0.6v0.6h-0.6zM127.21 354.21h0.6v0.6h-0.6zM149.22 353.25h0.6v0.6h-0.6zM145.02 373h0.6v0.6h-0.6zM129.57 355.53h0.6v0.6h-0.6zM131.62 357.87h0.6v0.6h-0.6zM123.66 346.55h0.6v0.6h-0.6zM149.2 358.72h0.6v0.6h-0.6zM151.88 351.14h0.6v0.6h-0.6zM143.37 356.95h0.6v0.6h-0.6zM150.66 353.82h0.6v0.6h-0.6zM123.35 352.65h0.6v0.6h-0.6zM129.65 346.45h0.6v0.6h-0.6zM147.59 357.65h0.6v0.6h-0.6zM155.74 356.27h0.6v0.6h-0.6zM126.21 355.04h0.6v0.6h-0.6zM141.74 357.77h0.6v0.6h-0.6zM130.98 350.23h0.6v0.6h-0.6zM129.35 357.15h0.6v0.6h-0.6zM151.23 357.56h0.6v0.6h-0.6zM143.55 359.5h0.6v0.6h-0.6zM133.65 357.67h0.6v0.6h-0.6zM155.64 352.95h0.6v0.6h-0.6zM123.74 355.49h0.6v0.6h-0.6zM151.67 352.81h0.6v0.6h-0.6zM147.18 352.51h0.6v0.6h-0.6zM142.84 359.28h0.6v0.6h-0.6zM132.89 354.88h0.6v0.6h-0.6zM146.98 355.86h0.6v0.6h-0.6zM127.92 359.69h0.6v0.6h-0.6zM155.61 355.49h0.6v0.6h-0.6zM142.64 361.28h0.6v0.6h-0.6zM145.51 357.22h0.6v0.6h-0.6zM134.54 357.73h0.6v0.6h-0.6zM130.12 358.68h0.6v0.6h-0.6zM131.33 360.31h0.6v0.6h-0.6zM130.36 350.37h0.6v0.6h-0.6zM122.99 357.22h0.6v0.6h-0.6zM152.96 354.49h0.6v0.6h-0.6zM149.07 354.69h0.6v0.6h-0.6zM144.2 359.91h0.6v0.6h-0.6zM138.43 356.19h0.6v0.6h-0.6zM130.4 339.47h0.6v0.6h-0.6zM127.46 357.42h0.6v0.6h-0.6zM139.06 360.77h0.6v0.6h-0.6zM123.82 348.27h0.6v0.6h-0.6zM148.98 360.07h0.6v0.6h-0.6zM143.85 356.97h0.6v0.6h-0.6zM161.3 358.21h0.6v0.6h-0.6zM151.03 359.41h0.6v0.6h-0.6zM141.93 357.43h0.6v0.6h-0.6zM129.37 361.17h0.6v0.6h-0.6zM146.77 355.09h0.6v0.6h-0.6zM139.7 361.88h0.6v0.6h-0.6zM153.51 359.07h0.6v0.6h-0.6zM122.61 347.11h0.6v0.6h-0.6zM152.2 359.11h0.6v0.6h-0.6zM148.68 355.44h0.6v0.6h-0.6zM125.19 345.47h0.6v0.6h-0.6zM152.56 355.88h0.6v0.6h-0.6zM131.68 345.89h0.6v0.6h-0.6zM140.3 356.23h0.6v0.6h-0.6zM129.45 345.32h0.6v0.6h-0.6zM153.32 356.77h0.6v0.6h-0.6zM139.54 349.36h0.6v0.6h-0.6zM140.28 357.26h0.6v0.6h-0.6zM154.68 355.68h0.6v0.6h-0.6zM129.99 357.59h0.6v0.6h-0.6zM128.81 346.66h0.6v0.6h-0.6zM126.71 346.71h0.6v0.6h-0.6zM125.91 353.58h0.6v0.6h-0.6zM136.12 351.51h0.6v0.6h-0.6zM143.13 356.52h0.6v0.6h-0.6zM148.73 358.7h0.6v0.6h-0.6zM141.54 353.47h0.6v0.6h-0.6zM148.35 358.98h0.6v0.6h-0.6zM146.66 360.21h0.6v0.6h-0.6zM161.34 360.36h0.6v0.6h-0.6zM135.14 358.36h0.6v0.6h-0.6zM124 357.87h0.6v0.6h-0.6zM157.06 357.81h0.6v0.6h-0.6zM161.1 352.87h0.6v0.6h-0.6zM125.48 347.17h0.6v0.6h-0.6zM137.17 357.89h0.6v0.6h-0.6zM153.84 357.69h0.6v0.6h-0.6zM151.59 355.72h0.6v0.6h-0.6zM139.98 356.81h0.6v0.6h-0.6zM134.22 351.13h0.6v0.6h-0.6zM138.42 358.88h0.6v0.6h-0.6zM122.84 358.67h0.6v0.6h-0.6zM123.54 344.25h0.6v0.6h-0.6zM122.64 350.58h0.6v0.6h-0.6zM122.88 352.18h0.6v0.6h-0.6zM150.02 355.87h0.6v0.6h-0.6zM149.85 358.62h0.6v0.6h-0.6zM148.35 358.69h0.6v0.6h-0.6zM126.27 356.67h0.6v0.6h-0.6zM151.03 352.72h0.6v0.6h-0.6zM142.95 358.8h0.6v0.6h-0.6zM127.32 357.37h0.6v0.6h-0.6zM125.27 360.41h0.6v0.6h-0.6zM135.48 360.28h0.6v0.6h-0.6zM136.68 355.43h0.6v0.6h-0.6zM144.33 352.8h0.6v0.6h-0.6zM149.89 362.35h0.6v0.6h-0.6zM152.68 356.01h0.6v0.6h-0.6zM140.17 365.46h0.6v0.6h-0.6zM129.51 343.8h0.6v0.6h-0.6zM135.32 356.27h0.6v0.6h-0.6zM158.2 363.5h0.6v0.6h-0.6zM129.67 361.42h0.6v0.6h-0.6zM141.86 356.29h0.6v0.6h-0.6zM157.08 356.64h0.6v0.6h-0.6zM135.61 354.48h0.6v0.6h-0.6zM138.04 362.25h0.6v0.6h-0.6zM145.74 357.57h0.6v0.6h-0.6zM131.83 357.45h0.6v0.6h-0.6zM155.83 359.26h0.6v0.6h-0.6zM135.57 361.02h0.6v0.6h-0.6zM153.99 356.63h0.6v0.6h-0.6zM142.2 356h0.6v0.6h-0.6zM129.18 367.51h0.6v0.6h-0.6zM133.41 357.14h0.6v0.6h-0.6zM123.17 350.23h0.6v0.6h-0.6zM133.57 353.39h0.6v0.6h-0.6zM149.02 360.23h0.6v0.6h-0.6zM153.88 355.87h0.6v0.6h-0.6zM129.86 351.49h0.6v0.6h-0.6zM132.44 359.54h0.6v0.6h-0.6zM149.48 356.58h0.6v0.6h-0.6zM127.78 361.51h0.6v0.6h-0.6zM148.19 356.9h0.6v0.6h-0.6zM125.8 351.19h0.6v0.6h-0.6zM134.06 358.33h0.6v0.6h-0.6zM148.45 351.89h0.6v0.6h-0.6zM135.68 356.82h0.6v0.6h-0.6zM144.16 354.15h0.6v0.6h-0.6zM154.76 361.51h0.6v0.6h-0.6zM146.94 356.51h0.6v0.6h-0.6zM155.94 355.74h0.6v0.6h-0.6zM137.76 348.87h0.6v0.6h-0.6zM155.33 358.24h0.6v0.6h-0.6zM129.47 361.24h0.6v0.6h-0.6zM144.76 355.46h0.6v0.6h-0.6zM145.2 354.46h0.6v0.6h-0.6zM129.24 347.33h0.6v0.6h-0.6zM135.22 358.6h0.6v0.6h-0.6zM123.03 349.1h0.6v0.6h-0.6zM129.31 358.84h0.6v0.6h-0.6zM151.69 362.09h0.6v0.6h-0.6zM152.82 353.16h0.6v0.6h-0.6zM146.38 356.85h0.6v0.6h-0.6zM149.19 354.69h0.6v0.6h-0.6zM137.46 356.55h0.6v0.6h-0.6zM140.53 360.07h0.6v0.6h-0.6zM124.22 347.38h0.6v0.6h-0.6zM135.09 357.25h0.6v0.6h-0.6zM148.1 357h0.6v0.6h-0.6zM127.38 353.76h0.6v0.6h-0.6zM133.07 356.16h0.6v0.6h-0.6zM128.55 352.19h0.6v0.6h-0.6zM144.57 360.69h0.6v0.6h-0.6zM146.65 355.34h0.6v0.6h-0.6zM152.75 351.22h0.6v0.6h-0.6zM131.22 357.54h0.6v0.6h-0.6zM140.59 354.08h0.6v0.6h-0.6zM137.5 357.85h0.6v0.6h-0.6zM151.65 360.29h0.6v0.6h-0.6zM124.92 362.52h0.6v0.6h-0.6zM141.12 357.1h0.6v0.6h-0.6zM141.98 341.19h0.6v0.6h-0.6zM129.89 355.71h0.6v0.6h-0.6zM134.47 356.08h0.6v0.6h-0.6zM136.06 356.84h0.6v0.6h-0.6zM148.5 356.65h0.6v0.6h-0.6zM129.29 352.76h0.6v0.6h-0.6zM139.48 356.86h0.6v0.6h-0.6zM154.77 359.65h0.6v0.6h-0.6zM126.57 355.62h0.6v0.6h-0.6zM138.15 356.33h0.6v0.6h-0.6zM131.78 352.49h0.6v0.6h-0.6zM149.47 356.88h0.6v0.6h-0.6zM154.86 354.69h0.6v0.6h-0.6zM152.67 357.5h0.6v0.6h-0.6zM129.68 356.3h0.6v0.6h-0.6zM128.83 358.66h0.6v0.6h-0.6zM130.42 358.9h0.6v0.6h-0.6zM122.91 352.68h0.6v0.6h-0.6zM135.61 354.7h0.6v0.6h-0.6zM133.01 356.98h0.6v0.6h-0.6zM153.8 355.65h0.6v0.6h-0.6zM129.31 356.16h0.6v0.6h-0.6zM149.53 354.38h0.6v0.6h-0.6zM134.38 358.78h0.6v0.6h-0.6zM151.54 363.51h0.6v0.6h-0.6zM145.39 356.45h0.6v0.6h-0.6zM136.89 360.81h0.6v0.6h-0.6zM122.73 359.48h0.6v0.6h-0.6zM146.75 360.18h0.6v0.6h-0.6zM150.39 355.22h0.6v0.6h-0.6zM127.19 345.75h0.6v0.6h-0.6zM128.28 345.18h0.6v0.6h-0.6zM153.65 358.03h0.6v0.6h-0.6zM137.13 358.95h0.6v0.6h-0.6zM135.12 358.98h0.6v0.6h-0.6zM140.45 355.44h0.6v0.6h-0.6zM137.97 352.52h0.6v0.6h-0.6zM140.97 361.08h0.6v0.6h-0.6zM136.95 354.11h0.6v0.6h-0.6zM136.7 351.15h0.6v0.6h-0.6zM150.67 352.78h0.6v0.6h-0.6zM142.83 352.68h0.6v0.6h-0.6zM145.9 357.94h0.6v0.6h-0.6zM153.82 356.83h0.6v0.6h-0.6zM136.94 348.69h0.6v0.6h-0.6zM134.01 346.8h0.6v0.6h-0.6zM130.12 360.53h0.6v0.6h-0.6zM132.86 359.77h0.6v0.6h-0.6zM140.24 353.75h0.6v0.6h-0.6zM154.63 352.7h0.6v0.6h-0.6zM129.84 357.81h0.6v0.6h-0.6zM128.35 358.88h0.6v0.6h-0.6zM128.3 346.41h0.6v0.6h-0.6zM159.37 352.32h0.6v0.6h-0.6zM126.58 360.41h0.6v0.6h-0.6zM147.4 355.14h0.6v0.6h-0.6zM150.39 358.06h0.6v0.6h-0.6zM142.79 353.62h0.6v0.6h-0.6zM152.95 354.9h0.6v0.6h-0.6zM133.3 360.2h0.6v0.6h-0.6zM139.25 360.6h0.6v0.6h-0.6zM150.18 358.12h0.6v0.6h-0.6zM129.39 357.34h0.6v0.6h-0.6zM145.99 354.36h0.6v0.6h-0.6zM140.07 359.27h0.6v0.6h-0.6zM137.86 360.72h0.6v0.6h-0.6zM143.53 352.77h0.6v0.6h-0.6zM130.26 357.26h0.6v0.6h-0.6zM153.9 356.9h0.6v0.6h-0.6zM137.67 355.2h0.6v0.6h-0.6zM137.94 357.76h0.6v0.6h-0.6zM127.3 359.65h0.6v0.6h-0.6zM145.36 362.79h0.6v0.6h-0.6zM150.03 355.69h0.6v0.6h-0.6zM133.52 356.11h0.6v0.6h-0.6zM135.1 360.38h0.6v0.6h-0.6zM133.85 359.55h0.6v0.6h-0.6zM132.02 346.02h0.6v0.6h-0.6zM152.56 357.61h0.6v0.6h-0.6zM148.71 359.59h0.6v0.6h-0.6zM137.38 357.3h0.6v0.6h-0.6zM136.43 348.26h0.6v0.6h-0.6zM151.69 357.44h0.6v0.6h-0.6zM146.3 356.87h0.6v0.6h-0.6zM122.94 356.54h0.6v0.6h-0.6zM130.76 354.36h0.6v0.6h-0.6zM151.6 355.75h0.6v0.6h-0.6zM135.83 358.92h0.6v0.6h-0.6zM151.21 361.97h0.6v0.6h-0.6zM151.79 359.52h0.6v0.6h-0.6zM148.21 354.47h0.6v0.6h-0.6zM140.84 356.28h0.6v0.6h-0.6zM155.35 359.3h0.6v0.6h-0.6zM135.53 359.36h0.6v0.6h-0.6zM138.79 357.99h0.6v0.6h-0.6zM123.27 359.95h0.6v0.6h-0.6zM165.31 354.26h0.6v0.6h-0.6zM148.85 359.01h0.6v0.6h-0.6zM128.21 349.1h0.6v0.6h-0.6zM133.55 356.56h0.6v0.6h-0.6zM139.94 352.53h0.6v0.6h-0.6zM152.13 357.88h0.6v0.6h-0.6zM146.3 355.4h0.6v0.6h-0.6zM129.99 360.66h0.6v0.6h-0.6zM152.28 354.87h0.6v0.6h-0.6zM136.97 356.12h0.6v0.6h-0.6zM136.26 356.72h0.6v0.6h-0.6zM137.75 351.5h0.6v0.6h-0.6zM153.04 357.69h0.6v0.6h-0.6z" fill="#4a4a4a" fill-opacity="0.8"/>
</g>
<g clip-path="url(#cf3)">
<path d="M226.78 356.52h0.6v0.6h-0.6zM217.28 359.33h0.6v0.6h-0.6zM236.5 362.84h0.6v0.6h-0.6zM231.52 357.65h0.6v0.6h-0.6zM230.48 360.11h0.6v0.6h-0.6zM233.82 368.87h0.6v0.6h-0.6zM235.08 363.55h0.6v0.6h-0.6zM238.06 360.08h0.6v0.6h-0.6zM229.44 357.71h0.6v0.6h-0.6zM235.16 358.22h0.6v0.6h-0.6zM230.14 363.43h0.6v0.6h-0.6zM233.7 365.08h0.6v0.6h-0.6zM239.06 358.71h0.6v0.6h-0.6zM232.92 359.78h0.6v0.6h-0.6zM237.64 360.45h0.6v0.6h-0.6zM235.73 360.92h0.6v0.6h-0.6zM239.7 359.31h0.6v0.6h-0.6zM222.2 361.27h0.6v0.6h-0.6zM247.3 363.46h0.6v0.6h-0.6zM238.69 356.78h0.6v0.6h-0.6zM234.23 362.07h0.6v0.6h-0.6zM230.67 359.12h0.6v0.6h-0.6zM233.09 356.23h0.6v0.6h-0.6zM233.83 363.74h0.6v0.6h-0.6zM234.29 359.81h0.6v0.6h-0.6zM232.16 355.17h0.6v0.6h-0.6zM236.31 358.15h0.6v0.6h-0.6zM239.03 361.49h0.6v0.6h-0.6zM235.8 363.5h0.6v0.6h-0.6zM228.53 367.51h0.6v0.6h-0.6zM236.03 359.57h0.6v0.6h-0.6zM227.96 363.61h0.6v0.6h-0.6zM228.11 358.16h0.6v0.6h-0.6zM228.76 360.96h0.6v0.6h-0.6zM232.54 359.71h0.6v0.6h-0.6zM238.44 364.76h0.6v0.6h-0.6zM227.34 360.1h0.6v0.6h-0.6zM235.86 360.01h0.6v0.6h-0.6zM232.42 361.95h0.6v0.6h-0.6zM237.09 360.23h0.6v0.6h-0.6zM232.87 359.02h0.6v0.6h-0.6zM234.43 363.15h0.6v0.6h-0.6zM231.42 362.41h0.6v0.6h-0.6zM237.51 357.46h0.6v0.6h-0.6zM237.86 358.95h0.6v0.6h-0.6zM233.06 359.63h0.6v0.6h-0.6zM237.5 361.79h0.6v0.6h-0.6zM235.26 358.41h0.6v0.6h-0.6zM225.28 362.65h0.6v0.6h-0.6zM229.73 361.55h0.6v0.6h-0.6zM238.94 357.02h0.6v0.6h-0.6zM234.51 357.84h0.6v0.6h-0.6zM232 364.26h0.6v0.6h-0.6zM231.71 358.85h0.6v0.6h-0.6zM239.79 359.76h0.6v0.6h-0.6zM240.68 354.37h0.6v0.6h-0.6zM233.49 356.53h0.6v0.6h-0.6zM221.07 361.35h0.6v0.6h-0.6zM232.38 363.64h0.6v0.6h-0.6zM238.05 361.44h0.6v0.6h-0.6zM226.78 354.48h0.6v0.6h-0.6zM234.38 365.36h0.6v0.6h-0.6zM239.77 359.5h0.6v0.6h-0.6zM226.61 364.61h0.6v0.6h-0.6zM235.09 361.89h0.6v0.6h-0.6zM228.77 358.51h0.6v0.6h-0.6zM232.95 365.63h0.6v0.6h-0.6zM236.94 364.45h0.6v0.6h-0.6zM232.6 366.61h0.6v0.6h-0.6zM232.03 356.31h0.6v0.6h-0.6zM231.63 362.34h0.6v0.6h-0.6zM232.73 362.87h0.6v0.6h-0.6zM215.45 360.14h0.6v0.6h-0.6zM237.29 361.78h0.6v0.6h-0.6zM232.75 358.9h0.6v0.6h-0.6zM232.8 363.79h0.6v0.6h-0.6zM235.62 365.94h0.6v0.6h-0.6zM231.09 365.07h0.6v0.6h-0.6zM231.55 356.64h0.6v0.6h-0.6zM237.21 353.94h0.6v0.6h-0.6zM232.27 359.78h0.6v0.6h-0.6zM236.79 359.18h0.6v0.6h-0.6zM230.01 356.1h0.6v0.6h-0.6zM235 359.51h0.6v0.6h-0.6zM222.62 366.13h0.6v0.6h-0.6zM233.96 357.38h0.6v0.6h-0.6zM238.61 359.58h0.6v0.6h-0.6zM226.28 360.31h0.6v0.6h-0.6zM234.34 359.16h0.6v0.6h-0.6zM229.95 363.89h0.6v0.6h-0.6zM234.93 356.87h0.6v0.6h-0.6zM232.26 360.37h0.6v0.6h-0.6zM224.23 357.82h0.6v0.6h-0.6zM232.9 362.45h0.6v0.6h-0.6zM231.96 360.22h0.6v0.6h-0.6zM235.9 356.48h0.6v0.6h-0.6zM231.51 362.1h0.6v0.6h-0.6zM228.38 362.45h0.6v0.6h-0.6zM229.72 362.28h0.6v0.6h-0.6zM236.54 364.93h0.6v0.6h-0.6zM232.17 358.72h0.6v0.6h-0.6zM233.33 358.74h0.6v0.6h-0.6zM234.63 368.74h0.6v0.6h-0.6zM235.69 356.51h0.6v0.6h-0.6zM239.83 358.67h0.6v0.6h-0.6zM234.08 360.84h0.6v0.6h-0.6zM231.66 362.38h0.6v0.6h-0.6zM234.18 357.44h0.6v0.6h-0.6zM231.25 361.8h0.6v0.6h-0.6zM235.78 359.32h0.6v0.6h-0.6zM231.8 358.12h0.6v0.6h-0.6zM227.3 362.53h0.6v0.6h-0.6zM234.36 356.83h0.6v0.6h-0.6zM229.88 359.29h0.6v0.6h-0.6zM229.61 363.41h0.6v0.6h-0.6zM232.64 358.41h0.6v0.6h-0.6zM230.64 360.63h0.6v0.6h-0.6zM236.31 353.67h0.6v0.6h-0.6zM229.42 360.08h0.6v0.6h-0.6zM230.12 358.61h0.6v0.6h-0.6zM229.61 363.33h0.6v0.6h-0.6zM233.61 360.88h0.6v0.6h-0.6zM220.07 372.88h0.6v0.6h-0.6zM234.82 358.34h0.6v0.6h-0.6zM231.32 357.55h0.6v0.6h-0.6zM233.45 359.36h0.6v0.6h-0.6zM228.04 359.36h0.6v0.6h-0.6zM237.09 360.91h0.6v0.6h-0.6zM230.63 362.73h0.6v0.6h-0.6zM234.26 360.11h0.6v0.6h-0.6zM229.5 356.34h0.6v0.6h-0.6zM233.64 359.49h0.6v0.6h-0.6zM235.72 359.58h0.6v0.6h-0.6zM236.97 364.86h0.6v0.6h-0.6zM218.45 355.22h0.6v0.6h-0.6zM228.67 363.03h0.6v0.6h-0.6zM227.45 359.9h0.6v0.6h-0.6zM230.52 364.19h0.6v0.6h-0.6zM236.44 361.58h0.6v0.6h-0.6zM233.99 361.1h0.6v0.6h-0.6zM226.88 359.54h0.6v0.6h-0.6zM226.24 358.24h0.6v0.6h-0.6zM235.43 362.28h0.6v0.6h-0.6zM232.88 363.35h0.6v0.6h-0.6zM233.41 362.55h0.6v0.6h-0.6zM231.59 359.54h0.6v0.6h-0.6zM237.08 356.63h0.6v0.6h-0.6zM238.99 362.1h0.6v0.6h-0.6zM236.07 356.57h0.6v0.6h-0.6zM231.87 359.97h0.6v0.6h-0.6zM231.1 365.67h0.6v0.6h-0.6zM234.85 362.1h0.6v0.6h-0.6zM225.66 355.39h0.6v0.6h-0.6zM231.17 358.15h0.6v0.6h-0.6zM235.11 363.14h0.6v0.6h-0.6zM232.81 360.46h0.6v0.6h-0.6zM227.26 358.11h0.6v0.6h-0.6zM234.73 357.28h0.6v0.6h-0.6zM236.57 354.5h0.6v0.6h-0.6zM222.73 368.13h0.6v0.6h-0.6zM231.09 367.11h0.6v0.6h-0.6zM228.11 360.53h0.6v0.6h-0.6zM237.05 354.86h0.6v0.6h-0.6zM225.19 361.58h0.6v0.6h-0.6zM240.58 370.25h0.6v0.6h-0.6zM219.42 367.56h0.6v0.6h-0.6zM230.72 356.72h0.6v0.6h-0.6zM234.68 361.57h0.6v0.6h-0.6zM234.68 358.02h0.6v0.6h-0.6zM234.77 357.7h0.6v0.6h-0.6zM230.81 354.43h0.6v0.6h-0.6zM234.56 363.19h0.6v0.6h-0.6zM245.08 362.56h0.6v0.6h-0.6zM233.5 365.21h0.6v0.6h-0.6zM227.52 362.4h0.6v0.6h-0.6zM227.92 363.55h0.6v0.6h-0.6zM237.22 356.32h0.6v0.6h-0.6zM236.58 361.21h0.6v0.6h-0.6zM229.74 363.37h0.6v0.6h-0.6zM229.53 358.75h0.6v0.6h-0.6zM229.11 361.32h0.6v0.6h-0.6zM231.95 359.22h0.6v0.6h-0.6zM223.94 362.44h0.6v0.6h-0.6zM233.38 360.66h0.6v0.6h-0.6zM231.14 360.76h0.6v0.6h-0.6zM238.9 364.32h0.6v0.6h-0.6zM245.9 368.3h0.6v0.6h-0.6zM235.13 360.41h0.6v0.6h-0.6zM233.8 362.13h0.6v0.6h-0.6zM231.23 361h0.6v0.6h-0.6zM238.06 360.79h0.6v0.6h-0.6zM225.34 360.35h0.6v0.6h-0.6zM231.29 362.19h0.6v0.6h-0.6zM233.23 362.72h0.6v0.6h-0.6zM230.32 365.02h0.6v0.6h-0.6zM231.86 364.57h0.6v0.6h-0.6zM237.4 363.18h0.6v0.6h-0.6zM231.25 363.77h0.6v0.6h-0.6zM226.47 359.72h0.6v0.6h-0.6zM236.96 350.97h0.6v0.6h-0.6zM229.14 360.88h0.6v0.6h-0.6zM232.09 358.95h0.6v0.6h-0.6zM238.52 361.57h0.6v0.6h-0.6zM232.86 357.75h0.6v0.6h-0.6zM234.07 361.01h0.6v0.6h-0.6zM236.06 358.17h0.6v0.6h-0.6zM220.59 355.88h0.6v0.6h-0.6zM233.03 360.8h0.6v0.6h-0.6zM232.25 359.16h0.6v0.6h-0.6zM236.34 363h0.6v0.6h-0.6zM230.59 361.72h0.6v0.6h-0.6zM238.99 355.14h0.6v0.6h-0.6zM238.14 366.32h0.6v0.6h-0.6zM229.84 360.95h0.6v0.6h-0.6zM232.46 361.03h0.6v0.6h-0.6zM231.3 357.19h0.6v0.6h-0.6zM233.21 360.06h0.6v0.6h-0.6zM228.14 361.87h0.6v0.6h-0.6zM228.22 365.96h0.6v0.6h-0.6zM227.73 361.31h0.6v0.6h-0.6zM237.5 369h0.6v0.6h-0.6zM230.48 360.56h0.6v0.6h-0.6zM242.22 362.37h0.6v0.6h-0.6zM234.88 357.93h0.6v0.6h-0.6zM224.97 358.48h0.6v0.6h-0.6zM236.86 355.75h0.6v0.6h-0.6zM227.95 359.97h0.6v0.6h-0.6zM236.44 357.75h0.6v0.6h-0.6zM234.23 360.98h0.6v0.6h-0.6zM237.33 361.23h0.6v0.6h-0.6zM233.39 359.57h0.6v0.6h-0.6zM234.51 360.28h0.6v0.6h-0.6zM229.68 362.69h0.6v0.6h-0.6zM220.48 362.93h0.6v0.6h-0.6zM229.71 363.42h0.6v0.6h-0.6zM232.64 363.95h0.6v0.6h-0.6zM232.51 354.48h0.6v0.6h-0.6zM242.1 368.09h0.6v0.6h-0.6zM232.48 361.87h0.6v0.6h-0.6zM235.8 364.71h0.6v0.6h-0.6zM237.02 362.98h0.6v0.6h-0.6zM229.66 357.25h0.6v0.6h-0.6zM230.96 363.71h0.6v0.6h-0.6zM228.95 366.95h0.6v0.6h-0.6zM225.5 366.62h0.6v0.6h-0.6zM233.18 362.2h0.6v0.6h-0.6zM235.26 365.06h0.6v0.6h-0.6zM234.77 361.77h0.6v0.6h-0.6zM233.03 362.13h0.6v0.6h-0.6zM230.02 359.69h0.6v0.6h-0.6zM230.55 363.37h0.6v0.6h-0.6zM205.59 355.67h0.6v0.6h-0.6zM232.06 356.26h0.6v0.6h-0.6zM230.51 365.42h0.6v0.6h-0.6zM231.52 363.14h0.6v0.6h-0.6zM236.38 359.22h0.6v0.6h-0.6zM232.54 359.3h0.6v0.6h-0.6zM232.07 360.19h0.6v0.6h-0.6zM235.68 358.04h0.6v0.6h-0.6zM226.56 361.07h0.6v0.6h-0.6zM233.43 362.35h0.6v0.6h-0.6zM232.35 361.26h0.6v0.6h-0.6zM236.13 358.24h0.6v0.6h-0.6zM233.78 357.39h0.6v0.6h-0.6zM231.99 363.6h0.6v0.6h-0.6zM229.28 362.17h0.6v0.6h-0.6zM231.55 362.87h0.6v0.6h-0.6zM245.87 355.87h0.6v0.6h-0.6zM230.01 354.72h0.6v0.6h-0.6zM223.58 356.68h0.6v0.6h-0.6zM232.04 358.29h0.6v0.6h-0.6zM234.17 360.94h0.6v0.6h-0.6zM235.93 367.26h0.6v0.6h-0.6zM232.26 359.49h0.6v0.6h-0.6zM232.31 356.52h0.6v0.6h-0.6zM233.94 359.39h0.6v0.6h-0.6zM244.57 362.29h0.6v0.6h-0.6zM237.91 365.04h0.6v0.6h-0.6zM233.03 362.79h0.6v0.6h-0.6zM235.76 355.98h0.6v0.6h-0.6zM233.25 364.77h0.6v0.6h-0.6zM234.4 359.05h0.6v0.6h-0.6zM227.39 361.41h0.6v0.6h-0.6zM233.87 358.28h0.6v0.6h-0.6zM234.25 359.31h0.6v0.6h-0.6zM234.9 364.01h0.6v0.6h-0.6zM229.23 359.03h0.6v0.6h-0.6zM233.25 361.01h0.6v0.6h-0.6zM229.97 362.96h0.6v0.6h-0.6zM230.3 363.63h0.6v0.6h-0.6zM228.57 361.31h0.6v0.6h-0.6zM229.28 360.67h0.6v0.6h-0.6zM238.81 354.47h0.6v0.6h-0.6z" fill="#444" fill-opacity="0.8"/>
<path d="M231.84 360.06h0.6v0.6h-0.6zM228.23 365.81h0.6v0.6h-0.6zM232.67 360.35h0.6v0.6h-0.6zM234.72 357.34h0.6v0.6h-0.6zM231.91 359.98h0.6v0.6h-0.6zM235.9 359.39h0.6v0.6h-0.6zM228.42 357.38h0.6v0.6h-0.6zM231.44 358.44h0.6v0.6h-0.6zM227.96 362.73h0.6v0.6h-0.6zM233.7 355.71h0.6v0.6h-0.6zM237.24 359.67h0.6v0.6h-0.6zM234.26 362.75h0.6v0.6h-0.6zM233.79 364.73h0.6v0.6h-0.6zM231.11 359.15h0.6v0.6h-0.6zM229.59 358.92h0.6v0.6h-0.6zM223.78 366.04h0.6v0.6h-0.6zM230.68 356.18h0.6v0.6h-0.6zM239.44 358.88h0.6v0.6h-0.6zM234.14 360.22h0.6v0.6h-0.6zM233.25 358.54h0.6v0.6h-0.6zM236.94 360.2h0.6v0.6h-0.6zM240.58 364.49h0.6v0.6h-0.6zM231.28 363.83h0.6v0.6h-0.6zM233.39 364.82h0.6v0.6h-0.6zM234.82 366.2h0.6v0.6h-0.6zM235.38 353.47h0.6v0.6h-0.6zM233.61 360.09h0.6v0.6h-0.6zM232.75 358.68h0.6v0.6h-0.6zM232.85 358.93h0.6v0.6h-0.6zM233.8 365.39h0.6v0.6h-0.6zM227.94 361.72h0.6v0.6h-0.6zM229.51 359.69h0.6v0.6h-0.6zM235.37 362.88h0.6v0.6h-0.6zM234.74 359.19h0.6v0.6h-0.6zM227.28 361.51h0.6v0.6h-0.6zM232.89 361.79h0.6v0.6h-0.6zM226.95 369h0.6v0.6h-0.6zM239.74 365.48h0.6v0.6h-0.6zM230.32 364.01h0.6v0.6h-0.6zM217.04 361.19h0.6v0.6h-0.6zM237.89 370.44h0.6v0.6h-0.6zM228.37 364.36h0.6v0.6h-0.6zM231.32 364.26h0.6v0.6h-0.6zM231.51 366.18h0.6v0.6h-0.6zM231.39 366.62h0.6v0.6h-0.6zM229.16 362.98h0.6v0.6h-0.6zM215 360.34h0.6v0.6h-0.6zM238.52 360.97h0.6v0.6h-0.6zM239.04 358h0.6v0.6h-0.6zM234.93 361.71h0.6v0.6h-0.6zM212.2 353.33h0.6v0.6h-0.6zM232.22 357.9h0.6v0.6h-0.6zM234.41 359.4h0.6v0.6h-0.6zM222.8 356.85h0.6v0.6h-0.6zM237.1 356.91h0.6v0.6h-0.6zM230.51 367.76h0.6v0.6h-0.6zM240.1 369.23h0.6v0.6h-0.6zM234.91 355.66h0.6v0.6h-0.6zM227.11 360.91h0.6v0.6h-0.6zM236.54 359.08h0.6v0.6h-0.6zM227.19 358.66h0.6v0.6h-0.6zM237.72 359.73h0.6v0.6h-0.6zM233.54 359.95h0.6v0.6h-0.6zM240.38 356.96h0.6v0.6h-0.6zM232.52 357.46h0.6v0.6h-0.6zM219.6 360.1h0.6v0.6h-0.6zM240.02 361.63h0.6v0.6h-0.6zM233.27 364.3h0.6v0.6h-0.6zM229.27 352.29h0.6v0.6h-0.6zM232.8 360.47h0.6v0.6h-0.6zM229.02 360.82h0.6v0.6h-0.6zM237.42 358.93h0.6v0.6h-0.6zM232.84 365.76h0.6v0.6h-0.6zM234.31 362.07h0.6v0.6h-0.6zM228.01 353.96h0.6v0.6h-0.6zM235.8 362.87h0.6v0.6h-0.6zM235.25 362.96h0.6v0.6h-0.6zM234.18 356.48h0.6v0.6h-0.6zM231.74 361.43h0.6v0.6h-0.6zM235.71 361.61h0.6v0.6h-0.6zM238.2 365.23h0.6v0.6h-0.6zM230.22 363.41h0.6v0.6h-0.6zM236.67 360.31h0.6v0.6h-0.6zM230.05 359.85h0.6v0.6h-0.6zM232.84 356.71h0.6v0.6h-0.6zM235.41 356.63h0.6v0.6h-0.6zM228.49 365.12h0.6v0.6h-0.6zM238.07 360.15h0.6v0.6h-0.6zM238.4 360h0.6v0.6h-0.6zM233.5 359.06h0.6v0.6h-0.6zM247.16 374.86h0.6v0.6h-0.6zM232.85 362.28h0.6v0.6h-0.6zM241.53 359.27h0.6v0.6h-0.6zM236.57 356.01h0.6v0.6h-0.6zM229.98 359.16h0.6v0.6h-0.6zM234.37 360.1h0.6v0.6h-0.6zM232.24 361.23h0.6v0.6h-0.6zM230.57 365.07h0.6v0.6h-0.6zM233.81 364.48h0.6v0.6h-0.6zM234.27 364.56h0.6v0.6h-0.6zM238.75 363.19h0.6v0.6h-0.6zM235.64 357.59h0.6v0.6h-0.6zM225.4 355.89h0.6v0.6h-0.6zM229.61 361.01h0.6v0.6h-0.6zM233.75 362.44h0.6v0.6h-0.6zM230.34 359.07h0.6v0.6h-0.6zM232.11 362.66h0.6v0.6h-0.6zM231.51 360.89h0.6v0.6h-0.6zM224.52 366.45h0.6v0.6h-0.6zM233.42 362.65h0.6v0.6h-0.6zM212.37 367.21h0.6v0.6h-0.6zM234.41 356.47h0.6v0.6h-0.6zM234.43 361.65h0.6v0.6h-0.6zM224.66 355.07h0.6v0.6h-0.6zM234.85 367.62h0.6v0.6h-0.6zM230.26 358.57h0.6v0.6h-0.6zM237.67 358.85h0.6v0.6h-0.6zM230.86 358.13h0.6v0.6h-0.6zM230.72 361.41h0.6v0.6h-0.6zM230.26 361.43h0.6v0.6h-0.6zM233.02 358.83h0.6v0.6h-0.6zM236.24 363.19h0.6v0.6h-0.6zM227.02 360.29h0.6v0.6h-0.6zM230.27 367.15h0.6v0.6h-0.6zM229.84 355.16h0.6v0.6h-0.6zM236.88 365.5h0.6v0.6h-0.6zM235.08 361.93h0.6v0.6h-0.6zM238.89 359.14h0.6v0.6h-0.6zM226.09 361.04h0.6v0.6h-0.6zM217.64 358.24h0.6v0.6h-0.6zM226.5 354.5h0.6v0.6h-0.6zM238.02 359.74h0.6v0.6h-0.6zM229.43 360.1h0.6v0.6h-0.6zM221.23 357.53h0.6v0.6h-0.6zM227.58 360.17h0.6v0.6h-0.6zM223.58 373.07h0.6v0.6h-0.6zM230.31 362.1h0.6v0.6h-0.6zM241.75 365.48h0.6v0.6h-0.6zM233.43 359.69h0.6v0.6h-0.6zM235.85 362.19h0.6v0.6h-0.6zM239.36 357.79h0.6v0.6h-0.6zM236.54 365.83h0.6v0.6h-0.6zM228.92 359.14h0.6v0.6h-0.6zM234.6 363.65h0.6v0.6h-0.6zM233.47 364.43h0.6v0.6h-0.6zM237.33 364.07h0.6v0.6h-0.6zM232.49 360.01h0.6v0.6h-0.6zM236.36 363.43h0.6v0.6h-0.6zM239.69 354.62h0.6v0.6h-0.6zM228.69 365.19h0.6v0.6h-0.6zM235.66 357.59h0.6v0.6h-0.6zM230.72 361.06h0.6v0.6h-0.6zM230.18 364.45h0.6v0.6h-0.6zM232 360.27h0.6v0.6h-0.6zM236.02 364.1h0.6v0.6h-0.6zM227.17 365.73h0.6v0.6h-0.6zM237.73 358.06h0.6v0.6h-0.6zM230 358.11h0.6v0.6h-0.6zM237.9 364.81h0.6v0.6h-0.6zM229.22 361.74h0.6v0.6h-0.6zM230.44 356.22h0.6v0.6h-0.6zM215.47 362.24h0.6v0.6h-0.6zM235.74 357.11h0.6v0.6h-0.6zM229.92 354.99h0.6v0.6h-0.6zM232.02 351.79h0.6v0.6h-0.6zM220.59 356.1h0.6v0.6h-0.6zM234.61 359.72h0.6v0.6h-0.6zM232.53 363.45h0.6v0.6h-0.6zM236.15 360.31h0.6v0.6h-0.6zM234.03 358.74h0.6v0.6h-0.6zM230.4 359.39h0.6v0.6h-0.6zM234.07 365.64h0.6v0.6h-0.6zM232.47 366.95h0.6v0.6h-0.6zM235.01 365.91h0.6v0.6h-0.6zM232.97 361.14h0.6v0.6h-0.6zM235.65 358.06h0.6v0.6h-0.6zM224.94 358.16h0.6v0.6h-0.6zM236.62 361.97h0.6v0.6h-0.6zM233.61 357.11h0.6v0.6h-0.6zM230.95 347.64h0.6v0.6h-0.6zM237.13 369.82h0.6v0.6h-0.6zM227.04 360.84h0.6v0.6h-0.6zM217.32 359.91h0.6v0.6h-0.6zM233.82 357.36h0.6v0.6h-0.6zM231.82 362.78h0.6v0.6h-0.6zM227.01 360.82h0.6v0.6h-0.6zM219.8 363.36h0.6v0.6h-0.6zM235.99 364.64h0.6v0.6h-0.6zM234.4 361.31h0.6v0.6h-0.6zM235.1 359.21h0.6v0.6h-0.6zM226.64 367.44h0.6v0.6h-0.6zM238.28 356.78h0.6v0.6h-0.6zM237.16 363.59h0.6v0.6h-0.6zM235.26 362.51h0.6v0.6h-0.6zM230.17 359.54h0.6v0.6h-0.6zM235.33 356.68h0.6v0.6h-0.6zM234.34 358.4h0.6v0.6h-0.6zM233.45 364.17h0.6v0.6h-0.6zM235.16 357.04h0.6v0.6h-0.6zM237.43 360.71h0.6v0.6h-0.6zM234.89 363.62h0.6v0.6h-0.6zM239.98 363.35h0.6v0.6h-0.6zM231.57 362.27h0.6v0.6h-0.6zM231.36 359.88h0.6v0.6h-0.6zM226.38 357.79h0.6v0.6h-0.6zM230.16 357.46h0.6v0.6h-0.6zM235.67 358.76h0.6v0.6h-0.6zM215.67 363.46h0.6v0.6h-0.6zM237.62 363.21h0.6v0.6h-0.6zM231.79 354.63h0.6v0.6h-0.6zM230.78 362.58h0.6v0.6h-0.6zM233.52 361.83h0.6v0.6h-0.6zM229.7 358.2h0.6v0.6h-0.6zM224.56 368.7h0.6v0.6h-0.6zM232.08 362.58h0.6v0.6h-0.6zM238.45 362.97h0.6v0.6h-0.6zM225.09 349.54h0.6v0.6h-0.6zM241.22 365.91h0.6v0.6h-0.6zM237.14 362.01h0.6v0.6h-0.6zM217.79 369.71h0.6v0.6h-0.6zM237.94 358.35h0.6v0.6h-0.6zM225.7 362.22h0.6v0.6h-0.6zM237.95 359.41h0.6v0.6h-0.6zM233.96 360.56h0.6v0.6h-0.6zM231.2 362.96h0.6v0.6h-0.6zM233.88 365.31h0.6v0.6h-0.6zM234.23 356.38h0.6v0.6h-0.6zM232.54 360.36h0.6v0.6h-0.6zM237.56 358.13h0.6v0.6h-0.6zM231.2 355.04h0.6v0.6h-0.6zM223.43 362.26h0.6v0.6h-0.6zM228.83 362.15h0.6v0.6h-0.6zM235.01 361.98h0.6v0.6h-0.6zM214.92 361.86h0.6v0.6h-0.6zM232.9 358.82h0.6v0.6h-0.6zM239.24 359.64h0.6v0.6h-0.6zM235.58 358.46h0.6v0.6h-0.6zM233.12 358.47h0.6v0.6h-0.6zM232.43 357.86h0.6v0.6h-0.6zM233.69 360.02h0.6v0.6h-0.6zM232.38 359.13h0.6v0.6h-0.6zM232.86 363.28h0.6v0.6h-0.6zM234.27 360.89h0.6v0.6h-0.6zM231.34 369.14h0.6v0.6h-0.6zM221.01 363.64h0.6v0.6h-0.6zM223.34 363.23h0.6v0.6h-0.6zM223.4 354.72h0.6v0.6h-0.6zM237.15 361.94h0.6v0.6h-0.6zM233.26 362.16h0.6v0.6h-0.6zM230.5 366.01h0.6v0.6h-0.6zM233.52 354.4h0.6v0.6h-0.6zM246.89 364.26h0.6v0.6h-0.6zM234.16 362.6h0.6v0.6h-0.6zM229.26 365.58h0.6v0.6h-0.6zM228 354.13h0.6v0.6h-0.6zM224.99 359.53h0.6v0.6h-0.6zM232.86 362.49h0.6v0.6h-0.6zM235.5 366.38h0.6v0.6h-0.6zM230.75 360.73h0.6v0.6h-0.6zM230.34 363.24h0.6v0.6h-0.6zM229.09 355.39h0.6v0.6h-0.6zM233.84 359.3h0.6v0.6h-0.6zM236.28 367.33h0.6v0.6h-0.6zM228.53 358.22h0.6v0.6h-0.6zM234.84 355.42h0.6v0.6h-0.6zM233.69 360.81h0.6v0.6h-0.6zM232.12 362.36h0.6v0.6h-0.6zM227.31 359.98h0.6v0.6h-0.6zM228.34 361.46h0.6v0.6h-0.6zM232.35 367.94h0.6v0.6h-0.6zM230.28 362.56h0.6v0.6h-0.6zM225.84 360.01h0.6v0.6h-0.6zM220.18 357.7h0.6v0.6h-0.6zM239.42 356.35h0.6v0.6h-0.6zM234.79 364.29h0.6v0.6h-0.6zM234.62 363.08h0.6v0.6h-0.6zM234.06 372.19h0.6v0.6h-0.6zM227.51 362.42h0.6v0.6h-0.6zM235.9 362.57h0.6v0.6h-0.6zM224.26 361.75h0.6v0.6h-0.6zM225.19 361.8h0.6v0.6h-0.6zM226.53 361.57h0.6v0.6h-0.6zM229.38 359.18h0.6v0.6h-0.6zM225.34 354.08h0.6v0.6h-0.6zM235.28 359.64h0.6v0.6h-0.6zM235.78 365.28h0.6v0.6h-0.6zM234.11 358.19h0.6v0.6h-0.6zM231.94 363.99h0.6v0.6h-0.6zM237.62 359.9h0.6v0.6h-0.6zM233.27 362.36h0.6v0.6h-0.6zM233.75 358.37h0.6v0.6h-0.6zM228.02 361.35h0.6v0.6h-0.6zM229.51 357.03h0.6v0.6h-0.6z" fill="#555" fill-opacity="0.8"/>
<path d="M229.66 362.21h0.6v0.6h-0.6zM236.65 354.01h0.6v0.6h-0.6zM228.67 361.69h0.6v0.6h-0.6zM235.25 359.13h0.6v0.6h-0.6zM232.15 362.05h0.6v0.6h-0.6zM232.01 358.29h0.6v0.6h-0.6zM231.24 366.46h0.6v0.6h-0.6zM227.43 363.35h0.6v0.6h-0.6zM230.6 361.98h0.6v0.6h-0.6zM230.26 355.67h0.6v0.6h-0.6zM225.27 358.01h0.6v0.6h-0.6zM231.58 357.38h0.6v0.6h-0.6zM238.45 359.78h0.6v0.6h-0.6zM222.34 366.05h0.6v0.6h-0.6zM231.51 358.04h0.6v0.6h-0.6zM244.52 358.52h0.6v0.6h-0.6zM228.28 361.75h0.6v0.6h-0.6zM233.06 356.4h0.6v0.6h-0.6zM224.58 363.39h0.6v0.6h-0.6zM225.01 361.41h0.6v0.6h-0.6zM206.54 362.37h0.6v0.6h-0.6zM237.72 363.66h0.6v0.6h-0.6zM231.95 364.5h0.6v0.6h-0.6zM233.05 363.72h0.6v0.6h-0.6zM231.79 358.76h0.6v0.6h-0.6zM229.78 361.58h0.6v0.6h-0.6zM231.3 361.78h0.6v0.6h-0.6zM234.26 358.67h0.6v0.6h-0.6zM231.13 365.74h0.6v0.6h-0.6zM235.2 348.76h0.6v0.6h-0.6zM234.12 356.95h0.6v0.6h-0.6zM232.28 363.04h0.6v0.6h-0.6zM233.15 360.67h0.6v0.6h-0.6zM234.49 361.34h0.6v0.6h-0.6zM238.76 363.1h0.6v0.6h-0.6zM233.11 357.81h0.6v0.6h-0.6zM222.02 363.77h0.6v0.6h-0.6zM231.91 357.06h0.6v0.6h-0.6zM233.75 363.95h0.6v0.6h-0.6zM230.53 365.22h0.6v0.6h-0.6zM229.75 354.83h0.6v0.6h-0.6zM225.3 360.17h0.6v0.6h-0.6zM234.78 359.28h0.6v0.6h-0.6zM234.54 356.41h0.6v0.6h-0.6zM212.9 358.78h0.6v0.6h-0.6zM230.15 358.73h0.6v0.6h-0.6zM215.69 367.55h0.6v0.6h-0.6zM231.24 359.55h0.6v0.6h-0.6zM229.77 362.88h0.6v0.6h-0.6zM229.53 355.72h0.6v0.6h-0.6zM234.7 361.54h0.6v0.6h-0.6zM230.09 356.36h0.6v0.6h-0.6zM231.32 364.06h0.6v0.6h-0.6zM228.06 358.11h0.6v0.6h-0.6zM231.64 355.99h0.6v0.6h-0.6zM216 364.49h0.6v0.6h-0.6zM229.51 364.64h0.6v0.6h-0.6zM226.17 361.91h0.6v0.6h-0.6zM234.96 356.06h0.6v0.6h-0.6zM231.57 362.39h0.6v0.6h-0.6zM230.53 360.41h0.6v0.6h-0.6zM240.59 363.57h0.6v0.6h-0.6zM235.42 366.15h0.6v0.6h-0.6zM231.99 361.56h0.6v0.6h-0.6zM231.11 356.26h0.6v0.6h-0.6zM222.14 365.6h0.6v0.6h-0.6zM233.4 358.72h0.6v0.6h-0.6zM230.34 360.37h0.6v0.6h-0.6zM233.65 367.78h0.6v0.6h-0.6zM233.2 363.53h0.6v0.6h-0.6zM216.09 364.65h0.6v0.6h-0.6zM224.43 357.65h0.6v0.6h-0.6zM233.91 360.01h0.6v0.6h-0.6zM237.11 366.52h0.6v0.6h-0.6zM235.95 362.11h0.6v0.6h-0.6zM230.45 355.89h0.6v0.6h-0.6zM225.08 362.58h0.6v0.6h-0.6zM235.76 359h0.6v0.6h-0.6zM229.8 362.14h0.6v0.6h-0.6zM234.96 353.8h0.6v0.6h-0.6zM231.23 366h0.6v0.6h-0.6zM236.3 353.05h0.6v0.6h-0.6zM233.79 364.35h0.6v0.6h-0.6zM232.37 361.32h0.6v0.6h-0.6zM221.3 368.18h0.6v0.6h-0.6zM248.86 355.16h0.6v0.6h-0.6zM233.72 358.48h0.6v0.6h-0.6zM224.68 357.18h0.6v0.6h-0.6zM229.29 363.02h0.6v0.6h-0.6zM230.44 362.01h0.6v0.6h-0.6zM233.24 357.44h0.6v0.6h-0.6zM242.17 360.32h0.6v0.6h-0.6zM236.13 362.03h0.6v0.6h-0.6zM224.72 362.61h0.6v0.6h-0.6zM238.53 363.18h0.6v0.6h-0.6zM246.14 370.61h0.6v0.6h-0.6zM237.17 361.46h0.6v0.6h-0.6zM223.9 361.11h0.6v0.6h-0.6zM235.18 361.55h0.6v0.6h-0.6zM234.27 360.15h0.6v0.6h-0.6zM240.29 357.58h0.6v0.6h-0.6zM234.73 369.06h0.6v0.6h-0.6zM236.1 357.35h0.6v0.6h-0.6zM230.61 358.27h0.6v0.6h-0.6zM232.54 360.96h0.6v0.6h-0.6zM225.22 366.61h0.6v0.6h-0.6zM248.78 366.73h0.6v0.6h-0.6zM230.84 355.08h0.6v0.6h-0.6zM228.63 361.72h0.6v0.6h-0.6zM232.34 366.77h0.6v0.6h-0.6zM232.72 356.17h0.6v0.6h-0.6zM218.86 360.49h0.6v0.6h-0.6zM237.16 362.8h0.6v0.6h-0.6zM237.72 355.66h0.6v0.6h-0.6zM230.88 362.84h0.6v0.6h-0.6zM232.66 361.67h0.6v0.6h-0.6zM226.73 369.49h0.6v0.6h-0.6zM223.02 364.76h0.6v0.6h-0.6zM234.05 362.74h0.6v0.6h-0.6zM217.42 368.83h0.6v0.6h-0.6zM238.64 362.83h0.6v0.6h-0.6zM229.37 363.21h0.6v0.6h-0.6zM228.49 359.23h0.6v0.6h-0.6zM239.98 360.25h0.6v0.6h-0.6zM232.59 363.95h0.6v0.6h-0.6zM233.6 366.5h0.6v0.6h-0.6zM233.22 359.54h0.6v0.6h-0.6zM222.84 356.95h0.6v0.6h-0.6zM235.34 360.67h0.6v0.6h-0.6zM236.49 364.71h0.6v0.6h-0.6zM240.83 360.91h0.6v0.6h-0.6zM238.48 362.19h0.6v0.6h-0.6zM227.77 362.23h0.6v0.6h-0.6zM236.02 359.5h0.6v0.6h-0.6zM237.61 367.55h0.6v0.6h-0.6zM233.82 357.31h0.6v0.6h-0.6zM229.59 364.46h0.6v0.6h-0.6zM233.58 362.89h0.6v0.6h-0.6zM229.22 349.55h0.6v0.6h-0.6zM230.55 363.39h0.6v0.6h-0.6zM232.36 363.19h0.6v0.6h-0.6zM240.93 360.55h0.6v0.6h-0.6zM231 358.37h0.6v0.6h-0.6zM231.84 368.81h0.6v0.6h-0.6zM236.78 359.04h0.6v0.6h-0.6zM235.36 359.82h0.6v0.6h-0.6zM227.05 356.25h0.6v0.6h-0.6zM225.84 362.34h0.6v0.6h-0.6zM232.79 365.33h0.6v0.6h-0.6zM234.96 361.35h0.6v0.6h-0.6zM234.24 358.75h0.6v0.6h-0.6zM239.83 350.67h0.6v0.6h-0.6zM233.87 359.42h0.6v0.6h-0.6zM234.31 356.3h0.6v0.6h-0.6zM234.13 364.63h0.6v0.6h-0.6zM229.17 363.3h0.6v0.6h-0.6zM234 360.73h0.6v0.6h-0.6zM230.43 357.68h0.6v0.6h-0.6zM233.48 363.78h0.6v0.6h-0.6zM237.21 357.57h0.6v0.6h-0.6zM239.8 359.64h0.6v0.6h-0.6zM231.48 368.89h0.6v0.6h-0.6zM235.11 358.46h0.6v0.6h-0.6zM236.1 363.6h0.6v0.6h-0.6zM229.91 357.91h0.6v0.6h-0.6zM233.52 359.56h0.6v0.6h-0.6zM235.37 357.39h0.6v0.6h-0.6zM232.28 357.98h0.6v0.6h-0.6zM241.29 365.02h0.6v0.6h-0.6zM235.13 357.99h0.6v0.6h-0.6zM232.44 359.22h0.6v0.6h-0.6zM231.5 365.44h0.6v0.6h-0.6zM247.09 365.42h0.6v0.6h-0.6zM231.82 365.12h0.6v0.6h-0.6zM234.37 360.09h0.6v0.6h-0.6zM232.97 360.12h0.6v0.6h-0.6zM233.98 363.58h0.6v0.6h-0.6zM231.79 351.81h0.6v0.6h-0.6zM232.68 359.64h0.6v0.6h-0.6zM236.19 354.64h0.6v0.6h-0.6zM232.62 358.18h0.6v0.6h-0.6zM229.55 355.55h0.6v0.6h-0.6zM232.38 360.16h0.6v0.6h-0.6zM232.64 355.16h0.6v0.6h-0.6zM238.33 361.3h0.6v0.6h-0.6zM225.96 362.61h0.6v0.6h-0.6zM230.12 364.32h0.6v0.6h-0.6zM239.19 368.39h0.6v0.6h-0.6zM234.21 365.67h0.6v0.6h-0.6zM237.32 353.06h0.6v0.6h-0.6zM222.16 360.7h0.6v0.6h-0.6zM229.91 358.51h0.6v0.6h-0.6zM235.94 363.89h0.6v0.6h-0.6zM232.29 362.39h0.6v0.6h-0.6zM226.55 363.84h0.6v0.6h-0.6zM228.9 352.78h0.6v0.6h-0.6zM248.21 359.06h0.6v0.6h-0.6zM233.04 358.33h0.6v0.6h-0.6zM230.45 359.66h0.6v0.6h-0.6zM233.21 364.66h0.6v0.6h-0.6zM230.28 361.1h0.6v0.6h-0.6zM233.27 362.56h0.6v0.6h-0.6zM235.99 357.45h0.6v0.6h-0.6zM232.29 367.52h0.6v0.6h-0.6zM224.53 364.42h0.6v0.6h-0.6zM221.91 361.53h0.6v0.6h-0.6zM210.8 362.65h0.6v0.6h-0.6zM235.56 365.32h0.6v0.6h-0.6zM235.64 358.29h0.6v0.6h-0.6zM239.68 364.61h0.6v0.6h-0.6zM231.88 360.21h0.6v0.6h-0.6zM234.71 360.18h0.6v0.6h-0.6zM237.02 364.89h0.6v0.6h-0.6zM236.27 364.22h0.6v0.6h-0.6zM228.7 358.01h0.6v0.6h-0.6zM232.89 358.67h0.6v0.6h-0.6zM229.97 367.19h0.6v0.6h-0.6zM216.67 361.65h0.6v0.6h-0.6zM223.11 371.87h0.6v0.6h-0.6zM233.13 365.9h0.6v0.6h-0.6zM230.53 363.77h0.6v0.6h-0.6zM229.49 362.11h0.6v0.6h-0.6zM233.14 359.91h0.6v0.6h-0.6zM240.69 360.91h0.6v0.6h-0.6zM232.73 352.04h0.6v0.6h-0.6zM229.63 368.38h0.6v0.6h-0.6zM236.76 359.25h0.6v0.6h-0.6zM235.86 363.12h0.6v0.6h-0.6zM229.48 357.72h0.6v0.6h-0.6zM230.89 361.02h0.6v0.6h-0.6zM236.21 364.18h0.6v0.6h-0.6zM232.11 356.79h0.6v0.6h-0.6zM229.25 364.14h0.6v0.6h-0.6zM233.26 356.94h0.6v0.6h-0.6zM235.25 365.77h0.6v0.6h-0.6zM237.69 361.25h0.6v0.6h-0.6zM227.6 360.73h0.6v0.6h-0.6zM236.12 358.4h0.6v0.6h-0.6zM234.53 364.47h0.6v0.6h-0.6zM240.62 365.81h0.6v0.6h-0.6zM233.81 365.58h0.6v0.6h-0.6zM220.65 364.32h0.6v0.6h-0.6zM226.63 362.92h0.6v0.6h-0.6zM219.07 355.66h0.6v0.6h-0.6zM235.86 359.57h0.6v0.6h-0.6zM231.35 358.47h0.6v0.6h-0.6zM234.32 353.4h0.6v0.6h-0.6zM233.75 360.84h0.6v0.6h-0.6zM235.38 360.4h0.6v0.6h-0.6zM227.38 358.62h0.6v0.6h-0.6zM232.9 362.81h0.6v0.6h-0.6zM233.85 357.86h0.6v0.6h-0.6zM226.65 358.32h0.6v0.6h-0.6zM231 359.49h0.6v0.6h-0.6zM231.09 357.82h0.6v0.6h-0.6zM218.37 354.14h0.6v0.6h-0.6zM230.92 356.57h0.6v0.6h-0.6zM233.76 363.26h0.6v0.6h-0.6zM236.14 359.88h0.6v0.6h-0.6zM238.14 363.63h0.6v0.6h-0.6zM232.67 357.66h0.6v0.6h-0.6zM220.48 362.7h0.6v0.6h-0.6zM244.29 362.2h0.6v0.6h-0.6zM234.18 366.58h0.6v0.6h-0.6zM229.76 361h0.6v0.6h-0.6zM233.51 365.65h0.6v0.6h-0.6zM239.56 358.9h0.6v0.6h-0.6zM229.41 362.27h0.6v0.6h-0.6zM245.77 355.25h0.6v0.6h-0.6zM232.52 357.95h0.6v0.6h-0.6zM233.1 354.99h0.6v0.6h-0.6zM236.04 353.33h0.6v0.6h-0.6zM236.27 354.14h0.6v0.6h-0.6zM231.4 366.24h0.6v0.6h-0.6zM231.23 367.41h0.6v0.6h-0.6zM229.31 358.24h0.6v0.6h-0.6zM230.78 362.15h0.6v0.6h-0.6zM227.85 358.52h0.6v0.6h-0.6zM248.01 356.86h0.6v0.6h-0.6zM230.06 362.8h0.6v0.6h-0.6zM223.42 357.13h0.6v0.6h-0.6zM235.86 359.91h0.6v0.6h-0.6zM227.92 370.9h0.6v0.6h-0.6zM236.69 359.7h0.6v0.6h-0.6zM230.9 364.76h0.6v0.6h-0.6zM231.19 359.95h0.6v0.6h-0.6zM231.73 359.88h0.6v0.6h-0.6zM235.75 362h0.6v0.6h-0.6zM230.16 362.56h0.6v0.6h-0.6zM234.41 361.62h0.6v0.6h-0.6zM232.14 367.08h0.6v0.6h-0.6zM230.52 362.88h0.6v0.6h-0.6zM238.53 363.07h0.6v0.6h-0.6zM233.26 360.04h0.6v0.6h-0.6z" fill="#333" fill-opacity="0.8"/>
</g>
<rect x="122.2" y="307.8" width="70.3" height="69.3" fill="none" stroke="#555" stroke-width="0.8"/>
<rect x="202" y="307.8" width="69.8" height="69.3" fill="none" stroke="#555" stroke-width="0.8"/>
<line x1="144.4" y1="307.8" x2="144.4" y2="377.1" stroke="#666" stroke-width="0.7"/>
<line x1="122.2" y1="354.4" x2="192.5" y2="354.4" stroke="#666" stroke-width="0.7"/>
<line x1="224.5" y1="307.8" x2="224.5" y2="377.1" stroke="#666" stroke-width="0.7"/>
<line x1="202" y1="354.4" x2="271.8" y2="354.4" stroke="#666" stroke-width="0.7"/>
<text x="124.4" y="375.6" font-size="7.6" text-anchor="start" fill="#000" transform="matrix(1,0,0,1.13,0,-48.83)" textLength="15.2" lengthAdjust="spacingAndGlyphs" stroke="#000" stroke-width="0.25">61%</text>
<text x="175.3" y="375.6" font-size="7.6" text-anchor="start" fill="#000" transform="matrix(1,0,0,1.13,0,-48.83)" textLength="15" lengthAdjust="spacingAndGlyphs" stroke="#000" stroke-width="0.25">24%</text>
<text x="203.9" y="375.6" font-size="7.6" text-anchor="start" fill="#000" transform="matrix(1,0,0,1.13,0,-48.83)" textLength="17.2" lengthAdjust="spacingAndGlyphs" stroke="#000" stroke-width="0.25">6.3%</text>
<text x="255" y="375.6" font-size="7.6" text-anchor="start" fill="#000" transform="matrix(1,0,0,1.13,0,-48.83)" textLength="15" lengthAdjust="spacingAndGlyphs" stroke="#000" stroke-width="0.25">88%</text>
<line x1="116" y1="360.2" x2="116" y2="315.5" stroke="#000" stroke-width="0.9"/>
<polygon points="116,311.8 117.7,316 114.3,316" fill="#000" stroke="none" stroke-width="0.5"/>
<text x="118.8" y="369" font-size="7.4" text-anchor="middle" fill="#000" transform="rotate(-90 118.8 369)" textLength="11.8" lengthAdjust="spacingAndGlyphs" stroke="#000" stroke-width="0.25">Gr1</text>
<text x="123.3" y="386.3" font-size="8" text-anchor="start" fill="#000" transform="matrix(1,0,0,1.13,0,-50.22)" textLength="23.9" lengthAdjust="spacingAndGlyphs" stroke="#000" stroke-width="0.15">CD11c</text>
<line x1="150.1" y1="383.5" x2="265.8" y2="383.5" stroke="#000" stroke-width="1"/>
<polygon points="269.8,383.5 265.3,385.4 265.3,381.6" fill="#000" stroke="none" stroke-width="0.5"/>
<text x="285.6" y="240.9" font-size="11" font-weight="bold" text-anchor="start" fill="#000" transform="matrix(1,0,0,1.13,0,-31.32)" stroke="#000" stroke-width="0.3">G</text>
<line x1="330.2" y1="266.8" x2="330.2" y2="340.9" stroke="#888" stroke-width="0.9"/>
<line x1="330.2" y1="340.8" x2="406.5" y2="340.8" stroke="#888" stroke-width="0.9"/>
<text x="324.6" y="343.7" font-size="8.4" text-anchor="end" fill="#000" transform="matrix(1,0,0,1.13,0,-44.68)" textLength="4.6" lengthAdjust="spacingAndGlyphs" stroke="#000" stroke-width="0.1">0</text>
<text x="324.6" y="329" font-size="8.4" text-anchor="end" fill="#000" transform="matrix(1,0,0,1.13,0,-42.77)" textLength="22.6" lengthAdjust="spacingAndGlyphs" stroke="#000" stroke-width="0.1">0.0001</text>
<text x="324.6" y="314.3" font-size="8.4" text-anchor="end" fill="#000" transform="matrix(1,0,0,1.13,0,-40.86)" textLength="22.6" lengthAdjust="spacingAndGlyphs" stroke="#000" stroke-width="0.1">0.0002</text>
<text x="324.6" y="299.6" font-size="8.4" text-anchor="end" fill="#000" transform="matrix(1,0,0,1.13,0,-38.95)" textLength="22.6" lengthAdjust="spacingAndGlyphs" stroke="#000" stroke-width="0.1">0.0003</text>
<text x="324.6" y="284.9" font-size="8.4" text-anchor="end" fill="#000" transform="matrix(1,0,0,1.13,0,-37.04)" textLength="22.6" lengthAdjust="spacingAndGlyphs" stroke="#000" stroke-width="0.1">0.0004</text>
<text x="324.6" y="270.2" font-size="8.4" text-anchor="end" fill="#000" transform="matrix(1,0,0,1.13,0,-35.13)" textLength="22.6" lengthAdjust="spacingAndGlyphs" stroke="#000" stroke-width="0.1">0.0005</text>
<text x="292.6" y="298.3" font-size="9.2" text-anchor="middle" fill="#000" transform="rotate(-90 292.6 298.3)" textLength="53" lengthAdjust="spacingAndGlyphs" stroke="#000" stroke-width="0.15">Mysm1/Actin</text>
<rect x="342.1" y="311.2" width="15.2" height="29.6" fill="#000" stroke="none" stroke-width="1"/>
<line x1="349.7" y1="311.2" x2="349.7" y2="308.2" stroke="#000" stroke-width="0.9"/>
<line x1="346.5" y1="308.2" x2="353" y2="308.2" stroke="#000" stroke-width="0.9"/>
<rect x="379.2" y="275.7" width="14.5" height="65.1" fill="#000" stroke="none" stroke-width="1"/>
<line x1="383" y1="274.3" x2="390" y2="274.3" stroke="#000" stroke-width="0.9"/>
<line x1="347.3" y1="268.1" x2="385.2" y2="268.1" stroke="#000" stroke-width="0.9"/>
<text x="366.4" y="268" font-size="11" text-anchor="middle" fill="#000" transform="matrix(1,0,0,1.13,0,-34.84)" stroke="#000" stroke-width="0.2">*</text>
<text x="344.2" y="355.0" font-size="8.6" stroke="#000" stroke-width="0.1"><tspan textLength="12.3" lengthAdjust="spacingAndGlyphs">Flt3</tspan><tspan dy="-3" font-size="5">-</tspan></text>
<text x="351" y="365" font-size="8.6" text-anchor="middle" fill="#000" transform="matrix(1,0,0,1.13,0,-47.45)" textLength="16.7" lengthAdjust="spacingAndGlyphs" stroke="#000" stroke-width="0.1">CMP</text>
<text x="380.6" y="355.0" font-size="8.6" stroke="#000" stroke-width="0.1"><tspan textLength="12.3" lengthAdjust="spacingAndGlyphs">Flt3</tspan><tspan dy="-3" font-size="5">+</tspan></text>
<text x="387.4" y="365" font-size="8.6" text-anchor="middle" fill="#000" transform="matrix(1,0,0,1.13,0,-47.45)" textLength="16.7" lengthAdjust="spacingAndGlyphs" stroke="#000" stroke-width="0.1">CMP</text>
<text x="412.4" y="241.3" font-size="11" font-weight="bold" text-anchor="start" fill="#000" transform="matrix(1,0,0,1.13,0,-31.37)" stroke="#000" stroke-width="0.3">H</text>
<rect x="434" y="230.4" width="72.2" height="70.6" fill="none" stroke="#555" stroke-width="0.8"/>
<text x="431.1" y="267.3" font-size="9.2" text-anchor="middle" fill="#000" transform="rotate(-90 431.1 267.3)" textLength="39" lengthAdjust="spacingAndGlyphs" stroke="#000" stroke-width="0.2">% of Max</text>
<rect x="434" y="315.6" width="72.2" height="69.7" fill="none" stroke="#555" stroke-width="0.8"/>
<text x="431.1" y="349.3" font-size="9.2" text-anchor="middle" fill="#000" transform="rotate(-90 431.1 349.3)" textLength="39" lengthAdjust="spacingAndGlyphs" stroke="#000" stroke-width="0.2">% of Max</text>
<polyline points="453.1,299 453.27,298.4 453.5,298.51 453.76,296.22 454.06,295.81 454.38,296.1 454.71,294.57 455.05,292.56 455.38,291.88 455.7,291.76 456,289.89 456.21,288.37 456.42,289.11 456.63,286.87 456.85,286.9 457.06,285.96 457.28,284.75 457.49,284.73 457.7,282.38 457.9,282.22 458.1,280.43 458.29,281.06 458.47,278.71 458.64,278.53 458.8,278.3 459,277.31 459.18,274.85 459.35,275.25 459.49,274.21 459.63,272.3 459.76,272.15 459.89,270.27 460.02,269.22 460.16,268.31 460.3,267.66 460.47,267.56 460.64,265.88 460.82,265.82 460.99,264.65 461.17,262.43 461.34,261.86 461.5,260.25 461.66,260.25 461.8,259.4 461.95,258.36 462.09,256.48 462.22,256.46 462.35,254.62 462.47,255.03 462.58,253.49 462.69,252.03 462.8,252.86 462.97,251.51 463.11,249.33 463.27,249.44 463.5,247.31 463.85,246.61 464.29,245.46 464.73,244.89 465.1,243.23 465.37,243.51 465.59,244.58 465.79,246.27 466,248.53 466.1,249.16 466.2,248.9 466.29,250.94 466.39,250.94 466.49,251.66 466.59,253.55 466.69,255.42 466.79,256.52 466.9,256.79 466.99,258.28 467.08,258.06 467.17,258.89 467.26,261.23 467.36,261.63 467.46,261.67 467.55,262.91 467.65,264.64 467.74,264.31 467.83,265.51 467.92,267.58 468,267.53 468.07,268.75 468.13,269.68 468.19,270.68 468.24,271.3 468.29,272.12 468.34,274.05 468.39,274.91 468.45,276.18 468.5,275.49 468.57,276.63 468.64,278.81 468.71,278.75 468.8,280.53 468.9,280.64 469,281.82 469.1,283.35 469.21,283.95 469.32,285.16 469.44,285.3 469.57,287.78 469.7,288.32 469.85,288.6 470.02,289.87 470.2,290.99 470.4,292.28 470.78,291.8 471.2,294.44 471.66,294.72 472.16,294.52 472.68,295.81 473.23,297.1 473.8,296.6 474.68,298.19 475.64,298.72 476.64,299.2 477.62,298.6 478.5,298.93 479.54,301 480.54,299.85 481.4,300.09 482,300.8" fill="none" stroke="#aaa" stroke-width="1" stroke-linejoin="round"/>
<polyline points="437,300.5 437.46,300.16 438.09,299.32 438.83,299.49 439.65,298.19 440.48,297.95 441.28,298.13 442,295.75 442.51,295.5 443.02,295.4 443.53,293.52 444.03,292.8 444.51,293.14 444.97,292.54 445.41,290.49 445.82,289.42 446.2,290.05 446.63,287.96 447,287.58 447.32,286.73 447.61,285.94 447.9,285.59 448.19,284.78 448.5,283.35 448.79,282.7 449.09,281.72 449.39,280.5 449.69,279.15 449.98,277.81 450.27,276.9 450.54,277.12 450.8,275.76 451.04,273.75 451.27,274.25 451.48,272.16 451.69,271.98 451.89,270.63 452.09,269.37 452.29,268.36 452.5,268.14 452.75,266.86 453,266.27 453.25,265.45 453.5,264.74 453.74,263.89 453.98,262.59 454.2,262.34 454.44,260.5 454.67,260.22 454.89,259.14 455.1,258.23 455.31,256.13 455.5,256.13 455.75,254.96 455.98,253.26 456.21,252.9 456.5,252.33 457.04,250.08 457.65,248.82 458.2,249.46 458.46,249.54 458.68,251.35 458.88,252.18 459.08,253.35 459.3,254.55 459.44,254.3 459.59,256.06 459.73,255.84 459.88,256.86 460.02,258.27 460.18,259.03 460.33,259.66 460.5,261.53 460.65,263.24 460.81,262.58 460.98,263.82 461.15,266.02 461.32,266.27 461.49,267.13 461.66,268 461.83,269.66 462,269.95 462.19,270.84 462.38,271.77 462.56,273.5 462.75,273.12 462.94,274.85 463.12,276.14 463.31,275.93 463.5,277.37 463.71,278.41 463.92,279.9 464.12,280.59 464.33,281.45 464.54,281.96 464.76,283.04 465,284.77 465.29,284.25 465.6,285.12 465.91,286.14 466.24,286.8 466.57,287.78 466.9,288.86 467.4,290.69 467.91,292.05 468.44,291.25 469,293 469.55,293.37 470.09,295.34 470.71,296.29 471.5,296.56 472.17,295.93 472.94,297.39 473.77,297.9 474.62,298.69 475.44,298.66 476.2,298.75 477.3,300.27 478.39,301 479.34,300.34 480,300.8" fill="none" stroke="#555" stroke-width="1" stroke-linejoin="round"/>
<polyline points="451.7,384.6 452,383.79 452.41,382.71 452.9,381.62 453.43,381.91 453.98,380.21 454.5,379.34 454.89,378.31 455.31,377.18 455.74,376.97 456.18,375.84 456.6,375.34 457,374.25 457.37,373.69 457.7,372.09 457.98,370.72 458.22,369.86 458.43,370.04 458.62,368.18 458.79,368.18 458.96,367.2 459.13,365.23 459.3,365.51 459.44,363.28 459.59,363.84 459.73,362.81 459.87,360.67 460,360.56 460.13,359.55 460.26,357.44 460.38,357.43 460.49,355.51 460.6,356.04 460.73,354.61 460.84,354.17 460.95,351.57 461.04,351.16 461.14,350.83 461.23,349.95 461.31,348.31 461.4,348.7 461.49,347.6 461.57,345.61 461.65,344.32 461.73,344.26 461.81,342.78 461.9,342.22 462,340.89 462.11,339.73 462.23,337.95 462.35,337.01 462.49,336.46 462.62,335.9 462.75,334.46 462.88,334.35 463,333.57 463.29,334.44 463.55,335.5 463.8,336.68 463.9,337.1 464,337.8 464.1,338.65 464.2,341.08 464.3,342.06 464.4,342.81 464.5,342.6 464.61,344.52 464.72,344.49 464.84,346.79 464.95,347.32 465.07,348.45 465.18,349.18 465.3,349.85 465.4,351.54 465.5,352.7 465.6,352.37 465.69,353.7 465.79,355.22 465.89,356.1 466,356.59 466.1,357.61 466.21,359.47 466.32,359.15 466.43,359.95 466.55,361.72 466.67,361.89 466.78,363.91 466.89,363.78 467,365.76 467.1,365.67 467.18,367.44 467.26,368.05 467.34,368.87 467.42,368.81 467.52,369.63 467.65,370.34 467.8,371.63 467.94,373.39 468.1,373.29 468.27,374.64 468.45,376.31 468.64,376.65 468.84,378.02 469.05,378.85 469.26,380.59 469.48,380.41 469.7,382.7 470.28,383.23 470.89,384.21 471.54,384.4 472.2,384.7 473.21,385.3 474.26,385.3 475,385.1" fill="none" stroke="#aaa" stroke-width="1" stroke-linejoin="round"/>
<polyline points="440.9,384.9 441.24,383.94 441.71,383.74 442.27,382.33 442.87,382.61 443.46,380.56 444,380.09 444.34,380.02 444.68,378.27 445.02,378.43 445.36,377.12 445.69,375.87 446.01,375.1 446.33,374.1 446.62,372.8 446.9,373.09 447.19,371.1 447.45,371.23 447.69,370.1 447.92,367.72 448.15,367.25 448.36,366.75 448.58,366.47 448.8,364.42 449.03,364.3 449.26,362.93 449.48,362.76 449.71,362.09 449.92,360.87 450.13,358.93 450.32,359.05 450.5,357.59 450.68,357.31 450.84,355.65 450.98,355.45 451.12,354.62 451.24,353.38 451.37,352.47 451.5,351.57 451.69,350.01 451.87,348.17 452.04,348.58 452.22,346.63 452.4,344.83 452.58,344.58 452.76,343.55 452.95,342.2 453.13,342.66 453.3,340.3 453.57,340.28 453.83,338.35 454.1,337.22 454.32,338.03 454.55,339.23 454.78,339.95 455,342.47 455.13,343.15 455.25,344.66 455.36,345.35 455.49,346.3 455.63,347.79 455.8,348.88 455.92,349.14 456.05,349.79 456.2,350.64 456.34,352.07 456.5,353.2 456.66,353.97 456.82,354.93 456.98,354.39 457.14,356 457.3,356.26 457.49,358.2 457.69,359.22 457.88,360.2 458.08,361.74 458.28,361.58 458.48,363.45 458.69,364.14 458.9,364.38 459.15,366.78 459.4,366.11 459.66,367.81 459.92,368.88 460.18,369.9 460.44,371.49 460.7,371.59 460.99,373.21 461.26,373.14 461.53,374.44 461.81,374.76 462.13,376.49 462.5,376.86 463.17,378.47 463.93,378.03 464.72,379.33 465.5,380.83 466.39,379.77 467.27,381.45 468.5,382.12 469.23,382.58 470.1,382.72 471.04,383.1 472.01,384.4 472.96,383.63 473.84,384.77 474.6,385 476.06,385.3 477.22,385.05 478,385.1" fill="none" stroke="#555" stroke-width="1" stroke-linejoin="round"/>
<line x1="446.2" y1="245.4" x2="448.37" y2="258.98" stroke="#000" stroke-width="2"/>
<polygon points="449.4,265.4 445.53,258.93 451.06,258.05" fill="#000" stroke="none" stroke-width="0.5"/>
<line x1="488.9" y1="243.1" x2="470.85" y2="261.48" stroke="#777" stroke-width="1.4"/>
<polygon points="467,265.4 469.42,259.37 472.99,262.87" fill="#777" stroke="none" stroke-width="0.5"/>
<line x1="444.5" y1="328.9" x2="448.86" y2="344.64" stroke="#000" stroke-width="2"/>
<polygon points="450.6,350.9 446.03,344.9 451.43,343.41" fill="#000" stroke="none" stroke-width="0.5"/>
<line x1="489" y1="330" x2="470.25" y2="347.18" stroke="#777" stroke-width="1.4"/>
<polygon points="466.2,350.9 468.93,345 472.31,348.69" fill="#777" stroke="none" stroke-width="0.5"/>
<text x="438" y="238.7" font-size="6.4" text-anchor="start" fill="#000" transform="matrix(1,0,0,1.13,0,-31.03)" textLength="21.5" lengthAdjust="spacingAndGlyphs" stroke="#000" stroke-width="0.1">LV-GFP</text>
<text x="474.3" y="238.7" font-size="6.4" text-anchor="start" fill="#000" transform="matrix(1,0,0,1.13,0,-31.03)" textLength="27.2" lengthAdjust="spacingAndGlyphs" stroke="#000" stroke-width="0.1">LV-Mysm1</text>
<text x="438" y="325.4" font-size="6.4" text-anchor="start" fill="#000" transform="matrix(1,0,0,1.13,0,-42.3)" textLength="21" lengthAdjust="spacingAndGlyphs" stroke="#000" stroke-width="0.1">LV-GFP</text>
<text x="473.4" y="325.4" font-size="6.4" text-anchor="start" fill="#000" transform="matrix(1,0,0,1.13,0,-42.3)" textLength="28.8" lengthAdjust="spacingAndGlyphs" stroke="#000" stroke-width="0.1">LV-Mysm1</text>
<text x="436.8" y="310.9" font-size="7.6" text-anchor="start" fill="#000" transform="matrix(1,0,0,1.13,0,-40.42)" textLength="12.4" lengthAdjust="spacingAndGlyphs" stroke="#000" stroke-width="0.15">Flt3</text>
<line x1="456.5" y1="308.2" x2="490.4" y2="308.2" stroke="#000" stroke-width="1"/>
<polygon points="494.4,308.2 489.9,310.1 489.9,306.3" fill="#000" stroke="none" stroke-width="0.5"/>
<text x="434.9" y="394" font-size="7.2" text-anchor="start" fill="#000" transform="matrix(1,0,0,1.13,0,-51.22)" textLength="21.6" lengthAdjust="spacingAndGlyphs" stroke="#000" stroke-width="0.2">CD11C</text>
<line x1="462" y1="391.2" x2="491.4" y2="391.2" stroke="#000" stroke-width="1"/>
<polygon points="495.4,391.2 490.9,393.1 490.9,389.3" fill="#000" stroke="none" stroke-width="0.5"/>
</svg></body></html>
